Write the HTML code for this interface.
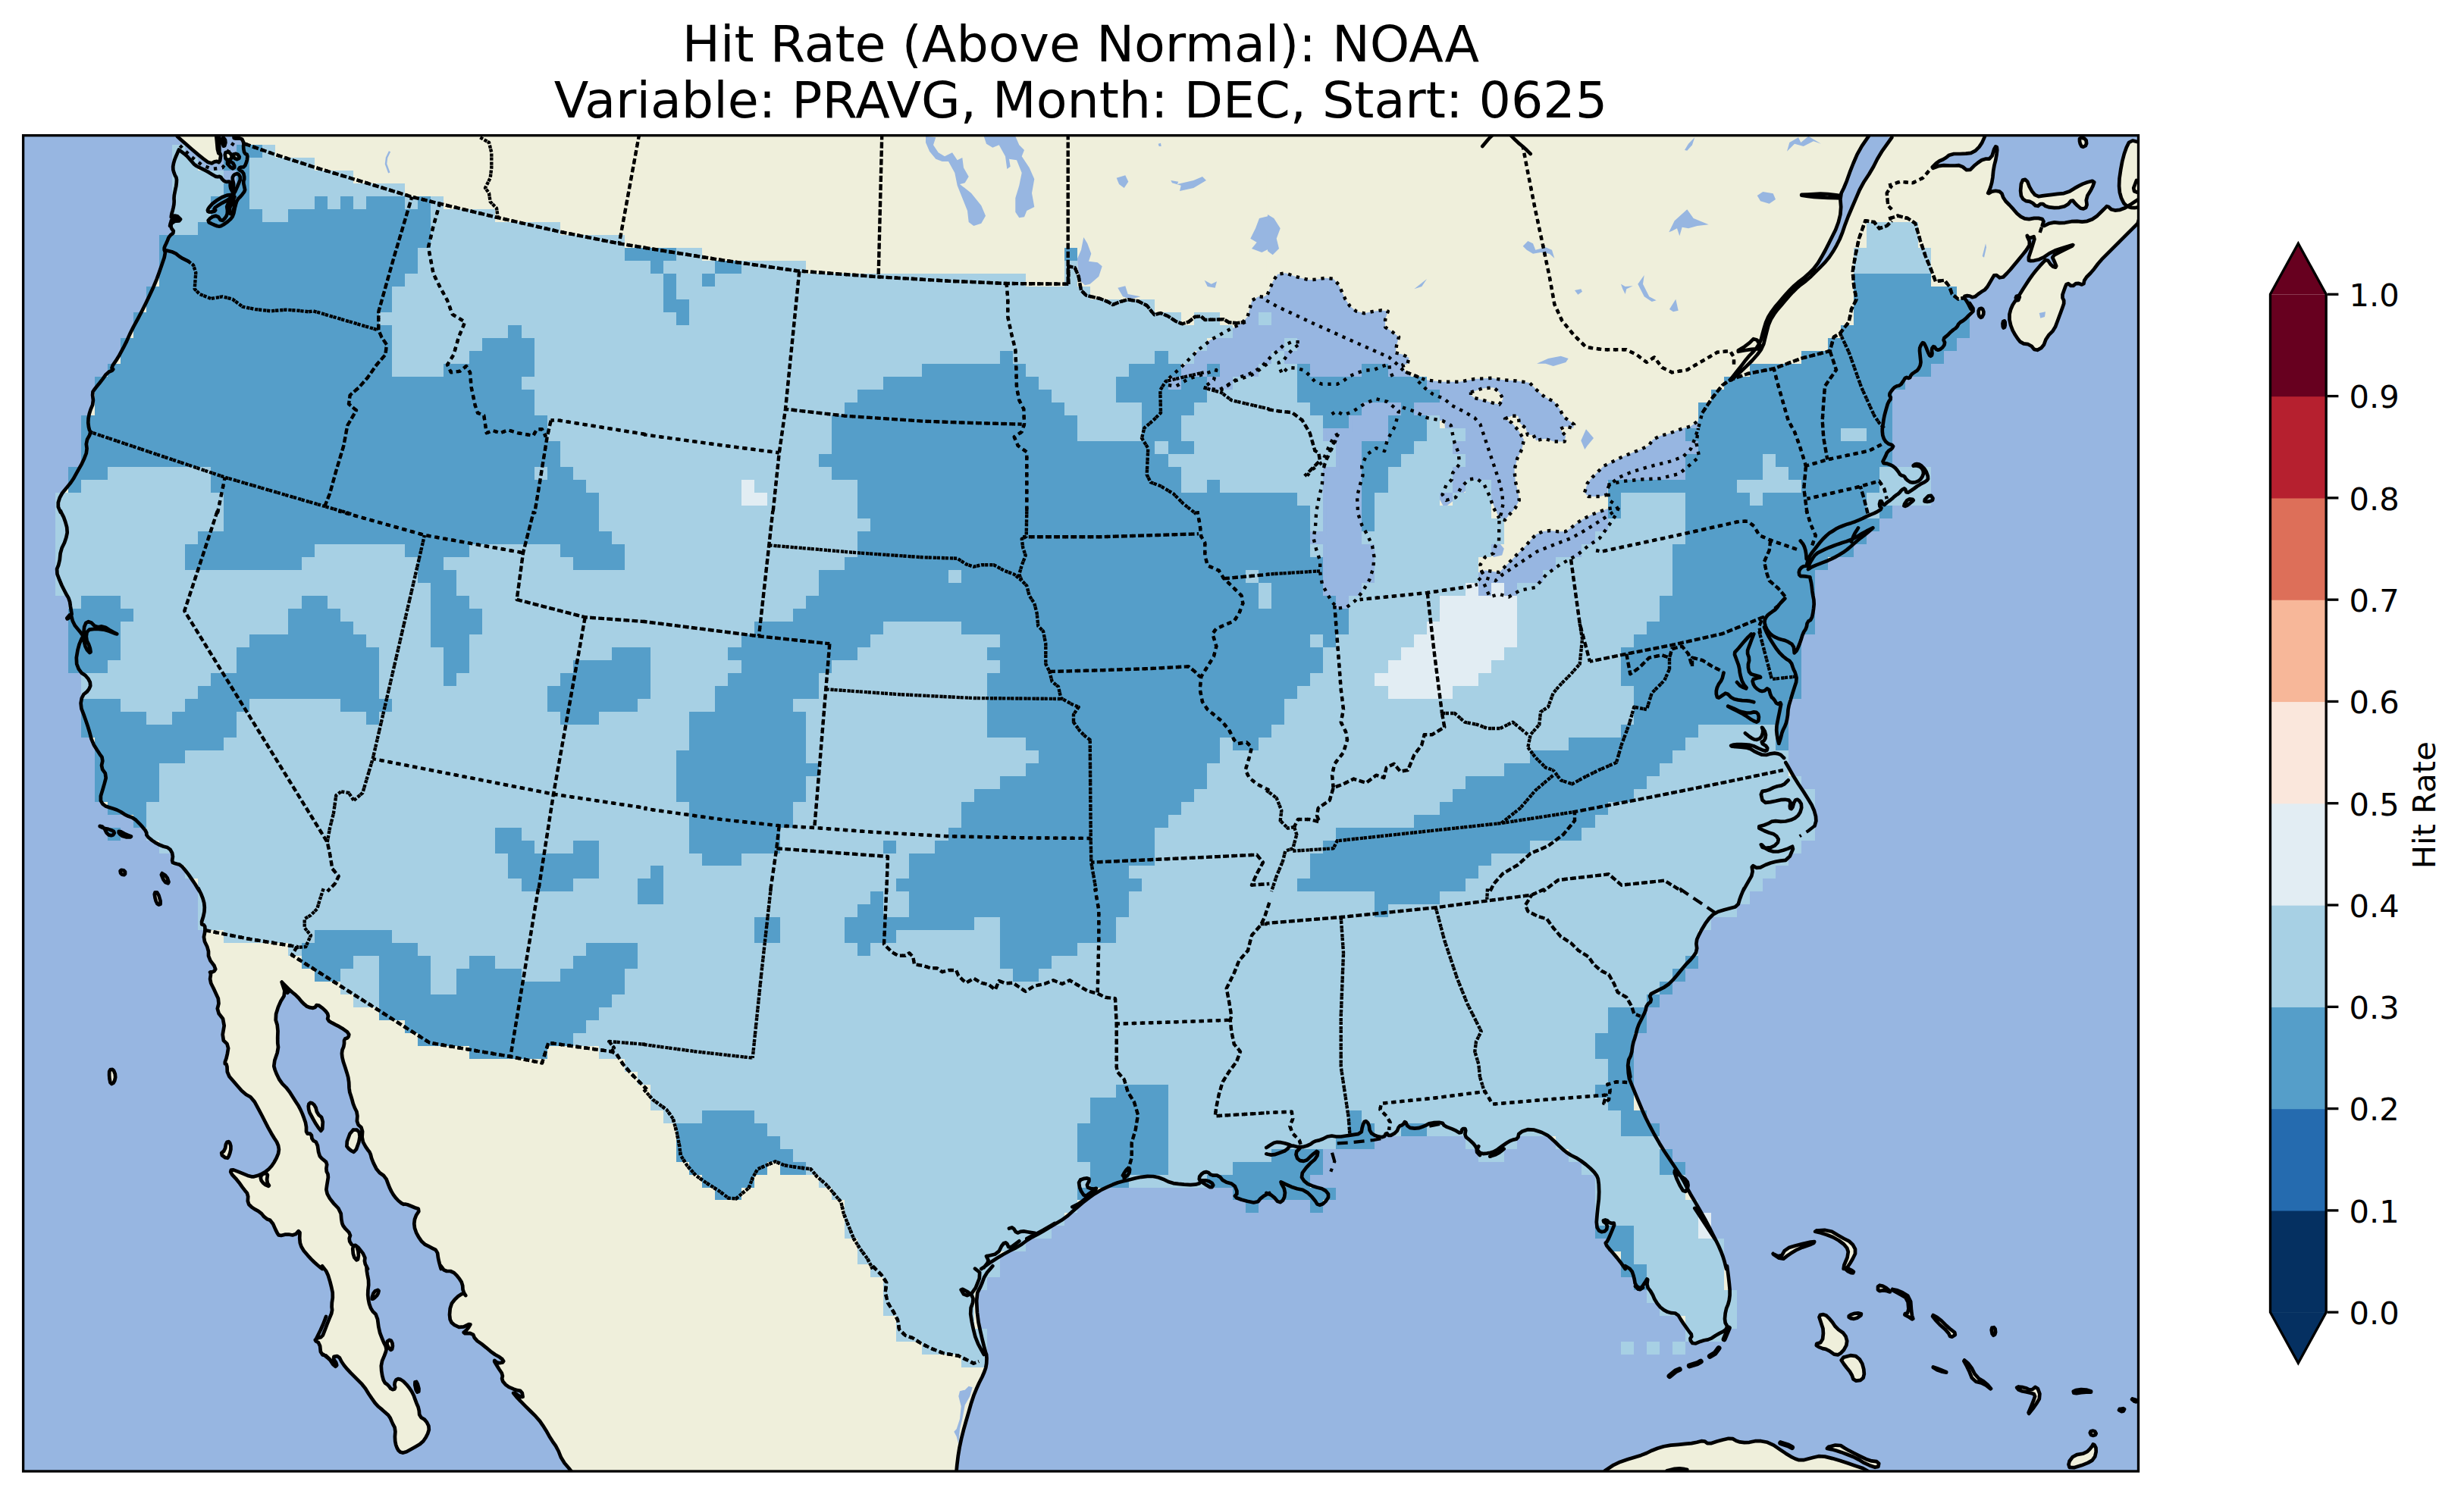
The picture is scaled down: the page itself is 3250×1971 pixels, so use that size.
<!DOCTYPE html>
<html lang="en"><head><meta charset="utf-8"><title>Hit Rate (Above Normal): NOAA</title>
<style>
html,body{margin:0;padding:0;background:#fff;}
body{width:3250px;height:1971px;overflow:hidden;}
svg{display:block;}
text{font-family:"DejaVu Sans","Liberation Sans",sans-serif;fill:#000;}
.coast{fill:none;stroke:#000;stroke-width:4.7;stroke-linejoin:round;stroke-linecap:round;}
.bord{fill:none;stroke:#000;stroke-width:4.4;stroke-dasharray:4.3 6.8;stroke-linejoin:round;}
.st{fill:none;stroke:#000;stroke-width:4.4;stroke-dasharray:4.3 6.8;stroke-linejoin:round;}
.st2{fill:none;stroke:#000;stroke-width:4.4;stroke-dasharray:8.2 2.9;stroke-linejoin:round;}
.land{fill:#efefdb;stroke:none;}
.lake{fill:#97b6e1;stroke:none;}
.dash{fill:none;stroke:#000;stroke-width:4.2;stroke-dasharray:14 8;}
.keys{fill:none;stroke:#000;stroke-width:7;stroke-dasharray:16 14;stroke-linecap:round;}
.riv{fill:none;stroke:#97b6e1;stroke-width:2.5;}
</style></head><body>
<svg width="3250" height="1971" viewBox="0 0 3250 1971">
<defs><clipPath id="fr"><rect x="30.6" y="178.7" width="2789.9" height="1762.3"/></clipPath></defs>
<rect width="3250" height="1971" fill="#fff"/>
<text x="1425.5" y="80.6" font-size="66.67" text-anchor="middle">Hit Rate (Above Normal): NOAA</text>
<text x="1425.5" y="154.6" font-size="66.67" text-anchor="middle">Variable: PRAVG, Month: DEC, Start: 0625</text>
<g clip-path="url(#fr)">
<rect x="30.6" y="178.7" width="2789.9" height="1762.3" fill="#97b6e1"/>
<path class="land" d="M298.0 240.1L293.9 237.6L290.6 232.7L285.7 233.5L281.7 231.1L273.5 226.2L265.3 222.1L257.2 218.0L252.3 212.3L245.7 204.9L235.9 197.6L235.9 197.6L232.7 204.9L229.4 213.1L227.8 222.1L230.2 230.3L233.1 235.2L232.7 243.3L231.0 251.5L229.4 259.7L229.8 267.8L228.2 276.0L226.1 283.3L225.7 287.8L231.8 283.3L240.0 291.1L225.3 292.3L223.7 300.0L226.7 288.0L240.0 289.7L226.7 293.0L225.0 299.7L230.0 306.3L223.3 311.3L220.0 319.7L216.7 326.3L216.7 329.7L218.3 334.7L211.7 354.7L205.0 373.0L195.0 394.7L185.0 414.7L173.3 436.3L165.0 454.7L155.0 473.0L146.7 484.7L150.0 488.0L141.7 491.3L133.3 503.0L125.0 513.0L121.7 518.0L123.3 531.3L118.3 543.0L116.0 554.7L117.3 566.3L120.0 570.7L113.3 583.0L115.0 594.7L110.0 608.0L101.7 623.0L95.0 634.7L88.3 643.0L80.0 653.0L75.7 666.3L80.0 676.0L853.3 678.0L853.3 176.3L320.0 176.3L308.6 179.6L318.4 182.1L321.7 188.6L320.9 194.3L322.5 202.5L326.6 204.1L325.8 212.3L322.5 220.5L316.8 220.5L314.3 223.7L320.9 227.0L322.5 235.2L306.2 252.3Z"/>
<path class="land" d="M233.9 180.0L249.0 193.5L265.3 207.4L277.6 216.4L284.9 212.3L289.8 214.7L291.5 202.5L287.4 202.5L285.3 180.0Z"/>
<path class="land" d="M296.4 201.7L301.3 200.0L306.2 204.9L304.5 210.7L298.0 211.5L296.4 201.7Z"/>
<path class="land" d="M306.2 204.1L312.7 202.5L316.8 208.2L311.1 210.7L306.2 204.1Z"/>
<path class="land" d="M298.0 213.9L306.2 213.1L310.2 220.5L306.2 222.9L298.0 213.9Z"/>
<path class="land" d="M293.9 180.4L298.0 186.2L295.5 194.3L293.1 187.8L293.9 180.4Z"/>
<path class="land" d="M849.3 176.3L1674.3 176.3L1674.3 678.0L849.3 678.0Z"/>
<path class="land" d="M1670.3 176.3L2495.3 176.3L2495.3 678.0L1670.3 678.0Z"/>
<path class="land" d="M2491.3 176.3L2618.0 176.3L2618.0 179.7L2613.0 191.3L2603.0 201.3L2589.7 203.0L2573.0 203.0L2564.7 209.7L2556.3 213.0L2546.3 223.0L2559.7 218.0L2576.3 218.7L2586.3 218.0L2596.3 226.3L2606.3 216.3L2616.3 209.7L2626.3 209.7L2631.3 193.0L2634.7 194.7L2633.0 208.0L2629.7 221.3L2628.0 238.0L2624.7 249.7L2621.3 256.3L2629.7 251.3L2639.7 253.0L2643.0 263.0L2653.0 273.0L2663.0 284.7L2673.0 289.7L2686.3 287.3L2696.3 289.7L2693.0 299.7L2706.3 293.0L2719.7 294.7L2736.3 291.3L2749.7 293.0L2763.0 288.0L2776.3 274.7L2779.7 271.3L2786.3 278.0L2799.7 276.3L2813.0 268.0L2823.0 261.3L2823.0 291.3L2809.7 304.7L2799.7 314.7L2789.7 324.7L2779.7 334.7L2769.7 344.7L2759.7 358.0L2749.7 368.0L2748.0 376.3L2739.7 373.0L2733.0 378.0L2726.3 373.0L2723.0 381.3L2719.7 391.3L2723.0 398.0L2719.7 408.0L2714.7 421.3L2709.7 434.7L2699.7 444.7L2694.7 458.0L2684.7 463.0L2678.0 454.7L2666.3 453.0L2659.7 444.7L2653.0 433.0L2649.7 418.0L2653.0 404.7L2659.7 394.7L2666.3 384.7L2674.7 371.3L2683.0 359.7L2693.0 348.0L2699.7 341.3L2706.3 351.3L2713.0 353.0L2709.7 344.7L2706.3 338.0L2719.7 331.3L2738.0 322.0L2723.0 326.3L2706.3 332.0L2693.0 341.3L2679.7 344.7L2674.7 343.0L2679.7 328.0L2684.7 311.3L2676.3 314.7L2673.0 309.7L2678.0 321.3L2673.0 329.7L2666.3 338.0L2658.0 348.0L2649.7 358.0L2639.7 368.0L2631.3 361.3L2626.3 369.7L2619.7 381.3L2611.3 386.3L2603.0 393.0L2596.3 389.7L2589.7 391.3L2594.7 398.0L2599.7 408.0L2491.3 408.0Z"/>
<path class="land" d="M2823.0 188.0L2809.7 184.7L2803.0 198.0L2798.0 218.0L2794.7 241.3L2796.3 258.0L2803.0 271.3L2813.0 274.7L2823.0 273.0Z"/>
<path class="land" d="M2666.3 238.0L2673.0 236.3L2678.0 249.7L2686.3 259.7L2696.3 258.0L2709.7 256.3L2726.3 254.7L2739.7 246.3L2749.7 241.3L2763.0 238.0L2759.7 248.0L2751.3 261.3L2753.0 273.0L2746.3 276.3L2738.0 269.7L2733.0 263.0L2726.3 271.3L2713.0 274.7L2699.7 273.0L2693.0 268.0L2686.3 273.0L2679.7 266.3L2669.7 264.7L2664.7 256.3Z"/>
<path class="land" d="M2609.7 408.0L2614.7 406.3L2617.0 413.0L2613.7 419.7L2609.7 416.3Z"/>
<path class="land" d="M2641.3 424.7L2644.7 423.0L2644.7 431.3L2642.0 433.0Z"/>
<path class="land" d="M2658.0 391.3L2664.7 389.7L2661.3 398.0Z"/>
<path class="land" d="M2743.0 181.3L2751.3 183.0L2752.3 191.3L2746.3 194.7L2743.0 188.0Z"/>
<path class="land" d="M2598.0 400.0L2604.0 409.0L2598.0 415.1L2591.0 422.1L2583.9 426.1L2580.9 432.1L2574.9 436.1L2568.9 442.2L2562.9 447.2L2565.9 453.2L2560.8 460.2L2554.8 462.2L2550.8 456.2L2547.8 460.2L2548.8 468.3L2545.8 470.3L2542.8 464.3L2539.8 456.2L2536.7 451.2L2533.7 455.2L2531.7 460.2L2532.7 470.3L2533.7 480.3L2529.7 488.4L2524.7 491.4L2520.7 494.4L2518.7 499.4L2513.7 497.4L2510.6 502.4L2506.6 508.4L2500.6 509.4L2495.6 514.5L2491.6 520.5L2494.6 525.5L2490.6 530.5L2487.6 540.6L2484.9 550.6L2483.5 560.6L2482.5 566.7L2483.5 576.7L2488.6 584.7L2497.6 587.8L2495.6 591.8L2489.6 595.8L2486.5 602.8L2482.5 610.8L2490.6 611.8L2498.6 615.9L2503.6 621.9L2506.6 626.9L2511.6 627.9L2514.7 632.9L2520.7 636.9L2528.7 635.9L2534.7 630.9L2537.8 622.9L2533.7 615.9L2526.7 613.9L2522.7 614.9L2526.7 611.8L2532.7 612.9L2539.8 619.9L2543.8 630.9L2540.8 634.9L2530.7 640.0L2522.7 646.0L2514.7 651.0L2512.7 644.0L2508.6 646.0L2504.6 651.0L2499.6 654.0L2494.6 659.0L2488.6 663.1L2484.5 667.1L2480.5 659.0L2478.5 667.1L2482.5 671.1L2474.5 676.1L2464.5 680.1L2454.4 685.1L2444.4 689.2L2434.3 692.2L2424.3 696.2L2418.3 700.0L2418.3 701.2L2348.0 701.2L2348.0 398.0L2598.0 398.0Z"/>
<path class="land" d="M2510.6 667.1L2516.7 658.0L2524.7 659.0L2520.7 663.1L2513.7 668.1Z"/>
<path class="land" d="M2536.7 661.0L2545.8 652.0L2550.8 659.0L2543.8 662.0Z"/>
<path class="land" d="M80.0 674.3L85.0 684.3L89.3 699.3L86.7 712.7L80.0 726.0L78.3 742.7L74.0 753.3L80.0 769.3L86.7 782.7L91.7 791.0L93.3 802.7L95.0 812.7L86.7 817.7L93.3 809.3L96.7 822.7L105.0 832.7L110.0 839.3L108.3 841.0L103.3 852.7L100.0 872.7L105.0 886.0L115.0 892.7L120.0 902.7L116.7 911.0L108.3 917.7L106.0 931.0L111.7 946.0L117.3 962.7L121.7 979.3L130.0 992.7L136.0 1001.0L133.3 1012.7L140.7 1022.7L136.7 1037.7L131.7 1054.3L136.7 1062.7L146.7 1066.0L156.7 1069.3L166.7 1076.0L176.7 1079.3L186.7 1089.3L193.3 1097.7L193.3 1102.7L203.3 1111.0L213.3 1116.0L223.3 1118.7L228.3 1127.7L226.7 1137.7L231.7 1139.3L238.3 1141.0L246.7 1151.0L255.0 1162.7L263.3 1176.0L853.3 1176.0L853.3 674.3Z"/>
<path class="land" d="M130.0 1089.3L136.7 1091.0L141.7 1101.0L148.3 1102.7L151.7 1097.7L145.0 1094.3L136.7 1092.7Z"/>
<path class="land" d="M156.7 1096.0L166.7 1101.0L175.0 1104.3L163.3 1104.3L156.7 1099.3Z"/>
<path class="land" d="M158.3 1147.7L165.0 1148.7L165.0 1154.3L159.3 1153.3Z"/>
<path class="land" d="M211.7 1151.0L220.0 1156.0L223.3 1166.0L216.7 1163.3Z"/>
<path class="land" d="M849.3 674.3L1674.3 674.3L1674.3 1176.0L849.3 1176.0Z"/>
<path class="land" d="M1670.3 674.3L2418.7 674.3L2418.2 700.1L2411.2 704.4L2402.1 713.5L2395.2 722.6L2389.5 729.4L2385.0 737.4L2382.7 746.5L2382.7 746.5L2377.0 747.6L2372.5 753.3L2373.6 760.1L2379.3 760.1L2387.3 761.3L2387.3 761.3L2389.5 771.5L2390.7 782.9L2393.0 794.3L2391.8 805.7L2389.5 817.0L2383.9 820.4L2382.7 828.4L2378.2 835.2L2374.8 846.6L2370.2 858.0L2366.8 861.4L2365.7 883.0L2367.9 887.6L2370.2 896.7L2365.7 910.3L2362.2 921.7L2358.8 933.1L2357.7 946.8L2355.4 955.9L2350.9 965.0L2348.6 974.1L2346.3 980.9L2353.1 1000.0L2355.3 1006.0L2368.7 1029.3L2382.0 1049.3L2392.0 1066.0L2396.0 1081.0L2393.7 1089.3L2373.7 1103.3L2367.0 1115.3L2358.7 1134.3L2345.3 1136.0L2332.0 1139.3L2318.7 1146.0L2310.3 1141.0L2312.0 1152.7L2305.3 1164.3L2298.7 1176.0L1670.3 1176.0Z"/>
<path class="land" d="M2385.0 747.6L2389.5 738.5L2395.2 730.6L2404.3 726.0L2415.7 721.0L2427.1 716.9L2438.5 713.5L2447.6 708.9L2459.0 702.1L2470.3 696.4L2470.3 696.4L2461.2 704.4L2452.1 711.2L2443.0 719.2L2433.9 727.1L2422.5 734.0L2413.4 738.5L2402.1 743.1L2393.0 746.5L2388.4 748.8L2385.0 751.0Z"/>
<path class="land" d="M261.7 1172.3L266.7 1182.3L270.0 1194.0L269.3 1205.7L265.0 1219.0L270.0 1220.7L270.7 1227.3L268.3 1239.0L275.0 1252.3L275.0 1264.0L285.0 1277.3L281.7 1282.3L276.7 1282.3L278.3 1284.0L276.7 1294.0L283.3 1307.3L289.3 1320.7L286.0 1334.0L296.7 1347.3L292.7 1370.7L301.7 1379.0L299.3 1394.0L296.0 1403.3L299.3 1404.0L300.0 1417.3L310.0 1429.0L321.7 1442.3L333.3 1449.0L343.3 1467.3L351.7 1484.0L360.0 1499.0L366.7 1509.0L368.3 1519.0L363.3 1530.7L356.7 1540.7L348.3 1547.3L336.7 1552.3L330.0 1552.3L316.7 1546.7L305.0 1542.3L304.0 1547.3L313.3 1557.3L321.7 1569.0L327.3 1575.7L326.7 1587.3L333.3 1594.0L343.3 1599.0L350.0 1607.3L358.3 1610.7L365.0 1625.7L368.3 1630.7L378.3 1628.0L388.3 1630.0L395.7 1622.3L395.0 1637.3L398.3 1647.3L408.3 1659.0L416.7 1667.3L425.0 1674.0L425.0 1674.0L485.0 1674.0L485.0 1674.0L480.7 1665.7L481.7 1657.3L470.0 1642.3L465.0 1644.0L460.0 1635.7L462.7 1628.0L453.3 1619.0L450.7 1612.3L449.3 1597.3L436.7 1584.0L430.0 1572.3L431.7 1560.7L433.3 1550.7L430.0 1544.0L431.7 1534.0L425.0 1529.0L420.7 1524.0L418.3 1507.3L411.7 1504.0L410.7 1495.7L404.0 1495.7L404.0 1484.0L400.0 1472.3L395.0 1460.7L388.3 1450.7L380.0 1437.3L370.0 1427.3L363.3 1414.0L360.7 1404.0L367.3 1384.0L366.0 1374.0L366.7 1355.7L362.7 1342.3L368.3 1324.0L376.7 1310.7L371.7 1295.7L371.7 1295.7L383.3 1307.3L391.7 1314.0L400.0 1324.0L406.7 1329.0L415.0 1330.0L418.3 1324.7L428.3 1332.3L433.3 1339.0L431.7 1345.7L440.0 1350.7L450.0 1355.7L460.7 1363.3L459.3 1369.0L454.0 1370.7L454.0 1379.0L450.7 1387.3L451.7 1397.3L456.7 1412.3L460.0 1424.0L460.7 1439.0L463.3 1447.3L466.7 1459.0L471.7 1469.0L470.7 1482.3L478.3 1489.0L477.3 1504.0L484.0 1515.7L488.3 1520.7L490.7 1530.7L498.3 1545.7L508.3 1552.3L513.3 1565.7L517.3 1574.0L523.3 1582.3L531.7 1589.0L535.0 1588.3L545.0 1592.3L554.0 1595.7L547.3 1605.7L546.0 1617.3L550.0 1629.0L558.3 1640.7L568.3 1645.7L576.7 1650.0L578.3 1662.3L581.7 1674.0L581.7 1674.0L853.3 1674.0L853.3 1172.3Z"/>
<path class="land" d="M406.7 1457.3L410.0 1454.0L416.0 1459.0L418.3 1469.0L426.0 1475.7L425.0 1494.0L418.3 1485.7L411.7 1474.0L407.3 1465.7Z"/>
<path class="land" d="M463.3 1490.7L473.3 1490.7L475.0 1502.3L468.3 1520.7L461.7 1517.3L456.0 1510.7Z"/>
<path class="land" d="M298.3 1507.3L302.7 1505.7L305.0 1514.0L302.7 1524.0L299.3 1529.0L290.7 1522.3L296.7 1517.3Z"/>
<path class="land" d="M144.3 1411.3L149.3 1410.7L152.7 1419.0L150.7 1428.0L146.0 1430.7L144.0 1420.7Z"/>
<path class="land" d="M203.3 1177.3L208.3 1177.3L212.7 1192.3L208.3 1194.0L205.0 1187.3Z"/>
<path class="land" d="M465.0 1644.0L470.0 1642.3L473.3 1654.0L471.7 1664.0L466.0 1657.3Z"/>
<path class="land" d="M849.3 1172.3L1674.3 1172.3L1674.3 1574.0L1664.3 1579.0L1657.7 1587.3L1641.0 1584.0L1627.7 1579.0L1632.7 1574.0L1627.7 1562.3L1614.3 1559.0L1607.7 1550.7L1597.7 1550.7L1592.7 1545.7L1586.0 1547.3L1581.0 1554.0L1584.3 1560.7L1574.3 1563.3L1557.7 1562.3L1544.3 1560.7L1531.0 1554.0L1517.7 1551.3L1501.0 1553.3L1489.3 1556.7L1477.7 1559.0L1464.3 1564.0L1447.7 1572.3L1431.0 1584.0L1417.7 1595.7L1404.3 1607.3L1387.7 1617.3L1371.0 1627.3L1357.7 1634.0L1344.3 1644.0L1327.7 1652.3L1311.0 1662.3L1294.3 1674.0L849.3 1674.0Z"/>
<path class="land" d="M1670.3 1172.3L2300.3 1172.3L2300.3 1172.3L2295.3 1184.0L2292.0 1195.7L2278.7 1199.0L2262.0 1204.0L2252.0 1214.0L2242.0 1230.7L2237.0 1242.3L2238.7 1254.0L2232.0 1264.0L2222.0 1274.0L2208.7 1290.7L2198.7 1300.7L2185.3 1307.3L2175.3 1312.3L2178.7 1320.7L2172.0 1325.7L2170.3 1334.0L2165.3 1344.0L2160.3 1354.0L2157.0 1367.3L2153.7 1377.3L2152.0 1390.7L2147.0 1400.7L2148.0 1420.7L2152.0 1430.7L2160.3 1450.7L2168.7 1470.7L2178.7 1490.7L2192.0 1514.0L2205.3 1534.0L2218.7 1554.0L2227.0 1570.7L2238.7 1590.7L2252.0 1614.0L2262.0 1634.0L2268.7 1647.3L2273.7 1660.7L2277.0 1674.0L2143.7 1674.0L2143.7 1674.0L2135.3 1662.3L2125.3 1650.7L2117.0 1640.7L2120.3 1637.3L2125.3 1625.7L2130.3 1613.3L2123.7 1614.0L2118.7 1609.0L2113.7 1610.7L2120.3 1615.7L2118.7 1624.0L2110.3 1625.7L2105.3 1617.3L2107.0 1597.3L2109.3 1577.3L2108.7 1557.3L2105.3 1549.0L2095.3 1539.0L2082.0 1529.0L2068.7 1522.3L2058.7 1514.0L2048.7 1504.0L2038.7 1495.7L2018.7 1489.0L2003.7 1494.0L2002.0 1502.3L1993.7 1504.0L1985.3 1509.0L1972.0 1519.0L1963.7 1521.3L1953.7 1522.3L1948.7 1517.3L1945.3 1510.7L1938.7 1504.0L1932.0 1499.0L1933.7 1489.0L1928.7 1489.0L1927.0 1495.7L1918.7 1490.7L1905.3 1485.7L1902.0 1480.7L1887.0 1481.3L1878.7 1485.7L1868.7 1489.0L1857.0 1487.3L1853.7 1479.0L1850.3 1484.0L1845.3 1485.7L1842.0 1494.0L1832.0 1499.0L1828.7 1494.0L1825.3 1500.7L1815.3 1499.0L1807.0 1494.0L1805.3 1482.3L1800.3 1478.0L1797.0 1485.7L1795.3 1495.7L1778.7 1498.0L1765.3 1500.0L1753.7 1498.0L1742.0 1504.0L1733.7 1505.7L1727.0 1510.7L1715.3 1514.0L1702.0 1510.7L1697.0 1517.3L1688.7 1520.7L1678.7 1524.0L1670.3 1522.3Z"/>
<path class="land" d="M1670.3 1514.0L1715.3 1514.0L1708.7 1520.7L1712.0 1530.7L1722.0 1532.3L1730.3 1524.0L1738.7 1517.3L1737.0 1527.3L1725.3 1537.3L1715.3 1550.7L1722.0 1560.7L1733.7 1565.7L1747.0 1569.0L1753.7 1577.3L1747.0 1587.3L1738.7 1590.7L1733.7 1582.3L1722.0 1570.7L1707.0 1567.3L1692.0 1560.7L1688.7 1559.0L1695.3 1570.7L1693.7 1582.3L1687.0 1587.3L1678.7 1577.3L1670.3 1574.0Z"/>
<path class="land" d="M2335.3 1652.3L2348.7 1659.0L2355.3 1647.3L2372.0 1642.3L2393.7 1637.3L2392.0 1640.7L2372.0 1647.3L2358.7 1655.7L2350.3 1662.3Z"/>
<path class="land" d="M2390.3 1624.0L2412.0 1622.3L2428.7 1632.3L2442.0 1639.0L2448.7 1650.7L2442.0 1664.0L2435.3 1674.0L2430.3 1674.0L2438.7 1654.0L2435.3 1644.0L2422.0 1634.0L2405.3 1627.3Z"/>
<path class="land" d="M425.0 1670.3L431.7 1678.7L436.7 1695.3L439.3 1708.7L437.3 1722.0L438.3 1730.3L433.3 1742.0L428.3 1755.3L425.0 1763.7L418.3 1765.3L415.0 1768.7L421.7 1772.0L423.3 1787.0L431.7 1788.7L441.7 1803.7L445.0 1800.3L438.3 1790.3L446.7 1788.7L451.7 1798.7L460.0 1808.7L470.0 1818.7L480.0 1828.7L488.3 1842.0L496.7 1853.7L506.7 1862.0L514.0 1868.7L517.3 1877.0L521.7 1885.3L520.7 1898.7L522.7 1908.7L526.7 1915.3L533.3 1917.0L545.0 1910.3L556.7 1903.7L563.3 1893.7L566.7 1883.7L561.7 1873.7L553.3 1868.7L552.7 1858.7L548.3 1848.7L545.0 1838.7L538.3 1828.7L530.0 1820.3L523.3 1818.7L520.0 1825.3L521.7 1832.0L516.7 1833.7L511.7 1827.0L506.7 1823.7L503.3 1812.0L502.7 1798.7L508.3 1785.3L510.0 1778.7L505.0 1768.7L500.0 1755.3L497.3 1735.3L490.0 1728.7L486.0 1717.0L485.0 1705.3L486.7 1692.0L484.0 1678.7L483.3 1670.3Z"/>
<path class="land" d="M581.7 1670.3L586.7 1677.0L596.7 1677.0L605.0 1685.3L610.0 1693.7L610.7 1703.7L615.0 1710.3L611.7 1705.3L601.7 1712.0L594.0 1722.0L592.7 1738.7L596.7 1747.0L608.3 1752.0L621.7 1745.3L616.7 1753.7L610.0 1759.3L623.3 1758.7L626.7 1767.0L638.3 1775.3L650.0 1785.3L661.7 1792.0L665.0 1797.0L656.7 1798.7L650.7 1793.7L656.7 1803.7L663.3 1813.7L661.7 1820.3L668.3 1828.7L680.0 1833.7L688.3 1835.3L690.0 1845.3L675.0 1835.3L683.3 1845.3L696.7 1858.7L710.0 1872.0L718.3 1883.7L726.7 1898.7L735.0 1910.3L741.7 1927.0L753.3 1940.3L758.3 1948.7L853.3 1948.7L853.3 1670.3Z"/>
<path class="land" d="M490.0 1713.7L493.3 1703.7L500.0 1701.3L498.3 1708.0L492.7 1713.7Z"/>
<path class="land" d="M510.0 1770.3L515.0 1767.0L518.3 1773.7L516.7 1782.0L511.7 1777.0Z"/>
<path class="land" d="M546.7 1823.7L550.0 1822.7L553.3 1835.3L549.3 1837.0Z"/>
<path class="land" d="M849.3 1670.3L1309.3 1670.3L1299.3 1682.0L1294.3 1695.3L1287.7 1708.7L1289.3 1738.7L1294.3 1762.0L1299.3 1782.0L1301.7 1788.7L1301.0 1802.0L1297.7 1812.0L1289.3 1828.7L1282.7 1845.3L1276.0 1868.7L1269.3 1892.0L1264.3 1915.3L1261.7 1938.7L1261.0 1948.7L849.3 1948.7Z"/>
<path class="land" d="M2143.7 1670.3L2152.0 1675.3L2155.3 1685.3L2157.0 1695.3L2163.7 1700.3L2168.7 1693.7L2173.7 1685.3L2172.0 1697.0L2178.7 1705.3L2183.7 1717.0L2192.0 1727.0L2202.0 1732.0L2212.0 1732.7L2218.7 1743.7L2227.0 1755.3L2232.0 1762.0L2228.7 1767.0L2233.7 1773.7L2245.3 1768.7L2255.3 1767.0L2265.3 1760.3L2275.3 1755.3L2278.7 1750.3L2274.7 1743.7L2276.0 1728.7L2280.3 1718.7L2282.0 1705.3L2280.3 1688.7L2278.0 1670.3Z"/>
<path class="land" d="M2117.0 1940.3L2132.0 1930.3L2152.0 1923.7L2168.7 1918.7L2182.0 1912.0L2198.7 1907.0L2218.7 1905.3L2235.3 1903.7L2247.0 1900.3L2253.7 1905.3L2268.7 1900.3L2283.7 1897.0L2292.0 1902.0L2303.7 1903.7L2318.7 1900.3L2335.3 1903.7L2352.0 1915.3L2365.3 1923.7L2375.3 1927.0L2388.7 1923.7L2402.0 1920.3L2422.0 1925.3L2442.0 1932.0L2462.0 1938.7L2472.0 1948.7L2117.0 1948.7Z"/>
<path class="land" d="M2398.7 1735.3L2407.0 1733.7L2415.3 1742.0L2422.0 1752.0L2433.7 1760.3L2437.0 1772.0L2430.3 1783.7L2422.0 1788.7L2410.3 1780.3L2402.0 1778.7L2393.7 1773.7L2403.7 1770.3L2405.3 1755.3L2402.0 1745.3Z"/>
<path class="land" d="M2427.0 1792.0L2445.3 1787.0L2455.3 1795.3L2459.3 1810.3L2457.0 1820.3L2445.3 1822.0L2442.0 1812.0L2433.7 1802.0Z"/>
<path class="land" d="M2407.0 1910.3L2425.3 1905.3L2435.3 1912.0L2448.7 1918.7L2465.3 1927.0L2478.7 1928.7L2477.0 1937.0L2462.0 1932.0L2448.7 1923.7L2432.0 1917.0L2418.7 1912.7Z"/>
<path class="land" d="M2438.7 1735.3L2448.7 1732.0L2457.0 1733.7L2447.0 1740.3L2438.7 1738.7Z"/>
<path class="land" d="M2433.7 1672.0L2445.3 1677.0L2443.7 1680.3L2435.3 1676.0Z"/>
<path class="land" d="M2477.0 1695.3L2485.3 1697.0L2495.3 1705.3L2485.3 1702.0L2477.0 1703.7Z"/>
<path class="land" d="M2493.0 1700.4L2505.9 1703.0L2519.8 1711.8L2521.4 1733.9L2524.0 1741.7L2516.2 1736.5L2511.1 1733.9L2517.8 1731.4L2516.2 1713.3L2504.4 1706.6Z"/>
<path class="land" d="M2547.2 1733.9L2557.5 1739.1L2570.4 1752.0L2580.7 1759.7L2573.0 1764.9L2569.4 1757.2L2554.9 1744.3Z"/>
<path class="land" d="M2626.1 1752.0L2631.3 1751.0L2632.3 1759.7L2628.2 1762.3Z"/>
<path class="land" d="M2547.2 1802.6L2557.5 1806.2L2570.4 1811.4L2557.5 1808.8Z"/>
<path class="land" d="M2588.5 1792.3L2598.8 1801.0L2606.5 1816.5L2619.4 1824.3L2628.2 1834.6L2616.9 1825.3L2602.4 1821.7L2596.2 1806.2Z"/>
<path class="land" d="M2659.2 1829.4L2671.0 1830.4L2678.8 1834.6L2686.5 1828.4L2691.7 1842.3L2683.9 1855.2L2673.6 1868.1L2681.4 1850.1L2685.0 1839.7L2676.2 1837.2L2663.3 1834.6Z"/>
<path class="land" d="M2734.5 1834.6L2748.5 1832.5L2761.4 1836.6L2748.5 1836.6L2735.6 1838.7Z"/>
<path class="land" d="M2793.4 1859.3L2802.6 1857.8L2800.1 1863.0Z"/>
<path class="land" d="M2810.4 1844.9L2819.2 1847.5L2817.1 1850.1Z"/>
<path class="land" d="M2727.8 1930.1L2735.6 1919.7L2751.0 1917.1L2758.8 1909.4L2761.4 1904.2L2765.5 1912.0L2762.4 1924.9L2751.0 1931.6L2730.4 1937.8Z"/>
<path class="land" d="M2756.2 1888.8L2762.4 1887.2L2765.5 1892.4L2758.8 1894.4Z"/>
<path class="lake" d="M2467.0 176.3L2452.0 198.0L2442.0 221.3L2433.7 244.7L2427.0 258.0L2428.7 278.0L2423.7 298.0L2413.7 318.0L2405.3 334.7L2395.3 351.3L2398.7 354.7L2410.3 343.0L2420.3 328.0L2428.7 311.3L2435.3 291.3L2445.3 268.0L2455.3 244.7L2468.7 224.7L2478.7 204.7L2495.3 181.3ZM1266.0 1835.3L1272.7 1833.7L1277.7 1828.7L1282.7 1830.3L1279.3 1842.0L1272.7 1853.7L1269.3 1872.0L1266.0 1885.3L1264.3 1905.3L1261.7 1895.3L1258.3 1888.7L1261.7 1885.3L1266.0 1872.0L1267.7 1855.3L1264.3 1842.0Z"/>
<path class="lake" d="M1221.0 179.7L1234.3 181.3L1231.0 191.3L1237.7 201.3L1246.0 206.3L1256.0 201.3L1262.7 211.3L1269.3 208.0L1271.0 221.3L1277.7 233.0L1272.7 241.3L1266.0 243.0L1281.0 254.7L1294.3 271.3L1300.0 284.7L1294.3 294.7L1284.3 298.0L1277.7 293.0L1276.0 278.0L1269.3 261.3L1262.7 244.7L1259.3 228.0L1251.0 213.0L1242.7 213.0L1234.3 209.7L1226.0 199.7L1221.0 188.0Z"/>
<path class="lake" d="M1297.7 179.7L1339.3 179.7L1344.3 191.3L1351.0 198.0L1347.7 206.3L1357.7 221.3L1364.3 236.3L1361.0 254.7L1364.3 273.0L1354.3 278.0L1351.0 286.3L1344.3 287.3L1339.3 279.7L1339.3 261.3L1344.3 244.7L1347.7 228.0L1341.0 211.3L1331.0 209.7L1332.7 219.7L1328.3 223.0L1326.0 206.3L1317.7 191.3L1309.3 194.7L1301.0 189.7Z"/>
<path class="lake" d="M1429.3 313.0L1434.3 321.3L1439.3 334.7L1436.0 344.7L1447.7 346.3L1453.7 351.3L1449.3 364.7L1437.7 374.7L1431.0 376.3L1424.3 369.7L1421.7 354.7L1421.0 341.3L1426.0 329.7Z"/>
<path class="lake" d="M1472.7 234.7L1484.3 231.3L1488.3 239.7L1482.7 248.0L1476.0 243.0Z"/>
<path class="lake" d="M1544.3 238.0L1554.3 239.7L1552.7 243.0L1574.3 238.0L1586.0 233.0L1591.0 238.0L1574.3 248.0L1556.0 252.0L1557.7 244.7L1546.0 241.3Z"/>
<path class="lake" d="M1588.7 369.7L1597.7 374.7L1605.0 371.3L1602.7 379.7L1592.7 378.0Z"/>
<path class="lake" d="M1474.3 379.7L1484.3 377.3L1487.7 388.0L1504.3 391.3L1491.0 394.7L1481.0 391.3Z"/>
<path class="lake" d="M1674.3 284.7L1661.0 288.0L1656.0 301.3L1649.3 314.7L1657.7 319.7L1651.0 328.0L1664.3 333.0L1674.3 328.0Z"/>
<path class="lake" d="M1527.7 189.7L1531.0 188.7L1531.7 193.0L1528.7 193.0Z"/>
<path class="lake" d="M1539.5 505.2L1547.0 496.2L1554.5 489.4L1562.0 481.9L1569.5 473.6L1577.1 465.4L1584.6 457.1L1592.8 450.4L1602.6 445.1L1612.3 440.6L1622.1 435.3L1631.1 430.1L1638.6 425.6L1645.4 418.1L1648.4 407.6L1651.4 396.3L1660.4 391.1L1666.4 391.8L1671.7 388.8L1675.4 379.8L1679.2 370.8L1685.2 361.8L1695.7 360.3L1706.2 364.0L1716.7 367.0L1727.2 369.3L1737.7 368.5L1748.2 366.7L1758.7 367.8L1765.5 375.3L1770.0 385.0L1774.5 394.8L1780.5 403.8L1788.8 410.6L1799.3 413.3L1810.5 411.0L1821.8 409.4L1830.8 410.6L1827.1 421.8L1827.1 431.6L1836.1 437.6L1845.1 444.4L1842.1 455.6L1840.6 465.4L1849.6 467.6L1858.6 472.1L1856.3 480.4L1850.3 481.1L1853.3 490.2L1859.3 493.2L1865.3 505.2L1820.3 520.2L1715.2 520.2L1610.1 527.7L1535.0 520.2L1535.0 505.2Z"/>
<path class="lake" d="M1865.0 495.0L1880.0 501.2L1902.5 503.8L1925.0 503.8L1945.0 500.0L1967.5 498.8L1982.5 501.2L2000.0 502.5L2017.5 505.0L2026.2 513.8L2037.5 523.8L2050.0 530.0L2057.5 540.0L2062.5 550.0L2076.2 560.0L2075.0 565.0L2065.0 562.5L2057.5 566.2L2065.0 575.0L2063.8 582.5L2050.0 582.5L2037.5 578.8L2026.2 581.2L2022.5 573.8L2015.0 573.8L2012.5 565.0L2003.8 557.5L2002.5 548.8L1993.8 548.8L1985.0 552.5L1993.8 557.5L2002.5 567.5L2010.0 580.0L2007.5 592.5L2001.2 605.0L1997.5 620.0L1998.8 635.0L2002.5 650.0L2003.8 660.0L1998.8 670.0L1990.0 680.0L1985.0 686.2L1977.5 683.8L1965.0 655.0L1940.0 642.5L1905.0 670.0L1890.0 642.5L1910.0 605.0L1905.0 555.0L1862.5 555.0L1862.5 530.0Z"/>
<path class="lake" d="M1965.0 717.5L1977.5 716.2L1983.8 723.8L1981.2 732.5L1970.0 735.0L1963.8 727.5Z"/>
<path class="lake" d="M1952.5 755.0L1958.8 752.5L1967.5 753.8L1977.5 755.0L1983.8 748.8L1990.0 742.5L1997.5 735.0L2005.0 727.5L2012.5 720.0L2020.0 711.2L2026.2 705.0L2035.0 701.2L2045.0 700.0L2055.0 701.2L2065.0 701.2L2072.5 696.2L2080.0 690.0L2090.0 683.8L2100.0 678.8L2110.0 675.0L2120.0 671.2L2130.0 670.0L2136.2 672.5L2137.5 687.5L2115.0 720.0L2090.0 740.0L2052.5 757.5L2035.0 775.0L2002.5 790.0L1950.0 790.0L1947.5 755.0Z"/>
<path class="lake" d="M2091.2 646.2L2093.8 637.5L2100.0 630.0L2107.5 622.5L2115.0 615.0L2125.0 610.0L2137.5 603.8L2152.5 597.5L2165.0 592.5L2175.0 587.5L2180.0 580.0L2190.0 575.0L2200.0 572.5L2210.0 568.8L2220.0 565.0L2230.0 562.5L2240.0 555.0L2242.5 600.0L2225.0 620.0L2222.5 635.0L2120.5 635.0L2120.5 652.5L2110.0 655.0L2095.0 655.0L2090.0 650.0Z"/>
<path class="lake" d="M1672.0 283.0L1680.3 288.0L1688.7 301.3L1683.7 314.7L1687.0 328.0L1678.7 336.3L1672.0 331.3Z"/>
<path class="lake" d="M1865.3 381.3L1882.0 368.0L1875.3 378.0Z"/>
<path class="lake" d="M2008.7 324.7L2015.3 318.0L2022.0 321.3L2025.3 329.7L2038.7 326.3L2047.0 329.7L2050.3 340.7L2043.7 334.7L2032.0 333.0L2022.0 334.7L2013.7 329.7Z"/>
<path class="lake" d="M2027.0 479.7L2042.0 473.0L2058.7 469.7L2068.7 473.0L2065.3 478.0L2048.7 483.0L2038.7 479.7Z"/>
<path class="lake" d="M2201.3 306.3L2208.7 291.3L2225.3 276.3L2233.7 288.0L2253.7 296.3L2238.7 298.0L2227.0 301.3L2218.7 299.7L2215.3 311.3L2212.0 301.3L2205.3 304.7Z"/>
<path class="lake" d="M2317.7 258.0L2325.3 253.0L2338.7 255.3L2342.0 263.0L2333.7 268.7L2322.0 265.3Z"/>
<path class="lake" d="M2160.3 374.7L2168.7 363.0L2167.0 374.7L2175.3 391.3L2184.7 396.3L2178.7 398.0L2168.7 391.3Z"/>
<path class="lake" d="M2138.0 374.7L2143.7 378.0L2153.7 377.3L2145.3 381.3L2143.7 388.0L2140.3 381.3Z"/>
<path class="lake" d="M2077.0 383.0L2085.3 381.3L2087.0 384.7L2081.3 388.7Z"/>
<path class="lake" d="M2202.0 408.0L2210.3 394.7L2213.7 409.7L2207.0 411.3Z"/>
<path class="lake" d="M2085.3 581.3L2092.0 566.3L2102.0 578.0L2093.7 588.0L2090.3 593.0Z"/>
<path class="lake" d="M2222.0 198.0L2227.0 189.7L2235.3 181.3L2232.0 191.3L2225.3 198.7Z"/>
<path class="lake" d="M2357.0 199.7L2360.3 188.0L2372.0 181.3L2375.3 188.0L2385.3 179.7L2402.0 189.7L2392.0 186.3L2378.7 193.0L2367.0 189.7L2362.0 194.7Z"/>
<path class="lake" d="M2614.7 338.0L2619.0 321.3L2620.0 326.3L2617.0 339.7Z"/>
<path class="lake" d="M2689.7 413.0L2698.0 411.3L2697.0 418.0L2691.3 419.7Z"/>
<path class="lake" style="stroke:#97b6e1;stroke-width:8;stroke-linejoin:miter" d="M1796.5 532.0L1847.5 532.0L1847.5 549.0L1830.5 549.0L1830.5 583.2L1796.5 583.2L1796.5 719.8L1813.5 719.8L1813.5 770.8L1796.5 770.8L1796.5 788.0L1779.2 788.0L1779.2 805.0L1762.2 805.0L1762.2 788.0L1745.2 788.0L1745.2 719.8L1728.2 719.8L1728.2 702.5L1745.2 702.5L1745.2 617.2L1762.2 617.2L1762.2 583.2L1745.2 583.2L1745.2 566.0L1779.2 566.0L1779.2 549.0L1796.5 549.0Z"/>
<path class="land" d="M1940.0 517.5L1955.0 512.5L1970.0 511.2L1977.5 517.5L1982.5 526.2L1977.5 533.8L1967.5 531.2L1955.0 527.5L1945.0 525.0L1940.0 521.2Z"/>
<path fill="#559ec9" shape-rendering="crispEdges" d="M312.20 190.76h34.12v17.02h-34.12zM295.14 207.78h34.12v17.02h-34.12zM312.20 224.79h17.06v17.02h-17.06zM295.14 241.81h34.12v17.02h-34.12zM278.08 258.83h51.18v17.01h-51.18zM414.56 258.83h17.06v17.01h-17.06zM448.68 258.83h17.06v17.01h-17.06zM482.80 258.83h51.18v17.01h-51.18zM551.04 258.83h17.06v17.01h-17.06zM278.08 275.84h68.24v17.01h-68.24zM380.44 275.84h187.66v17.01h-187.66zM261.02 292.85h307.08v17.01h-307.08zM209.84 309.87h358.26v17.01h-358.26zM209.84 326.88h341.20v17.01h-341.20zM824.00 326.88h68.24v17.01h-68.24zM1404.04 326.88h17.06v17.01h-17.06zM209.84 343.89h341.20v17.01h-341.20zM858.12 343.89h17.06v17.01h-17.06zM943.42 343.89h34.12v17.01h-34.12zM209.84 360.90h324.14v17.01h-324.14zM875.18 360.90h17.06v17.01h-17.06zM926.36 360.90h17.06v17.01h-17.06zM2444.70 360.90h102.36v17.01h-102.36zM192.78 377.91h324.14v17.01h-324.14zM875.18 377.91h17.06v17.01h-17.06zM2444.70 377.91h136.48v17.01h-136.48zM192.78 394.92h324.14v17.01h-324.14zM875.18 394.92h34.12v17.01h-34.12zM2444.70 394.92h153.54v17.01h-153.54zM175.72 411.92h324.14v17.01h-324.14zM892.24 411.92h17.06v17.01h-17.06zM2444.70 411.92h153.54v17.01h-153.54zM175.72 428.93h341.20v17.01h-341.20zM670.46 428.93h17.06v17.01h-17.06zM2427.64 428.93h170.60v17.01h-170.60zM158.66 445.94h358.26v17.01h-358.26zM636.34 445.94h68.24v17.01h-68.24zM2410.58 445.94h170.60v17.01h-170.60zM158.66 462.94h358.26v17.00h-358.26zM619.28 462.94h85.30v17.00h-85.30zM1318.74 462.94h17.06v17.00h-17.06zM1523.46 462.94h17.06v17.00h-17.06zM2376.46 462.94h187.66v17.00h-187.66zM141.60 479.95h375.32v17.00h-375.32zM585.16 479.95h119.42v17.00h-119.42zM1216.38 479.95h136.48v17.00h-136.48zM1489.34 479.95h68.24v17.00h-68.24zM1591.70 479.95h17.06v17.00h-17.06zM1711.12 479.95h17.06v17.00h-17.06zM1796.42 479.95h34.12v17.00h-34.12zM2308.22 479.95h238.84v17.00h-238.84zM124.54 496.95h562.98v17.00h-562.98zM1165.20 496.95h204.72v17.00h-204.72zM1472.28 496.95h68.24v17.00h-68.24zM1557.58 496.95h34.12v17.00h-34.12zM1711.12 496.95h170.60v17.00h-170.60zM2274.10 496.95h238.84v17.00h-238.84zM124.54 513.95h580.04v17.00h-580.04zM1131.08 513.95h255.90v17.00h-255.90zM1472.28 513.95h119.42v17.00h-119.42zM1711.12 513.95h187.66v17.00h-187.66zM2257.04 513.95h238.84v17.00h-238.84zM124.54 530.96h580.04v17.00h-580.04zM1114.02 530.96h290.02v17.00h-290.02zM1506.40 530.96h68.24v17.00h-68.24zM1728.18 530.96h68.24v17.00h-68.24zM1847.60 530.96h17.06v17.00h-17.06zM2239.98 530.96h255.90v17.00h-255.90zM107.48 547.96h614.16v17.00h-614.16zM1096.96 547.96h324.14v17.00h-324.14zM1506.40 547.96h51.18v17.00h-51.18zM1745.24 547.96h34.12v17.00h-34.12zM1830.54 547.96h51.18v17.00h-51.18zM2239.98 547.96h255.90v17.00h-255.90zM107.48 564.96h614.16v17.00h-614.16zM1096.96 564.96h324.14v17.00h-324.14zM1506.40 564.96h51.18v17.00h-51.18zM1830.54 564.96h51.18v17.00h-51.18zM2222.92 564.96h204.72v17.00h-204.72zM2461.76 564.96h34.12v17.00h-34.12zM107.48 581.96h631.22v17.00h-631.22zM1096.96 581.96h426.50v17.00h-426.50zM1540.52 581.96h34.12v17.00h-34.12zM1796.42 581.96h68.24v17.00h-68.24zM2239.98 581.96h255.90v17.00h-255.90zM107.48 598.96h631.22v17.00h-631.22zM1079.90 598.96h460.62v17.00h-460.62zM1796.42 598.96h51.18v17.00h-51.18zM2222.92 598.96h102.36v17.00h-102.36zM2342.34 598.96h153.54v17.00h-153.54zM90.42 615.95h51.18v17.00h-51.18zM278.08 615.95h426.50v17.00h-426.50zM721.64 615.95h34.12v17.00h-34.12zM1096.96 615.95h460.62v17.00h-460.62zM1796.42 615.95h34.12v17.00h-34.12zM2222.92 615.95h102.36v17.00h-102.36zM2359.40 615.95h119.42v17.00h-119.42zM90.42 632.95h17.06v17.00h-17.06zM278.08 632.95h494.74v17.00h-494.74zM1131.08 632.95h426.50v17.00h-426.50zM1591.70 632.95h17.06v17.00h-17.06zM1796.42 632.95h34.12v17.00h-34.12zM2120.56 632.95h170.60v17.00h-170.60zM2376.46 632.95h102.36v17.00h-102.36zM295.14 649.95h494.74v17.00h-494.74zM1131.08 649.95h580.04v17.00h-580.04zM1796.42 649.95h17.06v17.00h-17.06zM2120.56 649.95h17.06v17.00h-17.06zM2222.92 649.95h85.30v17.00h-85.30zM2325.28 649.95h136.48v17.00h-136.48zM295.14 666.94h494.74v16.99h-494.74zM1131.08 666.94h597.10v16.99h-597.10zM1796.42 666.94h17.06v16.99h-17.06zM2120.56 666.94h17.06v16.99h-17.06zM2222.92 666.94h238.84v16.99h-238.84zM2478.82 666.94h17.06v16.99h-17.06zM295.14 683.94h494.74v16.99h-494.74zM1148.14 683.94h580.04v16.99h-580.04zM1796.42 683.94h17.06v16.99h-17.06zM2222.92 683.94h255.90v16.99h-255.90zM261.02 700.93h545.92v16.99h-545.92zM1131.08 700.93h597.10v16.99h-597.10zM2222.92 700.93h238.84v16.99h-238.84zM243.96 717.92h170.60v16.99h-170.60zM533.98 717.92h85.30v16.99h-85.30zM738.70 717.92h85.30v16.99h-85.30zM1131.08 717.92h597.10v16.99h-597.10zM2205.86 717.92h238.84v16.99h-238.84zM243.96 734.92h153.54v16.99h-153.54zM551.04 734.92h34.12v16.99h-34.12zM755.76 734.92h68.24v16.99h-68.24zM1114.02 734.92h631.22v16.99h-631.22zM2205.86 734.92h204.72v16.99h-204.72zM551.04 751.91h51.18v16.99h-51.18zM1079.90 751.91h170.60v16.99h-170.60zM1267.56 751.91h375.32v16.99h-375.32zM1659.94 751.91h85.30v16.99h-85.30zM2205.86 751.91h187.66v16.99h-187.66zM568.10 768.90h34.12v16.99h-34.12zM1079.90 768.90h580.04v16.99h-580.04zM1677.00 768.90h68.24v16.99h-68.24zM2205.86 768.90h187.66v16.99h-187.66zM107.48 785.89h51.18v16.99h-51.18zM397.50 785.89h34.12v16.99h-34.12zM568.10 785.89h51.18v16.99h-51.18zM1062.84 785.89h597.10v16.99h-597.10zM1677.00 785.89h85.30v16.99h-85.30zM2188.80 785.89h204.72v16.99h-204.72zM90.42 802.88h85.30v16.99h-85.30zM380.44 802.88h68.24v16.99h-68.24zM568.10 802.88h68.24v16.99h-68.24zM1045.78 802.88h733.58v16.99h-733.58zM2188.80 802.88h204.72v16.99h-204.72zM90.42 819.87h68.24v16.99h-68.24zM380.44 819.87h85.30v16.99h-85.30zM568.10 819.87h68.24v16.99h-68.24zM994.60 819.87h170.60v16.99h-170.60zM1267.56 819.87h511.80v16.99h-511.80zM2171.74 819.87h221.78v16.99h-221.78zM90.42 836.85h68.24v16.99h-68.24zM329.26 836.85h153.54v16.99h-153.54zM568.10 836.85h51.18v16.99h-51.18zM977.54 836.85h170.60v16.99h-170.60zM1318.74 836.85h409.44v16.99h-409.44zM1745.24 836.85h17.06v16.99h-17.06zM2154.68 836.85h221.78v16.99h-221.78zM90.42 853.84h68.24v16.99h-68.24zM312.20 853.84h187.66v16.99h-187.66zM585.16 853.84h34.12v16.99h-34.12zM806.94 853.84h51.18v16.99h-51.18zM960.48 853.84h170.60v16.99h-170.60zM1301.68 853.84h443.56v16.99h-443.56zM2137.62 853.84h238.84v16.99h-238.84zM90.42 870.83h51.18v16.98h-51.18zM312.20 870.83h187.66v16.98h-187.66zM585.16 870.83h34.12v16.98h-34.12zM755.76 870.83h102.36v16.98h-102.36zM977.54 870.83h119.42v16.98h-119.42zM1318.74 870.83h426.50v16.98h-426.50zM2137.62 870.83h238.84v16.98h-238.84zM278.08 887.81h221.78v16.98h-221.78zM585.16 887.81h17.06v16.98h-17.06zM738.70 887.81h119.42v16.98h-119.42zM960.48 887.81h119.42v16.98h-119.42zM1301.68 887.81h426.50v16.98h-426.50zM2137.62 887.81h238.84v16.98h-238.84zM261.02 904.79h238.84v16.98h-238.84zM721.64 904.79h136.48v16.98h-136.48zM943.42 904.79h136.48v16.98h-136.48zM1301.68 904.79h409.44v16.98h-409.44zM2154.68 904.79h221.78v16.98h-221.78zM107.48 921.78h51.18v16.98h-51.18zM243.96 921.78h85.30v16.98h-85.30zM448.68 921.78h68.24v16.98h-68.24zM721.64 921.78h119.42v16.98h-119.42zM943.42 921.78h102.36v16.98h-102.36zM1301.68 921.78h392.38v16.98h-392.38zM2154.68 921.78h204.72v16.98h-204.72zM107.48 938.76h85.30v16.98h-85.30zM226.90 938.76h85.30v16.98h-85.30zM482.80 938.76h17.06v16.98h-17.06zM738.70 938.76h51.18v16.98h-51.18zM909.30 938.76h153.54v16.98h-153.54zM1301.68 938.76h392.38v16.98h-392.38zM2154.68 938.76h204.72v16.98h-204.72zM107.48 955.74h204.72v16.98h-204.72zM909.30 955.74h153.54v16.98h-153.54zM1301.68 955.74h375.32v16.98h-375.32zM2137.62 955.74h102.36v16.98h-102.36zM2342.34 955.74h17.06v16.98h-17.06zM124.54 972.72h170.60v16.98h-170.60zM909.30 972.72h153.54v16.98h-153.54zM1352.86 972.72h255.90v16.98h-255.90zM1625.82 972.72h34.12v16.98h-34.12zM2069.38 972.72h153.54v16.98h-153.54zM2342.34 972.72h17.06v16.98h-17.06zM124.54 989.70h119.42v16.98h-119.42zM892.24 989.70h170.60v16.98h-170.60zM1369.92 989.70h238.84v16.98h-238.84zM2018.20 989.70h187.66v16.98h-187.66zM124.54 1006.68h85.30v16.98h-85.30zM892.24 1006.68h187.66v16.98h-187.66zM1352.86 1006.68h238.84v16.98h-238.84zM1984.08 1006.68h204.72v16.98h-204.72zM124.54 1023.66h85.30v16.98h-85.30zM892.24 1023.66h170.60v16.98h-170.60zM1318.74 1023.66h272.96v16.98h-272.96zM1932.90 1023.66h238.84v16.98h-238.84zM124.54 1040.64h85.30v16.98h-85.30zM892.24 1040.64h170.60v16.98h-170.60zM1284.62 1040.64h290.02v16.98h-290.02zM1915.84 1040.64h238.84v16.98h-238.84zM141.60 1057.61h51.18v16.98h-51.18zM909.30 1057.61h136.48v16.98h-136.48zM1267.56 1057.61h290.02v16.98h-290.02zM1898.78 1057.61h221.78v16.98h-221.78zM175.72 1074.59h17.06v16.98h-17.06zM909.30 1074.59h136.48v16.98h-136.48zM1267.56 1074.59h272.96v16.98h-272.96zM1864.66 1074.59h238.84v16.98h-238.84zM141.60 1091.57h17.06v16.97h-17.06zM653.40 1091.57h34.12v16.97h-34.12zM909.30 1091.57h119.42v16.97h-119.42zM1250.50 1091.57h272.96v16.97h-272.96zM1762.30 1091.57h324.14v16.97h-324.14zM653.40 1108.54h51.18v16.97h-51.18zM755.76 1108.54h34.12v16.97h-34.12zM909.30 1108.54h119.42v16.97h-119.42zM1165.20 1108.54h17.06v16.97h-17.06zM1233.44 1108.54h290.02v16.97h-290.02zM1745.24 1108.54h272.96v16.97h-272.96zM670.46 1125.51h119.42v16.97h-119.42zM926.36 1125.51h51.18v16.97h-51.18zM1199.32 1125.51h324.14v16.97h-324.14zM1728.18 1125.51h238.84v16.97h-238.84zM670.46 1142.49h119.42v16.97h-119.42zM858.12 1142.49h17.06v16.97h-17.06zM1199.32 1142.49h290.02v16.97h-290.02zM1728.18 1142.49h221.78v16.97h-221.78zM687.52 1159.46h68.24v16.97h-68.24zM841.06 1159.46h34.12v16.97h-34.12zM1182.26 1159.46h324.14v16.97h-324.14zM1711.12 1159.46h221.78v16.97h-221.78zM841.06 1176.43h34.12v16.97h-34.12zM1148.14 1176.43h17.06v16.97h-17.06zM1199.32 1176.43h290.02v16.97h-290.02zM1813.48 1176.43h85.30v16.97h-85.30zM1131.08 1193.40h34.12v16.97h-34.12zM1199.32 1193.40h290.02v16.97h-290.02zM1813.48 1193.40h17.06v16.97h-17.06zM994.60 1210.37h34.12v16.97h-34.12zM1114.02 1210.37h170.60v16.97h-170.60zM1318.74 1210.37h153.54v16.97h-153.54zM414.56 1227.34h102.36v16.97h-102.36zM994.60 1227.34h34.12v16.97h-34.12zM1114.02 1227.34h68.24v16.97h-68.24zM1318.74 1227.34h153.54v16.97h-153.54zM397.50 1244.30h153.54v16.97h-153.54zM772.82 1244.30h68.24v16.97h-68.24zM1131.08 1244.30h17.06v16.97h-17.06zM1318.74 1244.30h102.36v16.97h-102.36zM397.50 1261.27h68.24v16.97h-68.24zM499.86 1261.27h68.24v16.97h-68.24zM619.28 1261.27h34.12v16.97h-34.12zM755.76 1261.27h85.30v16.97h-85.30zM1318.74 1261.27h68.24v16.97h-68.24zM2222.92 1261.27h17.06v16.97h-17.06zM414.56 1278.24h34.12v16.97h-34.12zM499.86 1278.24h68.24v16.97h-68.24zM602.22 1278.24h85.30v16.97h-85.30zM738.70 1278.24h85.30v16.97h-85.30zM1335.80 1278.24h34.12v16.97h-34.12zM2205.86 1278.24h17.06v16.97h-17.06zM499.86 1295.20h68.24v16.96h-68.24zM602.22 1295.20h221.78v16.96h-221.78zM2188.80 1295.20h17.06v16.96h-17.06zM499.86 1312.17h307.08v16.96h-307.08zM2171.74 1312.17h17.06v16.96h-17.06zM499.86 1329.13h290.02v16.96h-290.02zM2120.56 1329.13h51.18v16.96h-51.18zM533.98 1346.09h238.84v16.96h-238.84zM2120.56 1346.09h51.18v16.96h-51.18zM551.04 1363.05h204.72v16.96h-204.72zM2103.50 1363.05h51.18v16.96h-51.18zM619.28 1380.02h102.36v16.96h-102.36zM2103.50 1380.02h51.18v16.96h-51.18zM2120.56 1396.98h34.12v16.96h-34.12zM2120.56 1413.94h34.12v16.96h-34.12zM1472.28 1430.89h68.24v16.96h-68.24zM2103.50 1430.89h51.18v16.96h-51.18zM1438.16 1447.85h102.36v16.96h-102.36zM2120.56 1447.85h34.12v16.96h-34.12zM926.36 1464.81h68.24v16.96h-68.24zM1438.16 1464.81h102.36v16.96h-102.36zM1779.36 1464.81h17.06v16.96h-17.06zM2137.62 1464.81h34.12v16.96h-34.12zM892.24 1481.77h119.42v16.96h-119.42zM1421.10 1481.77h119.42v16.96h-119.42zM1779.36 1481.77h34.12v16.96h-34.12zM1847.60 1481.77h34.12v16.96h-34.12zM2137.62 1481.77h51.18v16.96h-51.18zM892.24 1498.72h136.48v16.95h-136.48zM1421.10 1498.72h119.42v16.95h-119.42zM1762.30 1498.72h51.18v16.95h-51.18zM892.24 1515.68h153.54v16.95h-153.54zM1421.10 1515.68h119.42v16.95h-119.42zM1677.00 1515.68h68.24v16.95h-68.24zM2188.80 1515.68h17.06v16.95h-17.06zM909.30 1532.63h102.36v16.95h-102.36zM1028.72 1532.63h34.12v16.95h-34.12zM1438.16 1532.63h102.36v16.95h-102.36zM1625.82 1532.63h119.42v16.95h-119.42zM2188.80 1532.63h34.12v16.95h-34.12zM926.36 1549.58h68.24v16.95h-68.24zM1438.16 1549.58h51.18v16.95h-51.18zM1591.70 1549.58h136.48v16.95h-136.48zM943.42 1566.53h34.12v16.95h-34.12zM1421.10 1566.53h17.06v16.95h-17.06zM1625.82 1566.53h136.48v16.95h-136.48zM1642.88 1583.49h17.06v16.95h-17.06zM1728.18 1583.49h17.06v16.95h-17.06zM2103.50 1617.39h51.18v16.95h-51.18zM2120.56 1634.33h34.12v16.95h-34.12zM2137.62 1651.28h17.06v16.95h-17.06zM2137.62 1668.23h34.12v16.95h-34.12zM2154.68 1685.18h17.06v16.95h-17.06z"/>
<path fill="#a7d0e4" shape-rendering="crispEdges" d="M226.90 190.76h17.06v17.02h-17.06zM346.32 190.76h17.06v17.02h-17.06zM226.90 207.78h34.12v17.02h-34.12zM329.26 207.78h85.30v17.02h-85.30zM226.90 224.79h68.24v17.02h-68.24zM329.26 224.79h136.48v17.02h-136.48zM226.90 241.81h68.24v17.02h-68.24zM329.26 241.81h204.72v17.02h-204.72zM226.90 258.83h51.18v17.01h-51.18zM329.26 258.83h85.30v17.01h-85.30zM431.62 258.83h17.06v17.01h-17.06zM465.74 258.83h17.06v17.01h-17.06zM533.98 258.83h17.06v17.01h-17.06zM568.10 258.83h17.06v17.01h-17.06zM226.90 275.84h51.18v17.01h-51.18zM346.32 275.84h34.12v17.01h-34.12zM568.10 275.84h85.30v17.01h-85.30zM226.90 292.85h34.12v17.01h-34.12zM568.10 292.85h170.60v17.01h-170.60zM2461.76 292.85h68.24v17.01h-68.24zM568.10 309.87h255.90v17.01h-255.90zM2461.76 309.87h68.24v17.01h-68.24zM551.04 326.88h272.96v17.01h-272.96zM892.24 326.88h34.12v17.01h-34.12zM2444.70 326.88h102.36v17.01h-102.36zM551.04 343.89h307.08v17.01h-307.08zM875.18 343.89h68.24v17.01h-68.24zM977.54 343.89h85.30v17.01h-85.30zM1404.04 343.89h17.06v17.01h-17.06zM2444.70 343.89h102.36v17.01h-102.36zM533.98 360.90h341.20v17.01h-341.20zM892.24 360.90h34.12v17.01h-34.12zM943.42 360.90h409.44v17.01h-409.44zM1404.04 360.90h17.06v17.01h-17.06zM516.92 377.91h358.26v17.01h-358.26zM892.24 377.91h545.92v17.01h-545.92zM516.92 394.92h358.26v17.01h-358.26zM909.30 394.92h614.16v17.01h-614.16zM499.86 411.92h392.38v17.01h-392.38zM909.30 411.92h648.28v17.01h-648.28zM1574.64 411.92h34.12v17.01h-34.12zM1659.94 411.92h17.06v17.01h-17.06zM516.92 428.93h153.54v17.01h-153.54zM687.52 428.93h938.30v17.01h-938.30zM516.92 445.94h119.42v17.01h-119.42zM704.58 445.94h887.12v17.01h-887.12zM1694.06 445.94h17.06v17.01h-17.06zM516.92 462.94h102.36v17.00h-102.36zM704.58 462.94h614.16v17.00h-614.16zM1335.80 462.94h187.66v17.00h-187.66zM1540.52 462.94h34.12v17.00h-34.12zM1677.00 462.94h17.06v17.00h-17.06zM516.92 479.95h68.24v17.00h-68.24zM704.58 479.95h511.80v17.00h-511.80zM1352.86 479.95h136.48v17.00h-136.48zM1659.94 479.95h51.18v17.00h-51.18zM687.52 496.95h477.68v17.00h-477.68zM1369.92 496.95h102.36v17.00h-102.36zM1625.82 496.95h85.30v17.00h-85.30zM704.58 513.95h426.50v17.00h-426.50zM1386.98 513.95h85.30v17.00h-85.30zM1591.70 513.95h119.42v17.00h-119.42zM704.58 530.96h409.44v17.00h-409.44zM1404.04 530.96h102.36v17.00h-102.36zM1574.64 530.96h153.54v17.00h-153.54zM721.64 547.96h375.32v17.00h-375.32zM1421.10 547.96h85.30v17.00h-85.30zM1557.58 547.96h187.66v17.00h-187.66zM1881.72 547.96h17.06v17.00h-17.06zM721.64 564.96h375.32v17.00h-375.32zM1421.10 564.96h85.30v17.00h-85.30zM1557.58 564.96h187.66v17.00h-187.66zM1881.72 564.96h51.18v17.00h-51.18zM2427.64 564.96h34.12v17.00h-34.12zM738.70 581.96h358.26v17.00h-358.26zM1523.46 581.96h17.06v17.00h-17.06zM1574.64 581.96h187.66v17.00h-187.66zM1864.66 581.96h51.18v17.00h-51.18zM738.70 598.96h341.20v17.00h-341.20zM1540.52 598.96h221.78v17.00h-221.78zM1847.60 598.96h85.30v17.00h-85.30zM2325.28 598.96h17.06v17.00h-17.06zM141.60 615.95h136.48v17.00h-136.48zM704.58 615.95h17.06v17.00h-17.06zM755.76 615.95h341.20v17.00h-341.20zM1557.58 615.95h187.66v17.00h-187.66zM1830.54 615.95h85.30v17.00h-85.30zM2325.28 615.95h34.12v17.00h-34.12zM2478.82 615.95h68.24v17.00h-68.24zM107.48 632.95h170.60v17.00h-170.60zM772.82 632.95h204.72v17.00h-204.72zM994.60 632.95h136.48v17.00h-136.48zM1557.58 632.95h34.12v17.00h-34.12zM1608.76 632.95h136.48v17.00h-136.48zM1830.54 632.95h85.30v17.00h-85.30zM1932.90 632.95h34.12v17.00h-34.12zM2291.16 632.95h85.30v17.00h-85.30zM2478.82 632.95h68.24v17.00h-68.24zM73.36 649.95h221.78v17.00h-221.78zM789.88 649.95h187.66v17.00h-187.66zM1011.66 649.95h119.42v17.00h-119.42zM1711.12 649.95h34.12v17.00h-34.12zM1813.48 649.95h85.30v17.00h-85.30zM1915.84 649.95h51.18v17.00h-51.18zM2137.62 649.95h85.30v17.00h-85.30zM2308.22 649.95h17.06v17.00h-17.06zM2461.76 649.95h85.30v17.00h-85.30zM73.36 666.94h221.78v16.99h-221.78zM789.88 666.94h341.20v16.99h-341.20zM1728.18 666.94h17.06v16.99h-17.06zM1813.48 666.94h153.54v16.99h-153.54zM2137.62 666.94h85.30v16.99h-85.30zM2461.76 666.94h17.06v16.99h-17.06zM73.36 683.94h221.78v16.99h-221.78zM789.88 683.94h358.26v16.99h-358.26zM1728.18 683.94h17.06v16.99h-17.06zM1813.48 683.94h170.60v16.99h-170.60zM2120.56 683.94h102.36v16.99h-102.36zM73.36 700.93h187.66v16.99h-187.66zM806.94 700.93h324.14v16.99h-324.14zM1796.42 700.93h187.66v16.99h-187.66zM2103.50 700.93h119.42v16.99h-119.42zM73.36 717.92h170.60v16.99h-170.60zM414.56 717.92h119.42v16.99h-119.42zM619.28 717.92h119.42v16.99h-119.42zM824.00 717.92h307.08v16.99h-307.08zM1728.18 717.92h17.06v16.99h-17.06zM1813.48 717.92h153.54v16.99h-153.54zM2086.44 717.92h119.42v16.99h-119.42zM73.36 734.92h170.60v16.99h-170.60zM397.50 734.92h153.54v16.99h-153.54zM585.16 734.92h170.60v16.99h-170.60zM824.00 734.92h290.02v16.99h-290.02zM1813.48 734.92h136.48v16.99h-136.48zM2052.32 734.92h153.54v16.99h-153.54zM73.36 751.91h477.68v16.99h-477.68zM602.22 751.91h477.68v16.99h-477.68zM1250.50 751.91h17.06v16.99h-17.06zM1642.88 751.91h17.06v16.99h-17.06zM1813.48 751.91h136.48v16.99h-136.48zM2035.26 751.91h170.60v16.99h-170.60zM73.36 768.90h494.74v16.99h-494.74zM602.22 768.90h477.68v16.99h-477.68zM1659.94 768.90h17.06v16.99h-17.06zM1796.42 768.90h136.48v16.99h-136.48zM2001.14 768.90h204.72v16.99h-204.72zM90.42 785.89h17.06v16.99h-17.06zM158.66 785.89h238.84v16.99h-238.84zM431.62 785.89h136.48v16.99h-136.48zM619.28 785.89h443.56v16.99h-443.56zM1659.94 785.89h17.06v16.99h-17.06zM1779.36 785.89h119.42v16.99h-119.42zM2001.14 785.89h187.66v16.99h-187.66zM175.72 802.88h204.72v16.99h-204.72zM448.68 802.88h119.42v16.99h-119.42zM636.34 802.88h409.44v16.99h-409.44zM1779.36 802.88h119.42v16.99h-119.42zM2001.14 802.88h187.66v16.99h-187.66zM158.66 819.87h221.78v16.99h-221.78zM465.74 819.87h102.36v16.99h-102.36zM636.34 819.87h358.26v16.99h-358.26zM1165.20 819.87h102.36v16.99h-102.36zM1779.36 819.87h102.36v16.99h-102.36zM2001.14 819.87h170.60v16.99h-170.60zM158.66 836.85h170.60v16.99h-170.60zM482.80 836.85h85.30v16.99h-85.30zM619.28 836.85h358.26v16.99h-358.26zM1148.14 836.85h170.60v16.99h-170.60zM1728.18 836.85h17.06v16.99h-17.06zM1762.30 836.85h102.36v16.99h-102.36zM2001.14 836.85h153.54v16.99h-153.54zM158.66 853.84h153.54v16.99h-153.54zM499.86 853.84h85.30v16.99h-85.30zM619.28 853.84h187.66v16.99h-187.66zM858.12 853.84h102.36v16.99h-102.36zM1131.08 853.84h170.60v16.99h-170.60zM1745.24 853.84h102.36v16.99h-102.36zM1984.08 853.84h153.54v16.99h-153.54zM141.60 870.83h170.60v16.98h-170.60zM499.86 870.83h85.30v16.98h-85.30zM619.28 870.83h136.48v16.98h-136.48zM858.12 870.83h119.42v16.98h-119.42zM1096.96 870.83h221.78v16.98h-221.78zM1745.24 870.83h85.30v16.98h-85.30zM1967.02 870.83h170.60v16.98h-170.60zM107.48 887.81h170.60v16.98h-170.60zM499.86 887.81h85.30v16.98h-85.30zM602.22 887.81h136.48v16.98h-136.48zM858.12 887.81h102.36v16.98h-102.36zM1079.90 887.81h221.78v16.98h-221.78zM1728.18 887.81h85.30v16.98h-85.30zM1949.96 887.81h187.66v16.98h-187.66zM107.48 904.79h153.54v16.98h-153.54zM499.86 904.79h221.78v16.98h-221.78zM858.12 904.79h85.30v16.98h-85.30zM1079.90 904.79h221.78v16.98h-221.78zM1711.12 904.79h119.42v16.98h-119.42zM1915.84 904.79h238.84v16.98h-238.84zM158.66 921.78h85.30v16.98h-85.30zM329.26 921.78h119.42v16.98h-119.42zM516.92 921.78h204.72v16.98h-204.72zM841.06 921.78h102.36v16.98h-102.36zM1045.78 921.78h255.90v16.98h-255.90zM1694.06 921.78h460.62v16.98h-460.62zM192.78 938.76h34.12v16.98h-34.12zM312.20 938.76h170.60v16.98h-170.60zM499.86 938.76h238.84v16.98h-238.84zM789.88 938.76h119.42v16.98h-119.42zM1062.84 938.76h238.84v16.98h-238.84zM1694.06 938.76h460.62v16.98h-460.62zM312.20 955.74h597.10v16.98h-597.10zM1062.84 955.74h238.84v16.98h-238.84zM1677.00 955.74h460.62v16.98h-460.62zM2239.98 955.74h102.36v16.98h-102.36zM295.14 972.72h614.16v16.98h-614.16zM1062.84 972.72h290.02v16.98h-290.02zM1608.76 972.72h17.06v16.98h-17.06zM1659.94 972.72h409.44v16.98h-409.44zM2222.92 972.72h119.42v16.98h-119.42zM243.96 989.70h648.28v16.98h-648.28zM1062.84 989.70h307.08v16.98h-307.08zM1608.76 989.70h409.44v16.98h-409.44zM2205.86 989.70h153.54v16.98h-153.54zM209.84 1006.68h682.40v16.98h-682.40zM1079.90 1006.68h272.96v16.98h-272.96zM1591.70 1006.68h392.38v16.98h-392.38zM2188.80 1006.68h170.60v16.98h-170.60zM209.84 1023.66h682.40v16.98h-682.40zM1062.84 1023.66h255.90v16.98h-255.90zM1591.70 1023.66h341.20v16.98h-341.20zM2171.74 1023.66h204.72v16.98h-204.72zM209.84 1040.64h682.40v16.98h-682.40zM1062.84 1040.64h221.78v16.98h-221.78zM1574.64 1040.64h341.20v16.98h-341.20zM2154.68 1040.64h238.84v16.98h-238.84zM192.78 1057.61h716.52v16.98h-716.52zM1045.78 1057.61h221.78v16.98h-221.78zM1557.58 1057.61h341.20v16.98h-341.20zM2120.56 1057.61h272.96v16.98h-272.96zM192.78 1074.59h716.52v16.98h-716.52zM1045.78 1074.59h221.78v16.98h-221.78zM1540.52 1074.59h324.14v16.98h-324.14zM2103.50 1074.59h290.02v16.98h-290.02zM192.78 1091.57h460.62v16.97h-460.62zM687.52 1091.57h221.78v16.97h-221.78zM1028.72 1091.57h221.78v16.97h-221.78zM1523.46 1091.57h238.84v16.97h-238.84zM2086.44 1091.57h307.08v16.97h-307.08zM209.84 1108.54h443.56v16.97h-443.56zM704.58 1108.54h51.18v16.97h-51.18zM789.88 1108.54h119.42v16.97h-119.42zM1028.72 1108.54h136.48v16.97h-136.48zM1182.26 1108.54h51.18v16.97h-51.18zM1523.46 1108.54h221.78v16.97h-221.78zM2018.20 1108.54h358.26v16.97h-358.26zM226.90 1125.51h443.56v16.97h-443.56zM789.88 1125.51h136.48v16.97h-136.48zM977.54 1125.51h221.78v16.97h-221.78zM1523.46 1125.51h204.72v16.97h-204.72zM1967.02 1125.51h392.38v16.97h-392.38zM243.96 1142.49h426.50v16.97h-426.50zM789.88 1142.49h68.24v16.97h-68.24zM875.18 1142.49h324.14v16.97h-324.14zM1489.34 1142.49h238.84v16.97h-238.84zM1949.96 1142.49h392.38v16.97h-392.38zM261.02 1159.46h426.50v16.97h-426.50zM755.76 1159.46h85.30v16.97h-85.30zM875.18 1159.46h307.08v16.97h-307.08zM1506.40 1159.46h204.72v16.97h-204.72zM1932.90 1159.46h392.38v16.97h-392.38zM261.02 1176.43h580.04v16.97h-580.04zM875.18 1176.43h272.96v16.97h-272.96zM1165.20 1176.43h34.12v16.97h-34.12zM1489.34 1176.43h324.14v16.97h-324.14zM1898.78 1176.43h409.44v16.97h-409.44zM261.02 1193.40h870.06v16.97h-870.06zM1165.20 1193.40h34.12v16.97h-34.12zM1489.34 1193.40h324.14v16.97h-324.14zM1830.54 1193.40h460.62v16.97h-460.62zM261.02 1210.37h733.58v16.97h-733.58zM1028.72 1210.37h85.30v16.97h-85.30zM1284.62 1210.37h34.12v16.97h-34.12zM1472.28 1210.37h784.76v16.97h-784.76zM295.14 1227.34h119.42v16.97h-119.42zM516.92 1227.34h477.68v16.97h-477.68zM1028.72 1227.34h85.30v16.97h-85.30zM1182.26 1227.34h136.48v16.97h-136.48zM1472.28 1227.34h767.70v16.97h-767.70zM380.44 1244.30h17.06v16.97h-17.06zM551.04 1244.30h221.78v16.97h-221.78zM841.06 1244.30h290.02v16.97h-290.02zM1148.14 1244.30h170.60v16.97h-170.60zM1421.10 1244.30h818.88v16.97h-818.88zM465.74 1261.27h34.12v16.97h-34.12zM568.10 1261.27h51.18v16.97h-51.18zM653.40 1261.27h102.36v16.97h-102.36zM841.06 1261.27h477.68v16.97h-477.68zM1386.98 1261.27h835.94v16.97h-835.94zM448.68 1278.24h51.18v16.97h-51.18zM568.10 1278.24h34.12v16.97h-34.12zM687.52 1278.24h51.18v16.97h-51.18zM824.00 1278.24h511.80v16.97h-511.80zM1369.92 1278.24h835.94v16.97h-835.94zM448.68 1295.20h51.18v16.96h-51.18zM568.10 1295.20h34.12v16.96h-34.12zM824.00 1295.20h1364.80v16.96h-1364.80zM465.74 1312.17h34.12v16.96h-34.12zM806.94 1312.17h1364.80v16.96h-1364.80zM789.88 1329.13h1330.68v16.96h-1330.68zM772.82 1346.09h1347.74v16.96h-1347.74zM755.76 1363.05h1347.74v16.96h-1347.74zM789.88 1380.02h1313.62v16.96h-1313.62zM824.00 1396.98h1296.56v16.96h-1296.56zM841.06 1413.94h1279.50v16.96h-1279.50zM858.12 1430.89h614.16v16.96h-614.16zM1540.52 1430.89h562.98v16.96h-562.98zM858.12 1447.85h580.04v16.96h-580.04zM1540.52 1447.85h580.04v16.96h-580.04zM875.18 1464.81h51.18v16.96h-51.18zM994.60 1464.81h443.56v16.96h-443.56zM1540.52 1464.81h238.84v16.96h-238.84zM1796.42 1464.81h341.20v16.96h-341.20zM1011.66 1481.77h409.44v16.96h-409.44zM1540.52 1481.77h238.84v16.96h-238.84zM1813.48 1481.77h34.12v16.96h-34.12zM1881.72 1481.77h255.90v16.96h-255.90zM1028.72 1498.72h392.38v16.95h-392.38zM1540.52 1498.72h221.78v16.95h-221.78zM1932.90 1498.72h68.24v16.95h-68.24zM2052.32 1498.72h136.48v16.95h-136.48zM1045.78 1515.68h375.32v16.95h-375.32zM1540.52 1515.68h136.48v16.95h-136.48zM1949.96 1515.68h34.12v16.95h-34.12zM2069.38 1515.68h119.42v16.95h-119.42zM1062.84 1532.63h375.32v16.95h-375.32zM1540.52 1532.63h85.30v16.95h-85.30zM2086.44 1532.63h102.36v16.95h-102.36zM1079.90 1549.58h358.26v16.95h-358.26zM1489.34 1549.58h102.36v16.95h-102.36zM2103.50 1549.58h119.42v16.95h-119.42zM1096.96 1566.53h324.14v16.95h-324.14zM2103.50 1566.53h119.42v16.95h-119.42zM1114.02 1583.49h307.08v16.95h-307.08zM2103.50 1583.49h136.48v16.95h-136.48zM1114.02 1600.44h290.02v16.95h-290.02zM2103.50 1600.44h136.48v16.95h-136.48zM1114.02 1617.39h272.96v16.95h-272.96zM2154.68 1617.39h85.30v16.95h-85.30zM1131.08 1634.33h221.78v16.95h-221.78zM2154.68 1634.33h119.42v16.95h-119.42zM1131.08 1651.28h187.66v16.95h-187.66zM2154.68 1651.28h119.42v16.95h-119.42zM1148.14 1668.23h170.60v16.95h-170.60zM2171.74 1668.23h102.36v16.95h-102.36zM1165.20 1685.18h136.48v16.95h-136.48zM2171.74 1685.18h102.36v16.95h-102.36zM1165.20 1702.12h119.42v16.94h-119.42zM2171.74 1702.12h119.42v16.94h-119.42zM1165.20 1719.07h119.42v16.94h-119.42zM2188.80 1719.07h102.36v16.94h-102.36zM1182.26 1736.01h102.36v16.94h-102.36zM2222.92 1736.01h68.24v16.94h-68.24zM1182.26 1752.95h119.42v16.94h-119.42zM2222.92 1752.95h51.18v16.94h-51.18zM1216.38 1769.90h85.30v16.94h-85.30zM2137.62 1769.90h17.06v16.94h-17.06zM2171.74 1769.90h17.06v16.94h-17.06zM2205.86 1769.90h17.06v16.94h-17.06zM1267.56 1786.84h34.12v16.94h-34.12z"/>
<path fill="#e2edf3" shape-rendering="crispEdges" d="M977.54 632.95h17.06v17.00h-17.06zM977.54 649.95h34.12v17.00h-34.12zM1932.90 768.90h17.06v16.99h-17.06zM1967.02 768.90h17.06v16.99h-17.06zM1898.78 785.89h102.36v16.99h-102.36zM1898.78 802.88h102.36v16.99h-102.36zM1881.72 819.87h119.42v16.99h-119.42zM1864.66 836.85h136.48v16.99h-136.48zM1847.60 853.84h136.48v16.99h-136.48zM1830.54 870.83h136.48v16.98h-136.48zM1813.48 887.81h136.48v16.98h-136.48zM1830.54 904.79h85.30v16.98h-85.30zM2239.98 1600.44h17.06v16.95h-17.06zM2239.98 1617.39h17.06v16.95h-17.06z"/>
<path class="riv" d="M514.0 199.7L510.0 208.0L509.0 216.3L513.3 228.0"/>
<path class="coast" d="M235.9 197.6L235.1 199.4L233.5 203.1L231.8 207.0L230.2 211.1L229.0 215.4L228.2 219.9L228.4 224.1L229.6 228.2L230.9 231.5L232.4 233.9L233.0 237.2L232.8 241.3L232.3 245.4L231.4 249.5L230.6 253.5L229.8 257.6L229.5 261.7L229.7 265.8L229.4 269.9L228.6 274.0L227.7 277.8L226.6 281.5L226.0 284.5L225.8 286.7L227.3 286.7L230.3 284.5L233.9 285.3L238.0 289.2L236.3 291.4L229.0 292.0L224.9 294.3L224.1 298.1L224.4 297.0L225.9 291.0L230.0 288.4L236.7 289.2L236.7 290.5L230.0 292.2L226.2 294.7L225.4 298.0L226.2 301.3L228.8 304.7L228.3 307.6L225.0 310.1L222.5 313.4L220.8 317.6L219.2 321.3L217.5 324.7L216.7 327.2L216.7 328.8L217.1 330.9L217.9 333.4L216.7 339.7L213.3 349.7L210.0 359.2L206.7 368.4L202.5 378.4L197.5 389.2L192.5 399.7L187.5 409.7L182.1 420.1L176.2 430.9L171.2 440.9L167.1 450.1L162.5 459.2L157.5 468.4L152.9 475.9L148.8 481.8L147.5 485.5L149.2 487.2L147.9 488.8L143.8 490.5L139.6 494.2L135.4 500.1L131.2 505.5L127.1 510.5L124.2 514.2L122.5 516.8L122.1 521.3L122.9 528.0L122.1 534.2L119.6 540.1L117.8 545.9L116.6 551.8L116.3 557.6L117.0 563.4L118.0 567.4L119.3 569.6L118.3 573.8L115.0 579.9L113.8 585.9L114.6 591.8L113.8 598.0L111.2 604.7L107.9 611.8L103.8 619.2L100.0 625.9L96.7 631.8L93.3 636.8L90.0 640.9L86.2 645.5L82.1 650.5L78.9 656.3L76.8 663.0L76.8 668.8L78.9 673.6L80.0 676.0M235.9 197.6L238.4 199.4L243.3 203.1L247.4 206.8L250.6 210.5L253.5 213.7L255.9 216.6L259.2 219.0L263.3 221.1L267.4 223.1L271.5 225.2L275.5 227.4L279.6 229.9L282.7 231.7L284.7 232.9L287.0 233.3L289.4 232.9L291.5 233.9L293.1 236.4L294.9 238.2L297.0 239.5L299.4 239.9L302.3 239.5L303.7 241.3L303.7 245.4L304.3 248.6L305.6 251.1L306.2 252.3M308.6 256.4L305.6 256.8L299.4 257.6L292.7 260.3L285.3 264.8L280.0 268.9L276.8 272.5L274.7 275.4L273.9 277.4L274.3 278.9L275.9 279.7L278.8 279.6L282.9 278.6L284.1 277.3L282.5 275.9L283.7 273.8L287.8 270.9L292.9 267.8L299.0 264.6L303.7 261.3L307.0 258.0L308.0 258.4L306.8 262.5L304.3 266.0L300.7 268.9L299.2 272.7L300.0 277.6L299.8 281.7L298.6 285.0L296.6 288.0L293.7 290.9L290.9 290.3L288.0 286.2L284.5 284.8L280.4 286.0L277.2 288.0L274.7 290.9L275.5 293.4L279.6 295.4L283.3 297.0L286.6 298.3L289.2 298.7L291.3 298.3L294.9 296.2L300.2 292.5L304.1 289.1L306.6 285.8L308.4 281.1L309.6 275.0L310.9 269.9L312.1 265.8L314.1 262.3L317.0 259.5L319.6 256.4L322.1 253.1L323.1 250.5L322.7 248.4L322.1 245.6L321.3 241.9L321.3 238.8L322.1 236.4L322.1 233.1L321.3 229.0L319.2 226.2L316.0 224.5L314.9 222.9L316.2 221.3L318.2 220.5L321.1 220.5L323.3 218.4L324.9 214.3L326.0 210.3L326.4 206.2L325.6 203.7L323.5 202.9L322.1 200.5L321.3 196.4L321.1 192.9L321.5 190.0L320.9 187.0L319.2 183.7L316.0 182.3L311.1 182.7L308.6 182.1L308.6 180.4L308.6 179.6M306.8 253.3L308.0 255.4L310.0 253.1L312.9 246.6L315.1 241.3L316.8 237.2L316.8 233.5L315.1 230.3L312.9 229.0L310.0 229.9L308.0 231.5L306.8 233.9L306.8 237.2L308.0 241.3L308.0 245.6L306.8 250.1L306.8 253.3M309.4 259.7L308.6 261.7L307.0 265.8L305.1 269.9L303.1 274.0L302.7 278.0L303.9 282.1L305.6 282.1L307.6 278.0L309.0 273.5L309.8 268.6L310.2 266.2M233.9 180.0L237.7 183.4L245.2 190.1L253.1 197.0L261.2 203.9L268.4 209.6L274.5 214.1L279.4 215.4L283.1 213.3L286.2 212.9L288.6 214.1L290.2 211.7L291.1 205.6L290.4 202.5L288.4 202.5L286.9 196.9L285.9 185.7L285.3 180.0M289.0 180.0L289.4 202.5M216.7 329.7L220.0 330.5L226.7 332.2L232.1 334.7L236.2 338.0L240.8 340.9L245.8 343.4L248.3 344.7M297.6 201.3L300.0 200.5L302.5 201.3L304.9 203.7L305.8 206.4L304.9 209.2L302.9 210.9L299.6 211.3L297.6 209.0L296.8 204.1L297.6 201.3M307.8 203.7L311.1 202.9L313.7 203.9L315.8 206.8L315.4 208.8L312.5 210.1L309.8 209.0L307.4 205.8L307.8 203.7M300.0 213.7L304.1 213.3L307.2 215.0L309.2 218.6L309.2 221.1L307.2 222.3L304.1 220.7L300.0 216.2L300.0 213.7M294.9 181.9L297.0 184.7L297.4 188.2L296.2 192.3L294.9 192.7L293.7 189.4L293.3 186.0L293.7 182.3L294.9 181.9M2467.0 176.3L2463.2 181.8L2455.8 192.6L2449.5 203.8L2444.5 215.5L2439.9 227.2L2435.8 238.8L2432.0 248.0L2428.7 254.7L2427.4 263.0L2428.2 273.0L2427.4 283.0L2424.9 293.0L2421.2 303.0L2416.2 313.0L2411.6 322.2L2407.4 330.5L2402.8 338.8L2397.8 347.2L2392.0 354.7L2385.3 361.3L2378.7 367.2L2372.0 372.2L2366.2 377.2L2361.2 382.2L2356.2 387.6L2351.2 393.4L2346.2 399.2L2341.2 405.1L2336.6 411.3L2332.4 418.0L2329.1 425.5L2326.6 433.8L2324.5 441.3L2322.8 448.0L2320.3 453.8L2317.0 458.8L2312.8 463.8L2307.8 468.8L2302.8 474.7L2297.8 481.3L2292.0 488.8L2285.3 497.2L2282.0 501.3M2495.3 181.3L2491.2 187.2L2482.8 198.8L2476.2 209.7L2471.2 219.7L2465.3 229.7L2458.7 239.7L2452.8 250.5L2447.8 262.2L2442.8 273.8L2437.8 285.5L2433.7 296.3L2430.3 306.3L2426.6 315.5L2422.4 323.8L2417.8 331.8L2412.8 339.2L2407.4 345.9L2401.6 351.8L2395.3 358.0L2388.7 364.7L2382.0 370.5L2375.3 375.5L2369.5 380.5L2364.5 385.5L2359.5 390.9L2354.5 396.8L2349.5 402.6L2344.5 408.4L2339.9 414.7L2335.8 421.3L2332.6 428.8L2330.4 437.2L2328.3 445.5L2326.3 453.8L2322.8 461.3L2317.8 468.0L2311.2 475.5L2302.8 483.8L2294.9 491.3L2287.4 498.0L2283.7 501.3M2427.0 258.0L2421.6 257.3L2410.8 256.0L2401.2 255.6L2392.8 256.1L2384.5 256.5L2376.2 256.8L2376.2 257.7L2384.5 259.0L2392.8 259.9L2401.2 260.4L2410.8 260.8L2421.6 261.2L2427.0 261.3M2292.8 463.8L2301.2 462.2L2309.9 460.9L2319.1 460.1L2321.6 455.9L2317.4 448.4L2312.8 447.2L2307.8 452.2L2301.2 457.2L2292.8 462.2L2292.8 463.8M1955.3 193.0L1957.4 190.5L1961.6 185.5L1965.3 181.3L1968.7 178.0L1970.3 176.3M1990.3 176.3L1993.2 179.2L1999.1 185.1L2004.1 189.7L2008.2 193.0L2012.4 196.8L2016.6 200.9L2018.7 203.0M2618.0 179.7L2616.8 182.6L2614.2 188.4L2610.5 193.8L2605.5 198.8L2599.7 201.8L2593.0 202.6L2585.5 203.0L2577.2 203.0L2570.9 204.7L2566.8 208.0L2562.6 210.5L2558.4 212.2L2553.8 215.5L2548.8 220.5L2549.7 221.8L2556.3 219.2L2563.8 218.2L2572.2 218.5L2578.8 218.5L2583.8 218.2L2588.8 220.1L2593.8 224.2L2598.8 223.8L2603.8 218.8L2608.8 214.7L2613.8 211.3L2618.8 209.7L2623.8 209.7L2627.6 205.5L2630.1 197.2L2632.2 193.4L2633.8 194.2L2634.2 198.0L2633.4 204.7L2632.2 211.3L2630.5 218.0L2629.2 225.5L2628.4 233.8L2627.2 240.9L2625.5 246.8L2623.8 251.3L2622.2 254.7L2623.4 255.1L2627.6 252.6L2632.2 251.8L2637.2 252.6L2640.5 255.5L2642.2 260.5L2645.5 265.5L2650.5 270.5L2655.5 275.9L2660.5 281.8L2665.5 285.9L2670.5 288.4L2676.3 289.1L2683.0 287.9L2688.8 287.9L2693.8 289.1L2695.5 292.2L2693.8 297.2L2696.3 298.0L2703.0 294.7L2709.7 293.4L2716.3 294.2L2723.8 293.8L2732.2 292.2L2739.7 291.8L2746.3 292.6L2753.0 291.8L2759.7 289.2L2766.3 284.7L2773.0 278.0L2777.2 273.8L2778.8 272.2L2781.3 273.0L2784.7 276.3L2789.7 277.6L2796.3 276.8L2803.0 274.2L2809.7 270.1L2815.5 266.3L2820.5 263.0L2823.0 268.8L2823.0 283.8L2819.7 294.7L2813.0 301.3L2807.2 307.2L2802.2 312.2L2797.2 317.2L2792.2 322.2L2787.2 327.2L2782.2 332.2L2777.2 337.2L2772.2 342.2L2767.2 348.0L2762.2 354.7L2757.2 360.5L2752.2 365.5L2749.2 370.1L2748.4 374.2L2745.9 375.5L2741.8 373.8L2738.0 374.2L2734.7 376.8L2731.3 376.8L2728.0 374.2L2725.5 375.1L2723.8 379.2L2722.2 383.8L2720.5 388.8L2720.5 393.0L2722.2 396.3L2722.2 400.5L2720.5 405.5L2718.4 411.3L2715.9 418.0L2713.4 424.7L2710.9 431.3L2707.2 437.2L2702.2 442.2L2698.4 448.0L2695.9 454.7L2692.2 459.2L2687.2 461.8L2683.0 460.9L2679.7 456.8L2675.1 454.2L2669.2 453.4L2664.7 450.9L2661.3 446.8L2658.0 441.8L2654.7 435.9L2652.2 429.2L2650.5 421.8L2650.5 414.7L2652.2 408.0L2654.7 402.2L2658.0 397.2L2661.3 392.2L2664.7 387.2L2668.4 381.3L2672.6 374.7L2676.8 368.4L2680.9 362.6L2685.5 356.8L2690.5 350.9L2694.7 346.3L2698.0 343.0L2701.3 343.8L2704.7 348.8L2708.0 351.8L2711.3 352.6L2712.2 350.9L2710.5 346.8L2708.8 343.0L2707.2 339.7L2709.7 336.3L2716.3 333.0L2724.2 329.0L2733.4 324.3L2734.2 323.1L2726.8 325.2L2718.8 327.8L2710.5 330.6L2703.0 334.3L2696.3 339.0L2689.7 342.2L2683.0 343.8L2678.4 344.2L2675.9 343.4L2675.9 339.2L2678.4 331.8L2680.9 323.8L2683.4 315.5L2682.6 312.2L2678.4 313.8L2675.5 313.4L2673.8 310.9L2674.2 312.6L2676.8 318.4L2676.8 323.4L2674.2 327.6L2671.3 331.8L2668.0 335.9L2664.2 340.5L2660.1 345.5L2655.9 350.5L2651.8 355.5L2647.2 360.5L2642.2 365.5L2637.6 366.3L2633.4 363.0L2630.1 363.4L2627.6 367.6L2624.7 372.6L2621.3 378.4L2617.6 382.6L2613.4 385.1L2609.2 388.0L2605.1 391.3L2601.3 392.2L2598.0 390.5L2594.7 390.1L2591.3 390.9L2590.9 393.0L2593.4 396.3L2595.9 400.5L2598.4 405.5L2599.7 408.0M2823.0 188.0L2819.7 187.2L2813.0 185.5L2808.0 188.0L2804.7 194.7L2801.8 203.0L2799.2 213.0L2797.2 223.8L2795.5 235.5L2795.1 245.5L2795.9 253.8L2798.0 261.3L2801.3 268.0L2805.5 272.2L2810.5 273.8L2815.5 274.2L2820.5 273.4L2823.0 273.0M2668.0 237.6L2671.3 236.8L2674.2 239.7L2676.8 246.3L2680.1 252.2L2684.2 257.2L2688.8 259.2L2693.8 258.4L2699.7 257.6L2706.3 256.8L2713.8 255.9L2722.2 255.1L2729.7 252.6L2736.3 248.4L2742.2 245.1L2747.2 242.6L2753.0 240.5L2759.7 238.8L2762.2 240.5L2760.5 245.5L2757.6 251.3L2753.4 258.0L2751.8 264.2L2752.6 270.1L2751.3 273.8L2748.0 275.5L2744.2 274.7L2740.1 271.3L2736.8 268.0L2734.2 264.7L2731.3 265.1L2728.0 269.2L2723.0 272.2L2716.3 273.8L2709.7 274.2L2703.0 273.4L2698.0 271.8L2694.7 269.2L2691.3 269.2L2688.0 271.8L2684.7 271.3L2681.3 268.0L2677.2 265.9L2672.2 265.1L2668.4 262.6L2665.9 258.4L2665.1 251.8L2665.9 242.6L2668.0 237.6M2818.0 238.0L2816.8 241.3L2814.2 248.0L2815.1 252.2L2819.2 253.8L2821.3 254.7M2610.9 407.6L2613.4 406.8L2615.2 408.0L2616.4 411.3L2616.2 414.7L2614.5 418.0L2612.7 418.8L2610.7 417.2L2609.7 414.2L2609.7 410.1L2610.9 407.6M2642.2 424.2L2643.8 423.4L2644.7 425.1L2644.7 429.2L2644.0 431.8L2642.7 432.6L2641.8 430.9L2641.5 426.8L2642.2 424.2M2659.7 390.9L2663.0 390.1L2663.8 391.8L2662.2 395.9L2660.5 396.3L2658.8 393.0L2659.7 390.9M2745.1 181.8L2749.2 182.6L2751.6 185.1L2752.1 189.2L2750.8 192.2L2747.8 193.8L2745.5 193.0L2743.8 189.7L2743.0 186.3L2743.0 183.0L2745.1 181.8M2598.0 400.0L2599.5 402.3L2602.5 406.8L2602.5 410.5L2599.5 413.6L2596.2 416.8L2592.7 420.3L2589.2 423.1L2585.7 425.1L2583.2 427.6L2581.7 430.6L2579.4 433.1L2576.4 435.1L2573.4 437.7L2570.4 440.7L2567.4 443.4L2564.4 445.9L2563.6 448.7L2565.1 451.7L2564.6 455.0L2562.1 458.5L2559.3 460.7L2556.3 461.7L2553.8 460.7L2551.8 457.7L2550.1 457.2L2548.5 459.2L2548.0 462.2L2548.5 466.3L2548.0 468.8L2546.5 469.8L2545.0 468.8L2543.5 465.8L2542.0 462.2L2540.5 458.2L2539.0 455.0L2537.5 452.5L2536.0 452.2L2534.5 454.2L2533.2 456.5L2532.2 459.0L2532.0 462.8L2532.5 467.8L2533.0 472.8L2533.5 477.8L2532.7 482.3L2530.7 486.3L2528.5 489.1L2526.0 490.6L2523.7 492.1L2521.7 493.6L2520.2 495.6L2519.2 498.1L2517.4 498.9L2514.9 497.9L2512.9 498.6L2511.4 501.2L2509.6 503.9L2507.6 506.9L2505.1 508.7L2502.1 509.2L2499.3 510.7L2496.8 513.2L2494.6 516.0L2492.6 519.0L2492.3 521.7L2493.8 524.2L2493.6 526.8L2491.6 529.3L2489.8 533.0L2488.3 538.1L2486.9 543.1L2485.6 548.1L2484.6 553.1L2483.9 558.1L2483.3 562.1L2482.8 565.2L2482.8 569.2L2483.3 574.2L2484.8 578.7L2487.3 582.7L2490.8 585.5L2495.3 587.0L2497.1 588.8L2496.1 590.8L2494.1 592.8L2491.1 594.8L2488.8 597.5L2487.3 601.1L2485.5 604.8L2483.5 608.8L2484.5 611.1L2488.6 611.6L2492.6 612.9L2496.6 614.9L2499.8 617.4L2502.4 620.4L2504.4 623.1L2505.9 625.7L2507.9 627.2L2510.4 627.7L2512.4 629.2L2513.9 631.7L2516.2 633.9L2519.2 635.9L2522.7 636.7L2526.7 636.2L2530.2 634.7L2533.2 632.2L2535.5 628.9L2537.0 624.9L2536.7 621.1L2534.7 617.6L2532.0 615.4L2528.5 614.4L2525.7 614.1L2523.7 614.6L2523.7 614.1L2525.7 612.6L2528.2 612.1L2531.2 612.6L2534.5 614.6L2538.0 618.1L2540.8 622.6L2542.8 628.2L2543.0 631.9L2541.5 633.9L2538.3 636.2L2533.2 638.7L2528.7 641.5L2524.7 644.5L2520.7 647.2L2516.7 649.7L2514.2 649.2L2513.2 645.7L2511.6 644.5L2509.6 645.5L2507.6 647.2L2505.6 649.7L2503.4 651.8L2500.9 653.3L2498.3 655.3L2495.8 657.8L2493.1 660.0L2490.1 662.0L2487.6 664.1L2485.5 666.1L2483.5 665.1L2481.5 661.0L2480.0 661.0L2479.0 665.1L2479.5 668.1L2481.5 670.1L2480.5 672.3L2476.5 674.8L2472.0 677.1L2467.0 679.1L2461.9 681.4L2456.9 683.9L2451.9 686.1L2446.9 688.2L2441.9 689.9L2436.8 691.4L2431.8 693.2L2426.8 695.2L2422.8 697.1L2419.8 699.0L2418.3 700.0M2512.1 664.8L2515.2 660.3L2518.7 658.3L2522.7 658.8L2523.7 660.0L2521.7 662.0L2518.9 664.3L2515.4 666.8L2512.9 667.8L2511.4 667.3L2512.1 664.8M2539.0 658.8L2543.5 654.3L2547.0 653.8L2549.5 657.3L2549.0 659.8L2545.5 661.3L2542.0 661.8L2538.5 661.3L2539.0 658.8M80.0 674.3L81.2 676.8L83.8 681.8L86.1 688.1L88.2 695.6L88.7 702.7L87.3 709.3L85.0 716.0L81.7 722.7L79.6 730.2L78.8 738.5L77.2 745.3L75.1 750.7L75.5 757.3L78.5 765.3L81.7 772.7L85.0 779.3L87.9 784.8L90.4 788.9L92.1 793.9L92.9 799.8L93.8 805.2L94.6 810.2L92.9 813.9L88.8 816.4L88.3 815.6L91.7 811.4L94.2 812.7L95.8 819.3L98.8 825.2L102.9 830.2L106.2 834.3L108.8 837.7L109.6 839.8L108.8 840.6L107.1 843.9L104.6 849.8L102.5 857.7L100.8 867.7L101.2 876.0L103.8 882.7L107.5 887.7L112.5 891.0L116.2 895.2L118.8 900.2L119.2 904.8L117.5 908.9L114.6 912.7L110.4 916.0L107.8 921.0L106.6 927.7L107.4 934.8L110.2 942.2L113.1 950.2L115.9 958.5L118.4 966.8L120.6 975.2L123.8 982.7L127.9 989.3L131.5 994.8L134.5 998.9L135.3 1003.9L134.0 1009.8L135.2 1015.2L138.8 1020.2L139.7 1026.4L137.7 1033.9L135.4 1041.8L132.9 1050.2L132.9 1056.4L135.4 1060.6L139.2 1063.5L144.2 1065.2L149.2 1066.8L154.2 1068.5L159.2 1071.0L164.2 1074.3L169.2 1076.8L174.2 1078.5L179.2 1081.8L184.2 1086.8L188.3 1091.4L191.7 1095.6L193.3 1098.9L193.3 1101.4L195.8 1104.8L200.8 1108.9L205.8 1112.2L210.8 1114.8L215.8 1116.7L220.8 1118.0L224.6 1120.9L227.1 1125.4L227.9 1130.2L227.1 1135.2L227.9 1138.1L230.4 1138.9L233.3 1139.8L236.7 1140.6L240.4 1143.5L244.6 1148.5L248.8 1153.9L252.9 1159.8L257.1 1166.0L261.2 1172.7L263.3 1176.0M110.0 839.3L110.4 835.2L111.2 826.8L113.3 821.8L116.7 820.2L120.4 821.4L124.6 825.6L129.2 827.2L134.2 826.4L139.2 827.7L144.2 831.0L149.2 833.9L154.2 836.4L152.5 836.0L144.2 832.7L136.7 830.6L130.0 829.8L123.8 829.8L117.9 830.6L114.6 833.9L113.8 839.8L114.6 845.2L117.1 850.2L118.8 855.2L119.6 860.2L118.3 861.0L115.0 857.7L112.5 852.7L110.8 846.0L110.0 842.7M131.7 1089.8L135.0 1090.6L137.9 1093.5L140.4 1098.5L143.3 1101.4L146.7 1102.2L149.2 1101.4L150.8 1098.9L150.0 1096.8L146.7 1095.2L142.9 1093.9L138.8 1093.1L135.0 1091.8L131.7 1090.2L131.7 1089.8M159.2 1097.2L164.2 1099.8L168.8 1101.8L172.9 1103.5L172.1 1104.3L166.2 1104.3L161.7 1103.1L158.3 1100.6L156.7 1098.5L156.7 1096.8L159.2 1097.2M160.0 1147.9L163.3 1148.4L165.0 1150.1L165.0 1152.9L163.6 1154.1L160.8 1153.6L159.1 1151.9L158.6 1149.1L160.0 1147.9M213.8 1152.2L217.9 1154.8L220.8 1158.5L222.5 1163.5L221.7 1165.3L218.3 1164.0L215.4 1160.2L212.9 1154.1L213.8 1152.2M2418.2 700.1L2416.5 701.1L2412.9 703.3L2408.9 706.7L2404.3 711.2L2400.4 715.8L2396.9 720.3L2393.8 724.3L2391.0 727.7L2388.4 731.4L2386.1 735.4L2384.4 739.7L2383.3 744.2L2382.7 746.5M2374.8 713.5L2375.9 714.9L2378.2 717.7L2380.0 721.4L2381.4 726.0L2382.2 730.6L2382.6 735.1L2382.7 737.4M2382.7 746.5L2381.3 746.8L2378.5 747.3L2375.9 749.0L2373.6 751.9L2372.8 755.0L2373.3 758.4L2375.0 760.1L2377.9 760.1L2381.3 760.4L2385.3 761.0L2387.3 761.3M2387.3 761.3L2387.8 763.8L2389.0 769.0L2389.8 774.4L2390.4 780.1L2391.3 785.7L2392.4 791.4L2392.7 797.1L2392.1 802.8L2391.3 808.5L2390.1 814.2L2388.1 817.9L2385.3 819.6L2383.6 822.4L2383.0 826.4L2381.6 830.1L2379.3 833.5L2377.3 838.1L2375.6 843.8L2373.6 849.5L2371.3 855.2L2369.4 858.9L2367.6 860.6L2366.8 861.4M2366.8 861.4L2366.5 858.9L2365.9 853.7L2363.4 849.7L2358.8 846.9L2354.3 844.9L2349.7 843.8L2345.5 842.4L2341.5 840.6L2338.1 838.7L2335.2 836.4L2332.7 833.5L2330.4 830.1L2328.7 826.1L2327.5 821.6L2327.8 817.6L2329.5 814.2L2331.8 811.3L2334.6 809.1L2337.8 806.8L2341.2 804.5L2344.0 801.7L2346.3 798.3L2349.2 794.8L2352.6 791.4L2354.3 789.7M2327.0 827.3L2328.1 829.8L2330.4 835.0L2333.2 840.4L2336.6 846.0L2340.1 851.5L2343.5 856.6L2347.4 861.4L2352.0 866.0L2356.3 869.4L2360.2 871.7L2363.1 875.4L2364.8 880.5L2365.7 883.0M2365.7 883.0L2366.2 884.2L2367.4 886.4L2368.5 889.9L2369.6 894.4L2369.1 900.1L2366.8 906.9L2364.8 913.2L2363.1 918.9L2361.4 924.6L2359.7 930.3L2358.5 936.5L2358.0 943.3L2357.1 949.0L2356.0 953.6L2354.3 958.1L2352.0 962.7L2350.3 967.2L2349.2 971.8L2348.0 975.8L2346.9 979.2L2346.3 980.9M2346.3 980.9L2345.7 978.6L2344.6 974.1L2343.7 968.9L2343.2 963.3L2343.5 957.6L2344.6 951.9L2345.7 946.2L2346.9 940.5L2348.0 934.8L2349.2 929.1L2348.3 927.1L2345.5 928.8L2342.9 927.7L2340.6 923.7L2338.6 921.2L2336.9 920.0L2335.2 916.3L2333.5 910.1L2330.9 908.4L2327.5 911.2L2324.1 912.0L2320.7 910.9L2317.6 908.9L2314.7 906.1L2312.7 902.7L2311.6 898.7L2312.7 896.1L2316.2 895.0L2319.3 894.1L2322.1 893.6L2321.6 892.7L2317.6 891.6L2313.6 890.4L2309.6 889.3L2307.1 886.2L2305.9 881.0L2305.9 876.2L2307.1 871.7L2306.8 867.1L2305.1 862.5L2305.1 858.0L2306.8 853.4L2308.5 848.9L2310.2 844.3L2311.6 840.6L2312.7 837.8L2313.3 836.4M2273.5 887.6L2272.9 889.9L2271.8 894.4L2269.8 898.7L2266.9 902.7L2264.9 906.9L2263.8 911.5L2263.8 915.7L2264.9 919.7L2267.2 920.6L2270.6 918.3L2273.5 916.3L2275.8 914.6L2278.9 915.7L2282.9 919.7L2287.4 922.3L2292.5 923.4L2297.9 924.1L2303.6 924.3L2308.2 924.9L2311.6 925.8L2313.3 926.3M2309.9 836.4L2308.5 837.8L2305.6 840.6L2302.5 844.1L2299.1 848.0L2296.0 851.7L2293.1 855.2L2290.6 858.0L2288.3 860.3L2288.0 863.7L2289.7 868.2L2291.4 872.8L2293.1 877.3L2294.2 882.2L2294.8 887.3L2296.0 892.7L2297.7 898.4L2300.2 903.2L2303.6 907.2L2303.1 908.4L2298.5 906.6L2294.9 904.4L2292.3 901.5L2291.0 900.1M2279.2 931.7L2283.7 933.4L2288.3 935.4L2292.8 937.7L2297.9 939.4L2303.6 940.5L2308.8 940.5L2313.3 939.4L2316.7 939.9L2319.0 942.2L2319.9 945.9L2319.3 951.0L2317.0 952.7L2313.0 951.0L2308.2 948.2L2302.5 944.2L2296.8 940.8L2291.1 937.9L2285.4 935.1L2279.7 932.2L2279.2 931.7M2301.9 967.2L2303.6 968.7L2307.1 971.5L2310.5 973.8L2313.9 975.5L2317.3 975.8L2320.7 974.6L2323.3 971.8L2325.0 967.2L2325.3 963.3L2324.1 959.8L2325.0 960.4L2327.8 965.0L2329.0 969.5L2328.4 974.1L2326.7 977.2L2323.8 978.9L2324.7 981.2L2329.2 984.0L2331.2 986.9L2330.7 989.7L2328.4 990.6L2324.4 989.4L2319.6 987.4L2313.9 984.6L2308.2 982.9L2302.5 982.3L2296.8 982.0L2291.1 982.0L2286.6 982.6L2283.2 983.7L2284.3 984.6L2290.0 985.2L2296.2 985.7L2303.1 986.3L2308.8 988.0L2313.3 990.8L2318.4 993.4L2324.1 995.7L2329.8 996.0L2335.5 994.3L2340.6 993.7L2345.2 994.3L2348.9 995.9L2351.7 998.6L2353.1 1000.0M2385.0 747.6L2386.1 745.3L2388.4 740.8L2391.0 736.5L2393.8 732.5L2397.5 729.4L2402.1 727.1L2407.2 724.7L2412.9 722.2L2418.6 720.0L2424.3 717.9L2429.9 716.0L2435.6 714.3L2440.8 712.3L2445.3 710.1L2450.4 707.2L2456.1 703.8L2461.8 700.7L2467.5 697.8L2470.3 696.4M2470.3 696.4L2468.1 698.4L2463.5 702.4L2459.0 706.1L2454.4 709.5L2449.9 713.2L2445.3 717.2L2440.8 721.2L2436.2 725.1L2431.1 728.8L2425.4 732.3L2420.3 735.1L2415.7 737.4L2410.6 739.7L2404.9 741.9L2399.8 743.9L2395.2 745.6L2391.8 747.1L2389.5 748.2L2387.6 749.3L2385.9 750.5L2385.0 751.0M2451.0 696.4L2449.6 698.7L2446.7 703.2L2444.5 707.8L2442.7 712.3L2441.9 714.6M2355.3 1006.0L2358.7 1011.8L2365.3 1023.5L2372.0 1034.3L2378.7 1044.3L2384.5 1053.5L2389.5 1061.8L2393.0 1069.8L2395.0 1077.2L2395.4 1083.1L2394.2 1087.2L2393.7 1089.3M2358.7 1029.3L2357.0 1031.0L2353.7 1034.3L2349.5 1036.4L2344.5 1037.2L2339.5 1038.9L2334.5 1041.4L2329.5 1043.1L2324.5 1043.9L2322.8 1048.1L2324.5 1055.6L2328.7 1058.9L2335.3 1058.1L2342.0 1056.8L2348.7 1055.2L2354.5 1054.8L2359.5 1055.6L2361.6 1058.5L2360.8 1063.5L2361.2 1066.4L2362.8 1067.2L2364.5 1064.8L2366.2 1058.9L2368.2 1055.6L2370.8 1054.8L2373.2 1056.4L2375.8 1060.6L2376.2 1065.6L2374.5 1071.4L2371.6 1076.0L2367.4 1079.3L2362.0 1081.8L2355.3 1083.5L2348.7 1083.9L2342.0 1083.1L2336.6 1083.9L2332.4 1086.4L2327.0 1088.5L2320.3 1090.2L2320.3 1092.7L2327.0 1096.0L2333.2 1098.5L2339.1 1100.2L2343.2 1103.1L2345.8 1107.2L2344.9 1111.4L2340.8 1115.6L2335.3 1118.1L2328.7 1118.9L2324.5 1117.7L2322.8 1114.3L2324.1 1114.8L2328.2 1118.9L2333.2 1121.8L2339.1 1123.5L2345.3 1123.5L2352.0 1121.8L2358.2 1119.6L2364.1 1116.8L2364.9 1120.1L2360.8 1129.6L2355.3 1134.8L2348.7 1135.6L2342.0 1136.8L2335.3 1138.5L2328.7 1141.0L2322.0 1144.3L2316.6 1144.8L2312.4 1142.2L2310.8 1143.9L2311.6 1149.8L2310.3 1155.6L2307.0 1161.4L2303.7 1167.2L2300.3 1173.1L2298.7 1176.0M261.7 1172.3L262.9 1174.8L265.4 1179.8L267.5 1185.2L269.2 1191.1L269.8 1196.9L269.5 1202.8L268.2 1209.0L266.1 1215.7L266.2 1219.4L268.8 1220.2L270.2 1222.3L270.5 1225.7L270.1 1230.2L268.9 1236.1L270.0 1242.3L273.3 1249.0L275.0 1255.2L275.0 1261.1L277.5 1267.3L282.5 1274.0L284.2 1278.6L282.5 1281.1L280.4 1282.3L277.9 1282.3L277.1 1282.8L277.9 1283.6L277.9 1286.5L277.1 1291.5L278.3 1297.3L281.7 1304.0L284.8 1310.7L287.8 1317.3L288.5 1324.0L286.8 1330.7L288.7 1337.3L294.0 1344.0L295.7 1353.2L293.7 1364.8L294.9 1372.8L299.4 1376.9L301.1 1382.8L299.9 1390.2L298.5 1396.3L296.8 1401.0L296.8 1403.5L298.5 1403.8L299.5 1407.3L299.8 1414.0L302.5 1420.2L307.5 1426.1L312.9 1432.3L318.8 1439.0L324.6 1444.0L330.4 1447.3L335.8 1453.6L340.8 1462.8L345.4 1471.5L349.6 1479.8L353.8 1487.8L357.9 1495.2L361.7 1501.5L365.0 1506.5L367.1 1511.5L367.9 1516.5L367.1 1521.9L364.6 1527.8L361.7 1533.2L358.3 1538.2L354.6 1542.3L350.4 1545.7L345.4 1548.6L339.6 1551.1L335.0 1552.3L331.7 1552.3L326.7 1550.9L320.0 1548.1L313.8 1545.6L307.9 1543.4L304.8 1543.6L304.2 1546.1L306.3 1549.8L311.0 1554.8L315.4 1560.2L319.6 1566.1L323.1 1570.7L325.9 1574.0L327.2 1578.6L326.8 1584.4L328.3 1589.0L331.7 1592.3L335.8 1595.2L340.8 1597.8L345.0 1601.1L348.3 1605.2L352.1 1608.2L356.2 1609.8L360.0 1614.4L363.3 1621.9L365.8 1626.9L367.5 1629.4L370.8 1630.0L375.8 1628.7L380.8 1628.5L385.8 1629.5L390.2 1628.1L393.8 1624.2L395.5 1626.1L395.2 1633.6L395.8 1639.8L397.5 1644.8L400.8 1650.2L405.8 1656.1L410.4 1661.1L414.6 1665.2L418.8 1669.0L422.9 1672.3L425.0 1674.0M371.7 1295.7L372.9 1299.4L375.4 1306.9L374.6 1314.0L370.4 1320.7L366.9 1328.6L364.1 1337.8L363.7 1345.7L365.7 1352.3L366.5 1360.2L366.2 1369.4L366.3 1376.5L367.0 1381.5L365.7 1389.0L362.3 1399.0L361.3 1406.5L362.7 1411.5L365.0 1417.3L368.3 1424.0L372.5 1429.8L377.5 1434.8L382.1 1440.7L386.2 1447.3L390.0 1453.2L393.3 1458.2L396.2 1463.6L398.8 1469.4L401.0 1475.2L403.0 1481.1L404.0 1486.9L404.0 1492.8L405.7 1495.7L409.0 1495.7L410.9 1497.8L411.4 1501.9L413.3 1504.8L416.7 1506.5L418.9 1511.5L420.1 1519.8L421.8 1525.2L423.9 1527.8L426.7 1530.2L430.0 1532.8L431.2 1536.5L430.4 1541.5L430.8 1545.7L432.5 1549.0L432.9 1553.2L432.1 1558.2L431.2 1563.6L430.4 1569.4L431.7 1575.2L435.0 1581.1L439.8 1587.3L446.2 1594.0L449.7 1601.1L450.3 1608.6L451.3 1614.0L452.7 1617.3L455.7 1621.2L460.3 1625.8L462.0 1629.9L460.7 1633.8L461.2 1637.8L463.8 1641.9L466.2 1643.6L468.8 1642.8L472.9 1646.1L478.8 1653.6L481.4 1659.4L480.9 1663.6L481.8 1667.8L483.9 1671.9L485.0 1674.0M371.7 1295.7L374.6 1298.6L380.4 1304.4L385.4 1309.0L389.6 1312.3L393.8 1316.5L397.9 1321.5L401.7 1325.2L405.0 1327.8L408.8 1329.2L412.9 1329.8L415.8 1328.7L417.5 1326.0L420.8 1326.6L425.8 1330.4L429.6 1334.0L432.1 1337.3L432.9 1340.7L432.1 1344.0L433.8 1346.9L437.9 1349.4L442.5 1351.9L447.5 1354.4L452.7 1357.6L458.0 1361.4L460.3 1364.8L459.7 1367.6L458.0 1369.4L455.3 1370.2L454.0 1372.8L454.0 1376.9L453.2 1381.1L451.5 1385.2L450.9 1389.8L451.4 1394.8L452.9 1401.1L455.4 1408.6L457.5 1415.2L459.2 1421.1L460.2 1427.8L460.5 1435.2L461.3 1441.1L462.7 1445.2L464.2 1450.2L465.8 1456.1L467.9 1461.5L470.4 1466.5L471.4 1472.3L470.9 1479.0L472.6 1484.0L476.4 1487.3L478.1 1492.8L477.6 1500.2L479.0 1506.9L482.3 1512.8L485.1 1516.9L487.2 1519.4L488.9 1523.2L490.1 1528.2L492.6 1534.4L496.4 1541.9L500.8 1547.3L505.8 1550.7L509.6 1555.7L512.1 1562.3L514.3 1567.8L516.3 1571.9L518.8 1576.1L521.8 1580.2L525.4 1584.0L529.6 1587.3L532.5 1588.8L534.2 1588.5L537.5 1589.3L542.5 1591.3L547.2 1593.2L551.8 1594.8L552.3 1598.2L549.0 1603.2L547.0 1608.6L546.3 1614.4L547.0 1620.2L549.0 1626.1L552.1 1631.9L556.2 1637.8L560.8 1641.9L565.8 1644.4L570.4 1646.8L574.6 1648.9L577.1 1653.1L577.9 1659.2L579.2 1665.2L580.8 1671.1L581.7 1674.0M347.1 1548.6L351.2 1547.8L352.9 1550.2L352.1 1556.1L352.8 1560.7L354.9 1564.0L354.1 1564.8L350.2 1563.2L347.1 1560.7L344.6 1557.3L343.8 1554.0L344.6 1550.7L347.1 1548.6M371.7 1295.7L372.5 1297.3L374.2 1300.7L375.8 1304.4L377.5 1308.6L379.2 1309.8L380.8 1308.2L381.7 1307.3M407.5 1456.5L409.2 1454.8L411.5 1455.2L414.5 1457.8L416.6 1461.5L417.8 1466.5L420.2 1470.7L424.1 1474.0L425.8 1480.2L425.2 1489.4L423.3 1491.9L420.0 1487.8L416.7 1482.8L413.3 1476.9L410.6 1471.9L408.4 1467.8L407.2 1463.6L406.8 1459.4L407.5 1456.5M465.8 1490.7L470.8 1490.7L473.8 1493.6L474.6 1499.4L473.3 1506.9L470.0 1516.1L466.7 1519.8L463.3 1518.2L460.2 1515.7L457.4 1512.3L457.8 1505.7L461.5 1495.7L465.8 1490.7M299.4 1506.9L301.6 1506.1L303.2 1507.8L304.4 1511.9L304.4 1516.5L303.2 1521.5L301.8 1525.2L300.2 1527.8L297.2 1527.3L292.8 1524.0L292.2 1521.1L295.2 1518.6L297.1 1514.8L297.9 1509.8L299.4 1506.9M145.6 1411.2L148.1 1410.8L150.2 1412.8L151.8 1416.9L152.2 1421.2L151.2 1425.8L149.5 1428.7L147.2 1430.0L145.5 1428.2L144.5 1423.2L144.1 1418.3L144.2 1413.7L145.6 1411.2M204.6 1177.3L207.1 1177.3L209.4 1181.1L211.6 1188.6L211.6 1192.8L209.4 1193.6L207.5 1192.3L205.8 1189.0L204.6 1184.8L203.8 1179.8L204.6 1177.3M466.2 1643.6L468.8 1642.8L470.8 1645.2L472.5 1651.1L472.9 1656.5L472.1 1661.5L470.2 1662.3L467.4 1659.0L465.8 1654.0L465.2 1647.3L466.2 1643.6M1294.3 1674.0L1298.5 1671.1L1306.8 1665.2L1315.2 1659.8L1323.5 1654.8L1331.8 1650.2L1340.2 1646.1L1347.7 1641.5L1354.3 1636.5L1361.0 1632.3L1367.7 1629.0L1375.2 1624.8L1383.5 1619.8L1391.8 1614.8L1400.2 1609.8L1407.7 1604.4L1414.3 1598.6L1421.0 1592.8L1427.7 1586.9L1435.2 1581.1L1443.5 1575.2L1451.8 1570.2L1460.2 1566.1L1467.7 1562.8L1474.3 1560.2L1480.6 1558.4L1486.4 1557.2L1492.2 1555.8L1498.1 1554.2L1505.2 1552.8L1513.5 1551.8L1521.0 1552.0L1527.7 1553.3L1534.3 1555.7L1541.0 1559.0L1547.7 1561.1L1554.3 1561.9L1561.8 1562.6L1570.2 1563.1L1576.8 1562.7L1581.8 1561.3L1583.5 1559.0L1581.8 1555.7L1582.2 1552.3L1584.8 1549.0L1587.7 1546.9L1591.0 1546.1L1593.9 1546.9L1596.4 1549.4L1600.2 1550.7L1605.2 1550.7L1609.3 1552.8L1612.7 1556.9L1617.7 1559.8L1624.3 1561.5L1628.9 1565.2L1631.4 1571.1L1631.4 1575.2L1628.9 1577.8L1631.0 1580.2L1637.7 1582.8L1645.2 1584.8L1653.5 1586.5L1659.3 1585.2L1662.7 1581.1L1666.8 1577.8L1671.8 1575.2L1674.3 1574.0M1425.2 1556.5L1430.2 1554.8L1433.9 1554.4L1436.4 1555.2L1436.4 1558.2L1433.9 1563.2L1434.8 1566.5L1438.9 1568.2L1442.7 1568.6L1446.0 1567.8L1445.2 1569.0L1440.2 1572.3L1436.0 1575.2L1432.7 1577.8L1429.3 1576.5L1426.0 1571.5L1423.9 1566.1L1423.1 1560.2L1425.2 1556.5M1331.0 1620.7L1332.2 1620.2L1334.8 1619.4L1337.2 1621.1L1339.8 1625.2L1342.7 1626.5L1346.0 1624.8L1350.2 1624.4L1355.2 1625.2L1360.2 1626.1L1365.2 1626.9L1364.3 1629.4L1357.7 1633.6L1354.3 1635.7M1301.0 1657.3L1304.8 1656.5L1312.2 1654.8L1317.7 1650.7L1321.0 1644.0L1323.9 1640.2L1326.4 1639.4L1328.5 1641.1L1330.2 1645.2L1334.3 1644.8L1341.0 1639.8L1344.3 1637.3M1301.0 1657.3L1301.8 1659.0L1303.5 1662.3L1302.7 1666.1L1299.3 1670.2L1297.7 1672.3M1481.0 1550.7L1482.2 1548.6L1484.8 1544.4L1487.1 1541.9L1489.2 1541.1L1490.1 1542.8L1489.6 1546.9L1487.7 1550.2L1484.3 1552.8L1482.7 1554.0M1584.3 1558.6L1587.7 1561.1L1591.4 1563.6L1595.6 1566.1L1598.5 1566.1L1600.2 1563.6L1598.9 1561.1L1594.8 1558.6L1590.2 1557.3L1585.2 1557.3L1584.3 1558.6M1414.3 1592.3L1416.8 1591.1L1421.8 1588.6L1426.8 1585.2L1431.8 1581.1L1434.3 1579.0M1354.3 1634.0L1358.5 1631.9L1366.8 1627.8L1376.0 1622.8L1386.0 1616.9L1391.0 1614.0M1670.3 1522.3L1672.4 1522.8L1676.6 1523.6L1681.2 1523.2L1686.2 1521.5L1690.8 1519.8L1694.9 1518.2L1698.2 1515.7L1700.8 1512.3L1705.3 1511.5L1712.0 1513.2L1718.2 1513.2L1724.1 1511.5L1728.7 1509.4L1732.0 1506.9L1735.8 1505.2L1739.9 1504.4L1744.9 1502.5L1750.8 1499.5L1756.6 1498.5L1762.4 1499.5L1768.7 1499.5L1775.3 1498.5L1782.8 1497.4L1791.2 1496.2L1795.8 1493.2L1796.6 1488.2L1797.8 1483.8L1799.5 1479.9L1801.6 1479.1L1804.1 1481.2L1805.8 1485.2L1806.6 1491.1L1809.1 1495.2L1813.2 1497.8L1817.8 1499.4L1822.8 1500.2L1826.2 1499.0L1827.8 1495.7L1829.5 1495.2L1831.2 1497.8L1834.5 1497.8L1839.5 1495.2L1842.8 1491.9L1844.5 1487.8L1846.6 1485.2L1849.1 1484.4L1851.2 1482.8L1852.8 1480.2L1854.5 1481.1L1856.2 1485.2L1859.9 1487.8L1865.8 1488.6L1871.2 1488.2L1876.2 1486.5L1880.8 1484.6L1884.9 1482.4L1890.8 1481.2L1898.2 1480.8L1902.8 1481.9L1904.5 1484.4L1908.7 1486.9L1915.3 1489.4L1920.8 1491.9L1924.9 1494.4L1927.4 1494.0L1928.2 1490.7L1929.9 1489.0L1932.4 1489.0L1933.2 1491.5L1932.4 1496.5L1933.7 1500.2L1937.0 1502.8L1940.3 1505.7L1943.7 1509.0L1946.2 1512.3L1947.8 1515.7L1949.9 1518.6L1952.4 1521.1L1956.2 1522.1L1961.2 1521.6L1965.8 1520.8L1969.9 1519.6L1975.3 1516.5L1982.0 1511.5L1987.4 1507.8L1991.6 1505.2L1995.8 1503.6L1999.9 1502.8L2002.4 1500.2L2003.2 1496.1L2007.4 1492.8L2014.9 1490.2L2023.7 1490.7L2033.7 1494.0L2041.2 1497.8L2046.2 1501.9L2051.2 1506.5L2056.2 1511.5L2061.2 1516.1L2066.2 1520.2L2072.0 1524.0L2078.7 1527.3L2085.3 1531.5L2092.0 1536.5L2097.8 1541.5L2102.8 1546.5L2106.2 1551.1L2107.8 1555.2L2108.8 1562.3L2109.2 1572.3L2108.8 1582.3L2107.6 1592.3L2106.6 1602.3L2105.8 1612.3L2106.6 1619.4L2109.1 1623.6L2112.4 1625.2L2116.6 1624.4L2119.1 1621.9L2119.9 1617.8L2118.7 1614.4L2115.3 1611.9L2114.9 1610.2L2117.4 1609.4L2119.9 1610.2L2122.4 1612.8L2125.3 1613.8L2128.7 1613.5L2129.1 1616.4L2126.6 1622.6L2124.1 1628.6L2121.6 1634.4L2119.5 1638.2L2117.8 1639.8L2119.1 1643.2L2123.2 1648.2L2127.8 1653.6L2132.8 1659.4L2137.4 1665.2L2141.6 1671.1L2143.7 1674.0M2277.0 1674.0L2276.2 1670.7L2274.5 1664.0L2272.4 1657.3L2269.9 1650.7L2267.0 1644.0L2263.7 1637.3L2259.5 1629.0L2254.5 1619.0L2248.7 1608.2L2242.0 1596.5L2235.8 1585.7L2229.9 1575.7L2224.9 1566.5L2220.8 1558.2L2215.3 1549.0L2208.7 1539.0L2202.0 1529.0L2195.3 1519.0L2188.7 1508.2L2182.0 1496.5L2176.2 1485.7L2171.2 1475.7L2166.6 1465.7L2162.4 1455.7L2158.2 1445.7L2154.1 1435.7L2151.0 1428.2L2149.0 1423.2L2147.8 1415.7L2147.2 1405.7L2148.2 1398.2L2150.8 1393.2L2152.4 1387.3L2153.2 1380.7L2154.5 1374.8L2156.2 1369.8L2157.8 1364.0L2159.5 1357.3L2161.6 1351.5L2164.1 1346.5L2166.6 1341.5L2169.1 1336.5L2170.8 1331.9L2171.6 1327.8L2173.7 1324.4L2177.0 1321.9L2177.8 1318.6L2176.2 1314.4L2177.8 1311.1L2182.8 1308.6L2188.7 1305.7L2195.3 1302.3L2201.2 1298.2L2206.2 1293.2L2212.0 1286.5L2218.7 1278.2L2224.5 1271.5L2229.5 1266.5L2233.7 1261.5L2237.0 1256.5L2238.2 1251.1L2237.4 1245.2L2238.2 1239.4L2240.8 1233.6L2244.5 1226.5L2249.5 1218.2L2254.5 1211.5L2259.5 1206.5L2266.2 1202.8L2274.5 1200.2L2282.0 1198.2L2288.7 1196.5L2292.8 1192.8L2294.5 1186.9L2296.6 1181.1L2299.1 1175.2L2300.3 1172.3M1715.3 1514.0L1713.7 1515.7L1710.3 1519.0L1709.5 1523.2L1711.2 1528.2L1714.5 1531.1L1719.5 1531.9L1724.1 1530.2L1728.2 1526.1L1732.4 1522.3L1736.6 1519.0L1738.2 1519.8L1737.4 1524.8L1734.1 1529.8L1728.2 1534.8L1722.8 1540.7L1717.8 1547.3L1717.0 1553.2L1720.3 1558.2L1724.9 1561.9L1730.8 1564.4L1737.0 1566.5L1743.7 1568.2L1748.7 1571.1L1752.0 1575.2L1752.0 1579.8L1748.7 1584.8L1744.9 1588.2L1740.8 1589.8L1737.4 1588.6L1734.9 1584.4L1730.8 1579.4L1724.9 1573.6L1718.2 1569.8L1710.8 1568.2L1703.2 1565.7L1695.8 1562.3L1691.2 1560.2L1689.5 1559.4L1690.3 1561.9L1693.7 1567.8L1694.9 1573.6L1694.1 1579.4L1692.0 1583.6L1688.7 1586.1L1684.9 1584.8L1680.8 1579.8L1676.6 1576.5L1672.4 1574.8L1670.3 1574.0M2338.7 1654.0L2345.3 1657.3L2350.3 1656.1L2353.7 1650.2L2359.5 1646.1L2367.8 1643.6L2377.4 1641.1L2388.2 1638.6L2393.2 1638.2L2392.4 1639.8L2387.0 1642.3L2377.0 1645.7L2368.7 1649.4L2362.0 1653.6L2356.6 1657.3L2352.4 1660.7L2346.6 1659.8L2339.1 1654.8L2338.7 1654.0M2395.8 1623.6L2406.6 1622.8L2416.2 1624.8L2424.5 1629.8L2432.0 1634.0L2438.7 1637.3L2443.7 1641.9L2447.0 1647.8L2447.0 1654.0L2443.7 1660.7L2440.3 1666.5L2437.0 1671.5L2434.1 1674.0L2431.6 1674.0L2432.4 1669.0L2436.6 1659.0L2437.8 1651.5L2436.2 1646.5L2432.0 1641.5L2425.3 1636.5L2417.8 1632.3L2409.5 1629.0L2401.6 1626.5L2394.1 1624.8L2395.8 1623.6M1702.0 1510.7L1699.5 1509.8L1694.5 1508.2L1689.5 1507.2L1684.5 1506.8L1680.3 1507.7L1677.0 1509.7L1674.1 1511.5L1671.6 1513.2L1670.3 1514.0M2209.1 1544.4L2213.2 1548.6L2217.8 1552.3L2222.8 1555.7L2225.8 1559.4L2226.6 1563.6L2225.8 1567.8L2223.2 1571.9L2219.9 1570.7L2215.8 1564.0L2212.0 1556.1L2208.7 1546.9L2209.1 1544.4M2148.0 1407.3L2150.3 1420.7M2235.3 1594.0L2263.7 1637.3M1950.3 1512.3L1949.5 1514.0L1947.8 1517.3L1948.2 1520.2L1950.8 1522.8L1952.0 1524.0M1965.3 1525.7L1967.8 1524.8L1972.8 1523.2L1977.4 1520.7L1981.6 1517.3L1983.7 1515.7M425.0 1670.3L426.7 1672.4L430.0 1676.6L432.9 1682.8L435.4 1691.2L437.3 1698.7L438.7 1705.3L438.8 1712.0L437.8 1718.7L437.6 1724.1L438.1 1728.2L437.1 1733.2L434.6 1739.1L432.1 1745.3L429.6 1752.0L427.5 1757.4L425.8 1761.6L423.3 1764.1L420.0 1764.9L417.5 1766.2L415.8 1767.8L416.7 1769.5L420.0 1771.2L422.1 1775.8L422.9 1783.2L425.4 1787.4L429.6 1788.2L434.2 1792.4L439.2 1799.9L442.5 1802.8L444.2 1801.2L443.3 1797.8L440.0 1792.8L440.4 1789.9L444.6 1789.1L447.9 1791.2L450.4 1796.2L453.8 1801.2L457.9 1806.2L462.5 1811.2L467.5 1816.2L472.5 1821.2L477.5 1826.2L482.1 1832.0L486.2 1838.7L490.4 1844.9L494.6 1850.8L499.2 1855.8L504.2 1859.9L508.5 1863.7L512.2 1867.0L514.8 1870.8L516.5 1874.9L518.4 1879.1L520.6 1883.2L521.4 1888.7L520.9 1895.3L521.2 1901.2L522.2 1906.2L523.7 1910.3L525.7 1913.7L528.3 1915.8L531.7 1916.6L536.2 1915.3L542.1 1912.0L547.9 1908.7L553.8 1905.3L558.3 1901.2L561.7 1896.2L564.2 1891.2L565.8 1886.2L565.4 1881.2L562.9 1876.2L559.6 1872.4L555.4 1869.9L553.2 1866.2L552.8 1861.2L551.6 1856.2L549.4 1851.2L547.5 1846.2L545.8 1841.2L543.3 1836.2L540.0 1831.2L536.2 1826.6L532.1 1822.4L528.3 1819.9L525.0 1819.1L522.5 1820.3L520.8 1823.7L520.4 1827.0L521.2 1830.3L520.4 1832.4L517.9 1833.2L515.4 1832.0L512.9 1828.7L510.4 1826.2L507.9 1824.5L505.8 1820.8L504.2 1814.9L503.2 1808.7L502.8 1802.0L504.1 1795.3L506.9 1788.7L508.8 1783.7L509.6 1780.3L508.8 1776.2L506.2 1771.2L503.8 1765.3L501.2 1758.7L499.3 1750.3L498.0 1740.3L495.5 1733.7L491.8 1730.3L489.0 1725.8L487.0 1719.9L485.8 1714.1L485.2 1708.2L485.4 1702.0L486.2 1695.3L486.0 1688.7L484.7 1682.0L483.8 1676.6L483.5 1672.4L483.3 1670.3M581.7 1670.3L582.9 1672.0L585.4 1675.3L589.2 1677.0L594.2 1677.0L598.8 1679.1L602.9 1683.2L606.2 1687.4L608.8 1691.6L610.2 1696.2L610.5 1701.2L611.8 1705.3L613.9 1708.7L614.2 1709.1L612.5 1706.6L609.2 1707.0L604.2 1710.3L599.8 1714.5L595.9 1719.5L593.7 1726.2L593.0 1734.5L593.7 1740.8L595.7 1744.9L599.6 1748.2L605.4 1750.8L611.7 1750.3L618.3 1747.0L620.4 1747.4L617.9 1751.6L615.0 1755.1L611.7 1757.9L613.3 1759.2L620.0 1758.8L624.2 1760.8L625.8 1764.9L629.6 1769.1L635.4 1773.2L641.2 1777.8L647.1 1782.8L652.9 1787.0L658.8 1790.3L662.5 1793.2L664.2 1795.8L662.9 1797.4L658.8 1798.2L655.2 1797.4L652.2 1794.9L652.2 1796.2L655.2 1801.2L658.3 1806.2L661.7 1811.2L662.9 1815.3L662.1 1818.7L663.3 1822.4L666.7 1826.6L671.2 1829.9L677.1 1832.4L682.1 1834.1L686.2 1834.9L688.8 1837.8L689.6 1842.8L686.2 1842.8L678.8 1837.8L677.1 1837.8L681.2 1842.8L686.7 1848.7L693.3 1855.3L700.0 1862.0L706.7 1868.7L712.1 1874.9L716.2 1880.8L720.4 1887.4L724.6 1894.9L728.8 1901.6L732.9 1907.4L736.7 1914.5L740.0 1922.8L744.6 1930.3L750.4 1937.0L754.6 1942.4L757.1 1946.6L758.3 1948.7M430.0 1737.0L428.8 1740.3L426.2 1747.0L422.9 1754.5L418.8 1762.8L416.7 1767.0M426.7 1787.0L428.8 1788.7L432.9 1792.0L437.1 1795.8L441.2 1799.9L443.3 1802.0M490.8 1711.2L492.5 1706.2L495.0 1703.1L498.3 1701.9L499.6 1703.0L498.8 1706.3L496.9 1709.4L494.1 1712.2L492.0 1713.7L490.7 1713.7L490.8 1711.2M511.2 1769.5L513.8 1767.8L515.8 1768.7L517.5 1772.0L517.9 1775.8L517.1 1779.9L515.4 1780.8L512.9 1778.2L511.2 1775.3L510.4 1772.0L511.2 1769.5M547.5 1823.4L549.2 1822.9L550.8 1825.8L552.5 1832.2L552.3 1835.8L550.3 1836.6L548.7 1833.7L547.3 1827.0L547.5 1823.4M1309.3 1670.3L1306.8 1673.2L1301.8 1679.1L1298.1 1685.3L1295.6 1692.0L1292.7 1698.7L1289.3 1705.3L1288.1 1716.2L1288.9 1731.2L1290.6 1744.5L1293.1 1756.2L1295.6 1767.0L1298.1 1777.0L1299.9 1783.7L1301.1 1787.0L1301.5 1792.0L1301.2 1798.7L1300.2 1804.5L1298.5 1809.5L1295.6 1816.2L1291.4 1824.5L1287.7 1832.8L1284.3 1841.2L1281.0 1851.2L1277.7 1862.8L1274.3 1874.5L1271.0 1886.2L1268.1 1897.8L1265.6 1909.5L1263.7 1921.2L1262.3 1932.8L1261.5 1941.2L1261.2 1946.2L1261.0 1948.7M1286.0 1673.7L1288.1 1675.3L1292.2 1678.7L1291.8 1686.6L1286.8 1699.1L1281.4 1706.6L1275.6 1709.1L1271.0 1707.4L1267.7 1701.6L1269.8 1700.8L1277.2 1704.9L1281.8 1709.1L1283.5 1713.2L1283.1 1718.7L1280.6 1725.3L1280.2 1733.7L1281.8 1743.7L1283.9 1753.7L1286.4 1763.7L1290.2 1773.2L1295.2 1782.4L1297.7 1787.0M2143.7 1670.3L2145.8 1671.6L2149.9 1674.1L2152.8 1677.8L2154.5 1682.8L2155.8 1687.8L2156.6 1692.8L2158.7 1696.6L2162.0 1699.1L2164.9 1698.7L2167.4 1695.3L2169.9 1691.6L2172.4 1687.4L2173.2 1688.2L2172.4 1694.1L2173.7 1699.1L2177.0 1703.2L2179.9 1708.2L2182.4 1714.1L2185.8 1719.5L2189.9 1724.5L2194.5 1728.2L2199.5 1730.8L2204.5 1732.2L2209.5 1732.5L2213.7 1735.4L2217.0 1740.9L2220.8 1746.6L2224.9 1752.4L2228.2 1757.0L2230.8 1760.3L2231.2 1763.2L2229.5 1765.8L2229.9 1768.7L2232.4 1772.0L2236.6 1772.4L2242.4 1769.9L2247.8 1768.2L2252.8 1767.4L2257.8 1765.3L2262.8 1762.0L2267.8 1759.1L2272.8 1756.6L2276.2 1754.1L2277.8 1751.6L2277.7 1748.7L2275.7 1745.3L2275.0 1739.9L2275.7 1732.4L2277.1 1726.2L2279.2 1721.2L2280.8 1715.3L2281.6 1708.7L2281.6 1701.2L2280.8 1692.8L2279.8 1684.1L2278.6 1674.9L2278.0 1670.3M2117.0 1940.3L2120.8 1937.8L2128.2 1932.8L2137.0 1928.7L2147.0 1925.3L2156.2 1922.4L2164.5 1919.9L2172.0 1917.0L2178.7 1913.7L2186.2 1910.8L2194.5 1908.2L2203.7 1906.6L2213.7 1905.8L2222.8 1904.9L2231.2 1904.1L2238.2 1902.8L2244.1 1901.2L2248.7 1901.6L2252.0 1904.1L2257.4 1904.1L2264.9 1901.6L2272.4 1899.5L2279.9 1897.8L2285.8 1898.2L2289.9 1900.8L2294.9 1902.4L2300.8 1903.2L2307.4 1902.8L2314.9 1901.2L2322.8 1901.2L2331.2 1902.8L2339.5 1906.6L2347.8 1912.4L2355.3 1917.4L2362.0 1921.6L2367.8 1924.5L2372.8 1926.2L2378.7 1926.2L2385.3 1924.5L2392.0 1922.8L2398.7 1921.2L2407.0 1921.6L2417.0 1924.1L2427.0 1927.0L2437.0 1930.3L2447.0 1933.7L2457.0 1937.0L2464.5 1941.2L2469.5 1946.2L2472.0 1948.7M2400.8 1734.9L2404.9 1734.1L2409.1 1735.8L2413.2 1739.9L2417.0 1744.5L2420.3 1749.5L2424.9 1754.1L2430.8 1758.2L2434.5 1763.2L2436.2 1769.1L2435.3 1774.9L2432.0 1780.8L2428.2 1784.9L2424.1 1787.4L2419.1 1786.6L2413.2 1782.4L2408.2 1779.9L2404.1 1779.1L2399.9 1777.4L2395.8 1774.9L2396.2 1772.8L2401.2 1771.2L2404.1 1766.6L2404.9 1759.1L2404.5 1752.8L2402.8 1747.8L2401.2 1742.8L2399.5 1737.8L2400.8 1734.9M2431.6 1790.8L2440.8 1788.2L2447.8 1789.1L2452.8 1793.2L2456.3 1799.1L2458.3 1806.6L2458.8 1812.8L2457.6 1817.8L2454.1 1820.8L2448.2 1821.6L2444.5 1819.5L2442.8 1814.5L2439.9 1809.5L2435.8 1804.5L2432.0 1799.5L2428.7 1794.5L2431.6 1790.8M2411.6 1909.1L2420.8 1906.6L2427.8 1907.0L2432.8 1910.3L2438.7 1913.7L2445.3 1917.0L2452.8 1920.8L2461.2 1924.9L2468.7 1927.4L2475.3 1928.2L2478.2 1930.8L2477.4 1934.9L2473.2 1935.8L2465.8 1933.2L2458.7 1929.9L2452.0 1925.8L2444.5 1922.0L2436.2 1918.7L2428.7 1915.9L2422.0 1913.8L2415.8 1912.1L2409.9 1910.9L2411.6 1909.1M2198.7 1940.3L2202.0 1939.5L2208.7 1937.8L2215.3 1937.4L2222.0 1938.2L2225.3 1938.7M2157.0 1697.0L2158.2 1698.2L2160.8 1700.8L2163.2 1701.2L2165.8 1699.5L2167.0 1698.7M2441.2 1734.5L2446.2 1732.8L2450.8 1732.4L2454.9 1733.2L2454.5 1735.3L2449.5 1738.7L2444.9 1739.9L2440.8 1739.1L2438.7 1737.8L2438.7 1736.2L2441.2 1734.5M2436.6 1673.2L2442.4 1675.8L2444.9 1677.8L2444.1 1679.5L2441.6 1679.2L2437.4 1677.1L2434.9 1675.0L2434.1 1673.0L2436.6 1673.2M2479.1 1695.8L2483.2 1696.6L2487.8 1699.1L2492.8 1703.2L2492.8 1704.5L2487.8 1702.8L2483.2 1702.4L2479.1 1703.2L2477.0 1701.6L2477.0 1697.4L2479.1 1695.8M2496.2 1701.0L2502.7 1702.3L2509.4 1705.2L2516.4 1709.6L2520.2 1717.3L2521.0 1728.4L2522.0 1735.9L2523.3 1739.7L2522.0 1740.4L2518.2 1737.8L2514.9 1735.9L2512.4 1734.6L2512.7 1733.3L2516.1 1732.0L2517.4 1726.8L2516.6 1717.8L2513.3 1711.6L2507.3 1708.3L2501.5 1705.0L2495.8 1701.9L2496.2 1701.0M2549.8 1735.2L2554.9 1737.8L2560.7 1742.3L2567.2 1748.8L2573.0 1753.9L2578.2 1757.8L2578.8 1761.0L2574.9 1763.6L2572.1 1763.0L2570.3 1759.1L2565.8 1753.9L2558.5 1747.5L2553.0 1741.7L2549.1 1736.5L2549.8 1735.2M2627.4 1751.7L2630.0 1751.2L2631.6 1753.2L2632.1 1757.6L2631.3 1760.4L2629.2 1761.7L2627.7 1759.7L2626.7 1754.6L2627.4 1751.7M2549.8 1803.5L2554.9 1805.3L2560.7 1807.5L2567.2 1810.1L2567.2 1810.7L2560.7 1809.4L2554.9 1807.2L2549.8 1804.1L2549.8 1803.5M2591.1 1794.5L2596.2 1798.8L2600.7 1804.9L2604.6 1812.6L2609.8 1818.4L2616.2 1822.3L2621.6 1826.8L2626.0 1832.0L2625.4 1832.3L2619.7 1827.6L2613.2 1824.4L2606.0 1822.6L2600.9 1817.8L2597.8 1810.1L2594.3 1802.7L2590.4 1795.7L2591.1 1794.5M2662.1 1829.7L2668.1 1830.2L2673.0 1831.5L2676.9 1833.5L2680.7 1833.0L2684.6 1829.9L2687.8 1831.9L2690.4 1838.8L2689.8 1845.5L2685.9 1852.0L2681.4 1858.4L2676.2 1864.9L2675.6 1863.6L2679.4 1854.6L2682.3 1847.5L2684.1 1842.3L2682.8 1839.1L2678.4 1837.8L2673.0 1836.5L2666.5 1835.2L2662.3 1833.3L2660.2 1830.7L2662.1 1829.7M2738.0 1834.1L2745.0 1833.0L2751.7 1833.5L2758.1 1835.6L2758.1 1836.6L2751.7 1836.6L2745.2 1837.2L2738.8 1838.2L2735.3 1837.7L2734.8 1835.6L2738.0 1834.1M2795.7 1859.0L2800.3 1858.2L2802.0 1859.1L2800.7 1861.7L2798.4 1862.1L2795.0 1860.3L2795.7 1859.0M2812.6 1845.5L2817.0 1846.8L2818.6 1848.1L2817.6 1849.4L2815.4 1848.8L2812.1 1846.2L2812.6 1845.5M2729.7 1927.5L2733.6 1922.3L2739.4 1919.1L2747.2 1917.8L2753.0 1915.2L2756.8 1911.3L2759.4 1908.1L2760.7 1905.5L2762.4 1906.2L2764.5 1910.1L2764.7 1915.2L2763.2 1921.7L2759.6 1926.6L2753.9 1929.9L2745.9 1933.1L2735.6 1936.2L2729.7 1935.9L2728.5 1932.0L2729.7 1927.5M2757.7 1888.4L2760.8 1887.6L2763.2 1888.5L2764.7 1891.1L2763.8 1892.9L2760.5 1893.9L2758.1 1893.0L2756.8 1890.2L2757.7 1888.4"/>
<path class="keys" d="M2280.3 1752.0L2272.0 1772.0L2262.0 1785.3L2253.7 1790.3L2238.7 1798.7L2222.0 1803.7L2210.3 1808.7L2200.3 1817.0M2348.7 1903.7L2358.7 1907.0L2367.0 1911.3"/>
<path class="dash" d="M2393.7 1089.3L2385.3 1096.0L2373.7 1103.3M1757.0 1520.7L1760.3 1532.3L1755.3 1545.7M1763.7 1508.3L1782.0 1507.3L1812.0 1504.0L1825.3 1501.3M1885.3 1485.7L1902.0 1482.3M2215.3 1172.3L2262.0 1204.0"/>
<path class="bord" d="M237.3 192.0L251.7 206.3L266.7 218.0L280.0 223.0L293.3 221.3L300.0 213.0L301.7 198.0L308.3 188.0L313.3 179.7M322.7 189.7L363.3 204.0L415.0 220.7L466.7 236.3L543.3 259.7L580.0 268.7L653.3 286.3L738.3 305.7L816.7 321.3L853.3 327.3M849.3 326.7L951.0 343.0L1051.0 357.3L1159.3 365.3L1251.0 370.7L1327.7 374.0L1409.3 374.7L1409.3 374.7L1409.3 351.3L1417.7 353.0L1422.7 364.7L1426.0 383.0L1432.7 389.7L1451.0 394.0L1461.0 398.0L1467.7 402.0L1477.7 398.0L1487.7 395.3L1501.0 397.3L1512.7 403.0L1519.3 411.3L1522.7 415.3L1531.0 413.0L1541.0 417.3L1551.0 424.0L1559.3 427.3L1567.7 424.7L1576.0 418.0L1584.3 417.3L1589.3 422.0L1614.3 421.3L1621.0 425.3L1631.0 426.3L1642.7 424.7M1670.3 396.3L1685.3 404.7L1738.7 429.7L1788.7 452.0L1832.0 471.3L1842.0 479.7L1852.0 489.7L1872.0 498.0L1870.0 502.5L1880.0 512.5L1890.0 520.0L1905.0 526.2L1915.0 535.0L1930.0 542.5L1945.0 551.2L1952.5 560.0L1957.5 575.0L1962.5 590.0L1967.5 605.0L1972.5 620.0L1977.5 635.0L1981.2 650.0L1982.5 665.0L1980.0 677.5L1977.5 685.0L1977.0 715.0L1972.5 720.0L1970.0 730.0L1958.8 735.0L1952.5 745.0L1955.0 755.0L1960.0 762.5L1972.5 766.2L1982.5 757.5L2005.0 742.5L2027.5 727.5L2052.5 717.5L2072.5 710.0L2090.0 700.0L2110.0 687.5L2125.0 677.5L2133.8 671.2L2130.0 665.0L2122.5 660.0L2120.5 645.0L2122.5 640.0L2135.0 630.0L2152.5 622.5L2177.5 615.0L2202.5 608.8L2220.0 602.5L2230.0 592.5L2235.0 580.0L2240.0 565.0L2245.3 544.7L2258.7 524.7L2272.0 508.0L2282.0 501.3L2305.3 493.0L2339.7 486.3L2375.3 473.0L2413.7 463.0L2418.7 444.7L2427.0 439.7L2438.7 424.7L2442.0 408.0L2448.7 394.7L2445.3 378.0L2443.7 358.0L2447.0 338.0L2452.0 314.7L2460.3 291.3L2472.0 293.0L2478.7 301.3L2488.7 298.0L2495.3 291.3M2491.3 288.7L2503.0 284.7L2516.3 288.0L2526.3 294.7L2533.0 318.0L2539.7 338.0L2548.0 358.0L2553.0 371.3L2564.7 369.7L2571.3 378.0L2574.7 388.0L2583.0 394.7L2589.7 393.0M270.7 1227.3L330.0 1239.0L391.7 1249.0L385.0 1260.0L566.7 1375.7L673.3 1394.0L715.0 1402.3L723.3 1375.7L806.7 1387.3L813.3 1390.7L821.7 1404.0L833.3 1417.3L843.3 1427.3L853.3 1437.3M849.3 1437.3L861.0 1450.7L879.3 1464.0L887.7 1475.7L892.7 1494.0L896.0 1510.7L897.7 1524.0L906.0 1537.3L917.7 1550.7L934.3 1562.3L947.7 1570.7L961.0 1580.7L971.0 1581.3L979.3 1574.0L987.7 1567.3L992.7 1554.0L999.3 1542.3L1011.0 1537.3L1022.7 1532.3L1034.3 1537.3L1051.0 1540.0L1069.3 1542.3L1077.7 1552.3L1089.3 1562.3L1099.3 1574.0L1109.3 1585.7L1112.7 1600.7L1119.3 1617.3L1126.0 1634.0L1134.3 1647.3L1144.3 1660.7L1151.0 1674.0M1151.0 1670.3L1162.7 1682.0L1169.3 1692.0L1167.7 1705.3L1171.0 1718.7L1179.3 1732.0L1184.3 1742.0L1186.0 1753.7L1194.3 1762.0L1204.3 1765.3L1214.3 1772.0L1227.7 1778.7L1244.3 1785.3L1264.3 1788.7L1277.7 1795.3L1284.3 1798.7L1291.0 1796.0"/>
<path class="st" d="M248.3 344.7L255.0 349.7L258.3 359.7L256.7 381.3L263.3 388.0L278.3 394.0L293.3 391.3L306.7 394.7L320.0 404.7L336.7 408.0L356.7 410.3L376.7 408.7L393.3 409.7L406.7 411.3L413.3 410.3L498.3 435.3M543.3 259.7L520.0 338.0L499.3 411.3L499.3 435.3L503.3 444.7L510.0 454.7L508.3 468.0L496.7 481.3L485.0 498.0L473.3 511.3L461.7 521.3L460.0 533.0L470.0 541.3L458.3 561.3L453.3 588.0L443.3 621.3L435.0 651.3L428.3 668.0M118.3 569.7L296.7 629.7L428.3 668.0L463.3 678.0M296.7 629.7L286.7 678.0M580.0 268.7L571.7 298.0L565.0 326.3L571.7 361.3L580.0 378.0L590.0 396.3L596.7 414.7L613.3 424.7L605.0 444.7L598.3 468.0L590.0 481.3L595.0 491.3L606.7 489.7L615.0 483.0L620.0 491.3L621.7 511.3L626.7 534.7L630.0 544.7L638.3 548.0L641.7 571.3L650.0 568.0L660.0 571.3L670.0 567.3L683.3 571.3L703.3 574.7L708.3 566.3L715.0 566.3L720.0 576.3M726.7 554.7L721.7 576.3L713.3 628.0L705.0 678.0M726.7 554.7L733.3 554.0L853.3 573.3M633.3 181.3L645.0 188.0L648.3 201.3L648.3 221.3L646.7 234.7L640.0 248.0L645.0 254.7L646.7 266.3L655.0 274.7L656.7 286.3M843.3 176.3L816.7 321.3M1409.3 374.7L1409.3 351.3L1417.7 353.0L1422.7 364.7L1426.0 383.0L1432.7 389.7L1451.0 394.0L1461.0 398.0L1467.7 402.0L1477.7 398.0L1487.7 395.3L1501.0 397.3L1512.7 403.0L1519.3 411.3L1522.7 415.3L1531.0 413.0L1541.0 417.3L1551.0 424.0L1559.3 427.3L1567.7 424.7L1576.0 418.0L1584.3 417.3L1589.3 422.0L1614.3 421.3L1621.0 425.3L1631.0 426.3L1642.7 424.7M1054.3 358.0L1036.0 539.7L1027.7 598.0L1019.3 678.0M1036.0 539.7L1114.3 548.7L1217.7 555.7L1284.3 558.0L1347.7 559.7M849.3 573.3L951.0 587.3L1027.7 597.3M1327.7 374.7L1329.3 394.7L1329.3 418.0L1334.3 441.3L1339.3 461.3L1340.3 484.7L1341.0 511.3L1344.3 528.0L1350.3 539.7L1351.0 559.7L1347.7 569.7L1337.7 576.3L1342.7 588.0L1354.3 596.3L1354.3 678.0M1587.7 491.3L1537.7 503.0L1530.3 514.7L1531.0 544.7L1521.0 554.7L1509.3 564.7L1506.0 578.0L1514.3 591.3L1512.7 626.3L1517.7 636.3L1531.0 641.3L1547.7 651.3L1561.0 664.7L1577.7 678.0M1587.7 511.3L1611.0 518.0L1624.3 528.0L1674.3 539.7M2008.7 193.0L2015.3 228.0L2025.3 278.0L2035.3 324.7L2043.7 364.7L2050.3 401.3L2060.3 423.0L2075.3 441.3L2092.0 458.0L2115.3 461.3L2145.3 461.3L2158.7 468.0L2172.0 478.0L2182.0 471.3L2192.0 484.7L2205.3 491.3L2225.3 488.0L2245.3 476.3L2265.3 464.7L2282.0 463.0L2287.0 471.3L2287.0 481.3M2495.3 244.7L2488.7 254.7L2490.3 271.3L2495.3 276.3M2339.7 486.3L2345.3 508.0L2352.0 531.3L2358.7 554.7L2367.0 569.7L2373.7 588.0L2382.0 614.7M2413.7 463.0L2418.7 478.0L2422.0 488.0L2413.7 499.7L2407.0 509.7L2405.3 531.3L2403.7 554.7L2405.3 578.0L2410.3 606.3M2427.0 439.7L2438.7 464.7L2455.3 511.3L2472.0 548.0L2478.7 558.0L2485.3 564.7M2382.0 614.7L2410.3 606.3L2465.3 594.7L2482.0 586.3M2382.0 614.7L2379.3 644.7L2383.7 678.0M2383.7 658.0L2448.7 643.0L2478.7 634.7L2485.3 644.7L2488.7 658.0M2453.7 641.3L2458.7 658.0L2463.7 678.0M1672.4 540.2L1687.4 542.5L1704.1 544.2L1717.5 554.2L1727.6 571.0L1734.3 594.4L1739.3 597.7L1741.0 607.8L1727.6 621.2L1720.9 627.9M2491.3 244.7L2506.3 239.7L2523.0 241.3L2536.3 234.7L2546.3 223.0M2693.0 299.7L2689.7 309.7M286.7 674.3L243.3 806.0L431.7 1111.0L435.0 1126.0L438.3 1146.0L446.7 1156.0L441.7 1166.0L431.7 1176.0M431.7 1111.0L435.0 1092.7L440.0 1072.7L443.3 1049.3L450.0 1044.3L460.0 1046.0L466.7 1056.0L478.3 1046.0L491.7 1001.0L560.0 706.0M446.7 674.3L560.0 706.0L690.0 729.3M704.0 674.3L690.0 729.3L681.7 791.0L771.7 814.3L853.3 820.3M491.7 1001.0L730.0 1047.7L853.3 1066.3M771.7 814.3L730.0 1047.7L710.0 1176.0M1019.3 674.3L1014.3 719.3L1001.0 839.3M1014.3 719.3L1131.0 729.3L1217.7 735.3L1262.7 736.7L1274.3 744.3L1284.3 747.7L1294.3 745.3L1311.0 745.3L1324.3 752.7L1337.7 757.7L1347.7 766.0M1354.3 674.3L1353.7 707.7L1347.7 711.0L1349.3 722.7L1352.7 732.7L1347.7 746.0L1344.3 757.7L1347.7 766.0L1354.3 772.7L1357.7 786.0L1364.3 796.0L1367.7 809.3L1369.3 826.0L1376.0 832.7L1379.3 849.3L1379.3 876.0L1384.3 886.0L1387.7 899.3L1396.0 906.0L1399.3 921.0L1414.3 929.3L1422.7 932.7L1416.0 942.7L1416.0 952.7L1424.3 964.3L1431.0 971.0L1437.7 976.0L1438.7 1106.0L1439.3 1137.7L1446.0 1176.0M1349.3 708.3L1451.0 708.3L1581.0 704.3M1384.3 886.0L1451.0 884.3L1517.7 882.0L1567.7 879.3L1576.0 886.0L1582.7 892.7M1579.3 674.3L1582.7 692.7L1584.3 707.7L1589.3 716.0L1589.3 732.7L1592.7 746.0L1607.7 752.7L1614.3 763.3L1624.3 772.7L1637.7 786.0L1639.3 796.0L1634.3 809.3L1627.7 819.3L1604.3 829.3L1599.3 836.0L1604.3 852.7L1601.0 866.0L1592.7 879.3L1584.3 892.7L1582.7 909.3L1586.0 926.0L1592.7 936.0L1611.0 951.0L1621.0 962.7L1627.7 976.0L1632.7 981.0L1644.3 979.3L1651.0 986.0L1647.7 999.3L1642.7 1016.0L1647.7 1026.0L1657.7 1034.3L1674.3 1042.7M1614.3 763.3L1674.3 757.7M1089.3 909.3L1184.3 916.0L1284.3 921.0L1399.3 922.0M1094.3 849.3L1089.3 909.3L1074.3 1092.0M849.3 820.0L1001.0 839.3L1094.3 849.3M849.3 1066.7L951.0 1081.0L1027.7 1089.3L1074.3 1092.0L1151.0 1097.7L1251.0 1103.3L1351.0 1105.3L1438.7 1106.0M1027.7 1089.3L1024.3 1119.3L1016.0 1176.0M1024.3 1119.3L1171.0 1130.0L1169.3 1176.0M1439.3 1137.7L1551.0 1132.7L1657.7 1127.7L1666.0 1137.7L1657.7 1152.7L1651.0 1167.7L1674.3 1166.0M1670.3 757.7L1742.0 753.3M1760.3 799.3L1763.7 842.7L1768.7 909.3L1772.0 936.0L1768.7 952.7L1775.3 966.0L1777.0 976.0L1772.0 992.7L1760.3 1007.7L1757.0 1022.7L1758.7 1039.3M1882.7 782.0L1892.0 862.7L1902.0 941.0M1793.7 791.0L1882.7 782.0L1938.7 773.7L1948.7 771.0M2072.0 737.7L2083.7 822.7L2097.0 872.7M2105.3 726.0L2112.0 727.7L2205.3 707.7L2295.3 687.7L2305.3 687.7L2313.7 694.3L2320.3 706.0L2335.3 712.7L2373.7 726.0M2335.3 712.7L2333.7 726.0L2327.0 741.0L2330.3 756.0L2333.7 766.0L2345.3 776.0L2355.3 787.7L2345.3 799.3L2338.7 804.3M2097.0 872.7L2145.3 862.7L2205.3 851.0L2272.0 836.0L2325.3 814.3L2320.3 826.0L2322.0 836.0M2320.3 832.7L2337.0 896.0L2367.0 892.7M2145.3 862.7L2150.3 889.3L2162.0 881.0L2175.3 867.7L2192.0 864.3L2202.0 867.7L2205.3 856.0L2218.7 852.7L2227.0 862.7L2232.0 879.3L2232.0 867.7L2245.3 871.0L2258.7 879.3L2272.0 886.0M2202.0 867.7L2202.0 882.7L2195.3 897.7L2178.7 914.3L2172.0 936.0L2155.3 932.7L2148.7 956.0L2138.7 982.7L2132.0 1006.0L2108.7 1016.0L2088.7 1026.0L2073.7 1034.3L2058.7 1029.3L2048.7 1016.0M2083.7 822.7L2087.0 842.7L2083.7 876.0L2072.0 889.3L2058.7 902.7L2048.7 914.3L2042.0 932.7L2032.0 939.3L2030.3 956.0L2018.7 969.3L2015.3 986.0L2025.3 999.3L2038.7 1012.7L2048.7 1016.0M1902.0 941.0L1918.7 941.0L1932.0 952.7L1948.7 956.0L1962.0 961.0L1978.7 961.0L1995.3 952.7L2005.3 961.0L2015.3 969.3M1902.0 941.0L1905.3 959.3L1888.7 969.3L1878.7 969.3L1875.3 982.7L1865.3 996.0L1857.0 1016.0L1847.0 1017.7L1838.7 1007.7L1828.7 1012.7L1825.3 1026.0L1815.3 1022.7L1802.0 1032.7L1785.3 1027.7L1772.0 1034.3L1758.7 1039.3L1753.7 1056.0L1738.7 1066.0L1737.0 1076.0L1740.3 1084.3L1727.0 1081.0L1712.0 1081.0L1707.0 1091.0M1670.3 1042.7L1683.7 1052.7L1690.3 1069.3L1688.7 1082.7L1698.7 1092.7L1707.0 1091.0L1710.3 1101.0L1705.3 1119.3L1695.3 1122.7L1692.0 1136.0L1683.7 1156.0L1677.0 1176.0M1705.3 1122.7L1758.7 1119.3L1763.7 1109.3L1872.0 1097.7L1980.3 1086.0L2077.0 1071.0M1980.3 1086.0L2005.3 1066.0L2025.3 1042.7L2048.7 1022.7M2077.0 1071.0L2172.0 1052.7L2272.0 1032.7L2352.0 1016.0M2077.0 1071.0L2077.0 1082.7L2062.0 1101.0L2042.0 1116.0L2018.7 1126.0L2002.0 1141.0L1982.0 1152.7L1970.3 1166.0L1965.3 1176.0M2035.3 1176.0L2055.3 1161.0L2122.0 1153.3L2138.7 1167.7L2195.3 1161.7L2218.7 1176.0M2382.7 673.7L2388.4 691.9L2394.8 706.7L2389.5 721.4M270.7 1227.3L330.0 1239.0L391.7 1249.0L385.0 1260.0L566.7 1375.7L673.3 1394.0L715.0 1402.3L723.3 1375.7L806.7 1387.3L813.3 1390.7L821.7 1404.0L833.3 1417.3L843.3 1427.3L853.3 1437.3M426.7 1172.3L421.7 1187.3L418.3 1199.0L410.0 1207.3L401.7 1212.3L401.7 1224.0L410.0 1234.0L403.3 1249.0L391.7 1250.0M710.0 1172.3L673.3 1394.0M806.7 1387.3L810.0 1382.3L803.3 1374.0L853.3 1378.0M849.3 1437.3L861.0 1450.7L879.3 1464.0L887.7 1475.7L892.7 1494.0L896.0 1510.7L897.7 1524.0L906.0 1537.3L917.7 1550.7L934.3 1562.3L947.7 1570.7L961.0 1580.7L971.0 1581.3L979.3 1574.0L987.7 1567.3L992.7 1554.0L999.3 1542.3L1011.0 1537.3L1022.7 1532.3L1034.3 1537.3L1051.0 1540.0L1069.3 1542.3L1077.7 1552.3L1089.3 1562.3L1099.3 1574.0L1109.3 1585.7L1112.7 1600.7L1119.3 1617.3L1126.0 1634.0L1134.3 1647.3L1144.3 1660.7L1151.0 1674.0M1016.7 1172.3L1004.3 1284.0L992.7 1395.7M849.3 1378.0L917.7 1387.3L992.7 1395.7M1169.3 1172.3L1166.0 1245.7L1176.0 1255.7L1184.3 1260.7L1194.3 1260.7L1199.3 1257.3L1204.3 1262.3L1206.0 1272.3L1217.7 1274.0L1227.7 1277.3L1236.0 1277.3L1242.7 1282.3L1251.0 1280.0L1261.0 1280.0L1264.3 1287.3L1269.3 1292.3L1274.3 1296.7L1284.3 1290.7L1294.3 1296.7L1304.3 1299.0L1312.7 1305.7L1317.7 1294.0L1326.0 1297.3L1336.0 1296.7L1344.3 1302.3L1352.7 1308.0L1364.3 1300.7L1377.7 1298.0L1389.3 1293.3L1401.0 1298.0L1411.0 1293.3L1424.3 1301.3L1434.3 1307.3L1447.7 1310.7L1457.7 1315.7L1471.0 1317.3L1472.7 1350.7L1472.7 1407.3L1473.7 1414.0L1482.7 1424.0L1487.7 1440.7L1496.0 1454.0L1501.0 1470.7L1497.7 1490.7L1492.7 1507.3L1492.7 1527.3L1489.3 1539.0L1482.7 1552.3M1444.3 1172.3L1449.3 1200.7L1449.3 1240.7L1447.7 1310.7M1472.7 1350.7L1551.0 1348.3L1622.7 1345.7M1674.3 1190.7L1667.7 1210.7L1662.7 1220.7L1651.0 1234.0L1646.0 1254.0L1634.3 1267.3L1627.7 1284.0L1617.7 1304.0L1621.0 1320.7L1624.3 1340.7L1622.7 1345.7L1624.3 1360.7L1627.7 1377.3L1636.0 1387.3L1631.0 1400.7L1621.0 1414.0L1612.7 1427.3L1607.7 1444.0L1604.3 1460.7L1602.7 1472.3L1674.3 1468.0M1662.7 1219.0L1674.3 1219.0M1670.3 1218.0L1768.7 1210.0L1893.7 1197.3L2020.3 1180.7L2038.7 1172.3M1962.0 1172.3L1961.3 1186.7M2020.3 1180.7L2012.0 1194.0L2015.3 1202.3L2028.7 1209.0L2040.3 1212.3L2048.7 1224.0L2058.7 1235.7L2072.0 1244.0L2082.0 1254.0L2095.3 1262.3L2102.0 1272.3L2112.0 1280.7L2122.0 1285.7L2128.7 1297.3L2133.7 1309.0L2145.3 1315.7L2152.0 1327.3L2155.3 1337.3L2163.7 1340.7M1768.7 1210.0L1772.0 1257.3L1768.7 1340.7L1768.7 1407.3L1773.7 1440.7L1778.7 1474.0L1780.3 1495.7M1893.7 1197.3L1905.3 1240.7L1922.0 1290.7L1935.3 1324.0L1948.7 1350.7L1953.7 1360.7L1947.0 1374.0L1945.3 1387.3L1950.3 1404.0L1952.0 1420.7L1957.0 1437.3L1958.7 1440.7M1832.0 1490.7L1833.7 1480.7L1828.7 1472.3L1820.3 1464.0L1822.0 1455.7L1888.7 1449.0L1958.7 1440.0L1968.7 1456.7L2038.7 1450.7L2118.7 1444.7L2115.3 1455.7L2122.0 1450.7L2123.7 1437.3L2120.3 1430.7L2132.0 1427.3L2147.0 1428.0M1670.3 1468.0L1703.7 1466.7L1705.3 1475.7L1701.3 1485.7L1705.3 1495.7L1713.7 1504.0L1717.0 1514.0M1151.0 1670.3L1162.7 1682.0L1169.3 1692.0L1167.7 1705.3L1171.0 1718.7L1179.3 1732.0L1184.3 1742.0L1186.0 1753.7L1194.3 1762.0L1204.3 1765.3L1214.3 1772.0L1227.7 1778.7L1244.3 1785.3L1264.3 1788.7L1277.7 1795.3L1284.3 1798.7L1291.0 1796.0"/>
<path class="st" d="M1642.7 424.7L1627.7 431.3L1597.7 448.0L1581.0 461.3L1557.7 484.7L1537.7 503.0M1541.0 508.0L1551.0 509.7L1567.7 499.7L1589.3 493.0L1604.3 488.0L1601.0 501.3L1587.7 511.3M1587.7 511.3L1607.7 514.7L1627.7 503.0L1651.0 494.7L1661.0 488.0L1674.3 478.0M1865.0 495.0L1880.0 501.2L1902.5 503.8L1925.0 503.8L1945.0 500.0L1967.5 498.8L1982.5 501.2L2000.0 502.5L2017.5 505.0L2026.2 513.8L2037.5 523.8L2050.0 530.0L2057.5 540.0L2062.5 550.0L2076.2 560.0L2075.0 565.0L2065.0 562.5L2057.5 566.2L2065.0 575.0L2063.8 582.5L2050.0 582.5L2037.5 578.8L2026.2 581.2L2022.5 573.8L2015.0 573.8L2012.5 565.0L2003.8 557.5L2002.5 548.8L1993.8 548.8L1985.0 552.5L1993.8 557.5L2002.5 567.5L2010.0 580.0L2007.5 592.5L2001.2 605.0L1997.5 620.0L1998.8 635.0L2002.5 650.0L2003.8 660.0L1998.8 670.0L1990.0 680.0L1985.0 686.2L1977.5 683.8M1952.5 755.0L1958.8 752.5L1967.5 753.8L1977.5 755.0L1983.8 748.8L1990.0 742.5L1997.5 735.0L2005.0 727.5L2012.5 720.0L2020.0 711.2L2026.2 705.0L2035.0 701.2L2045.0 700.0L2055.0 701.2L2065.0 701.2L2072.5 696.2L2080.0 690.0L2090.0 683.8L2100.0 678.8L2110.0 675.0L2120.0 671.2L2130.0 670.0L2136.2 672.5M2120.5 652.5L2110.0 655.0L2095.0 655.0L2090.0 650.0L2091.2 646.2L2093.8 637.5L2100.0 630.0L2107.5 622.5L2115.0 615.0L2125.0 610.0L2137.5 603.8L2152.5 597.5L2165.0 592.5L2175.0 587.5L2180.0 580.0L2190.0 575.0L2200.0 572.5L2210.0 568.8L2220.0 565.0L2230.0 562.5L2240.0 555.0M1940.0 517.5L1955.0 512.5L1970.0 511.2L1977.5 517.5L1982.5 526.2L1977.5 533.8L1967.5 531.2L1955.0 527.5L1945.0 525.0L1940.0 521.2L1940.0 517.5M1638.6 425.6L1645.4 418.1L1648.4 407.6L1651.4 396.3L1660.4 391.1L1666.4 391.8L1671.7 388.8L1675.4 379.8L1679.2 370.8L1685.2 361.8L1695.7 360.3L1706.2 364.0L1716.7 367.0L1727.2 369.3L1737.7 368.5L1748.2 366.7L1758.7 367.8L1765.5 375.3L1770.0 385.0L1774.5 394.8L1780.5 403.8L1788.8 410.6L1799.3 413.3L1810.5 411.0L1821.8 409.4L1830.8 410.6L1827.1 421.8L1827.1 431.6L1836.1 437.6L1845.1 444.4L1842.1 455.6L1840.6 465.4L1849.6 467.6L1858.6 472.1L1856.3 480.4L1850.3 481.1L1853.3 490.2L1859.3 493.2M1836.8 496.9L1833.1 488.6L1832.3 480.4L1822.6 483.4L1812.0 487.9L1800.8 488.6L1790.3 491.7L1780.5 496.2L1772.3 502.2L1764.0 506.7L1754.2 506.7L1743.7 506.7L1734.7 503.7L1728.0 496.2L1720.5 488.6L1709.9 485.6L1698.7 484.9L1691.2 493.2L1688.2 486.4L1686.7 478.1L1692.7 475.9L1698.7 467.6L1706.2 459.4L1713.7 454.1L1715.2 451.1L1703.9 451.1L1692.7 455.6L1685.2 463.1L1677.7 469.1L1670.9 476.6L1663.4 484.1L1654.4 490.2L1644.6 494.7L1634.1 497.7L1625.1 505.2L1616.1 510.4L1610.1 515.7M1765.0 572.5L1757.5 587.5L1750.0 605.0L1745.0 620.0L1743.8 640.0L1740.0 655.0L1736.2 675.0L1735.0 695.0L1732.5 710.0L1736.2 725.0L1741.2 740.0L1741.2 755.0L1743.8 770.0L1750.0 782.5L1757.5 795.0L1765.0 802.5L1776.2 801.2L1787.5 792.5L1797.5 780.0L1806.2 765.0L1811.2 750.0L1812.5 735.0L1810.0 720.0L1803.8 706.2L1796.2 692.5L1791.2 677.5L1790.0 655.0L1793.8 640.0L1797.5 627.5L1796.2 615.0L1802.5 600.0L1815.0 591.2L1826.2 595.0L1830.0 580.0L1840.0 562.5L1845.0 542.5L1830.0 530.0L1815.0 526.2L1800.0 532.5L1785.0 542.5L1772.5 547.5L1762.5 542.5L1755.0 547.5M1765.0 572.5L1760.0 575.0L1752.5 590.0L1743.8 610.0L1730.0 620.0L1722.5 630.0M1746.2 615.0L1752.5 600.0L1760.0 585.0L1765.0 572.5M1850.0 537.5L1865.0 542.5L1882.5 551.2L1902.5 555.0L1913.8 561.2L1916.2 573.8L1918.8 585.0L1923.8 597.5L1925.0 612.5L1916.2 623.8L1915.0 632.5L1907.5 640.0L1902.5 652.5L1907.5 660.0L1920.0 656.2L1927.5 642.5L1937.5 632.5L1947.5 631.2L1957.5 638.8L1965.0 655.0L1970.0 670.0L1977.5 683.8M1950.0 762.5L1957.5 770.0L1965.0 787.5L1977.5 783.8L1990.0 787.5L2005.0 778.8L2025.0 775.0L2040.0 757.5L2057.5 745.0L2080.0 732.5L2095.0 720.0L2110.0 710.0L2122.5 692.5L2132.5 677.5M2120.5 640.0L2140.0 635.0L2165.0 632.5L2190.0 631.2L2215.0 625.0L2230.0 612.5L2241.2 602.5L2237.5 585.0L2240.0 565.0"/>
<path class="st2" d="M322.7 189.7L363.3 204.0L415.0 220.7L466.7 236.3L543.3 259.7L580.0 268.7L653.3 286.3L738.3 305.7L816.7 321.3L853.3 327.3M849.3 326.7L951.0 343.0L1051.0 357.3L1159.3 365.3L1251.0 370.7L1327.7 374.0L1409.3 374.7M1408.7 176.3L1408.7 374.7M1163.3 176.3L1158.7 363.0M2245.3 544.7L2258.7 524.7L2272.0 508.0L2282.0 501.3L2305.3 493.0L2339.7 486.3L2375.3 473.0L2413.7 463.0L2418.7 444.7L2427.0 439.7L2438.7 424.7L2442.0 408.0L2448.7 394.7L2445.3 378.0L2443.7 358.0L2447.0 338.0L2452.0 314.7L2460.3 291.3L2472.0 293.0L2478.7 301.3L2488.7 298.0L2495.3 291.3M2491.3 288.7L2503.0 284.7L2516.3 288.0L2526.3 294.7L2533.0 318.0L2539.7 338.0L2548.0 358.0L2553.0 371.3L2564.7 369.7L2571.3 378.0L2574.7 388.0L2583.0 394.7L2589.7 393.0"/>
<path class="st" stroke-dashoffset="2.2" d="M296.7 629.7L286.7 678.0M580.0 268.7L571.7 298.0L565.0 326.3L571.7 361.3L580.0 378.0L590.0 396.3L596.7 414.7L613.3 424.7L605.0 444.7L598.3 468.0L590.0 481.3L595.0 491.3L606.7 489.7L615.0 483.0L620.0 491.3L621.7 511.3L626.7 534.7L630.0 544.7L638.3 548.0L641.7 571.3L650.0 568.0L660.0 571.3L670.0 567.3L683.3 571.3L703.3 574.7L708.3 566.3L715.0 566.3L720.0 576.3M726.7 554.7L733.3 554.0L853.3 573.3M1409.3 374.7L1409.3 351.3L1417.7 353.0L1422.7 364.7L1426.0 383.0L1432.7 389.7L1451.0 394.0L1461.0 398.0L1467.7 402.0L1477.7 398.0L1487.7 395.3L1501.0 397.3L1512.7 403.0L1519.3 411.3L1522.7 415.3L1531.0 413.0L1541.0 417.3L1551.0 424.0L1559.3 427.3L1567.7 424.7L1576.0 418.0L1584.3 417.3L1589.3 422.0L1614.3 421.3L1621.0 425.3L1631.0 426.3L1642.7 424.7M849.3 573.3L951.0 587.3L1027.7 597.3M1327.7 374.7L1329.3 394.7L1329.3 418.0L1334.3 441.3L1339.3 461.3L1340.3 484.7L1341.0 511.3L1344.3 528.0L1350.3 539.7L1351.0 559.7L1347.7 569.7L1337.7 576.3L1342.7 588.0L1354.3 596.3L1354.3 678.0M2008.7 193.0L2015.3 228.0L2025.3 278.0L2035.3 324.7L2043.7 364.7L2050.3 401.3L2060.3 423.0L2075.3 441.3L2092.0 458.0L2115.3 461.3L2145.3 461.3L2158.7 468.0L2172.0 478.0L2182.0 471.3L2192.0 484.7L2205.3 491.3L2225.3 488.0L2245.3 476.3L2265.3 464.7L2282.0 463.0L2287.0 471.3L2287.0 481.3M2339.7 486.3L2345.3 508.0L2352.0 531.3L2358.7 554.7L2367.0 569.7L2373.7 588.0L2382.0 614.7M2382.0 614.7L2410.3 606.3L2465.3 594.7L2482.0 586.3M2383.7 658.0L2448.7 643.0L2478.7 634.7L2485.3 644.7L2488.7 658.0M2491.3 244.7L2506.3 239.7L2523.0 241.3L2536.3 234.7L2546.3 223.0M446.7 674.3L560.0 706.0L690.0 729.3M491.7 1001.0L730.0 1047.7L853.3 1066.3M1579.3 674.3L1582.7 692.7L1584.3 707.7L1589.3 716.0L1589.3 732.7L1592.7 746.0L1607.7 752.7L1614.3 763.3L1624.3 772.7L1637.7 786.0L1639.3 796.0L1634.3 809.3L1627.7 819.3L1604.3 829.3L1599.3 836.0L1604.3 852.7L1601.0 866.0L1592.7 879.3L1584.3 892.7L1582.7 909.3L1586.0 926.0L1592.7 936.0L1611.0 951.0L1621.0 962.7L1627.7 976.0L1632.7 981.0L1644.3 979.3L1651.0 986.0L1647.7 999.3L1642.7 1016.0L1647.7 1026.0L1657.7 1034.3L1674.3 1042.7M849.3 1066.7L951.0 1081.0L1027.7 1089.3L1074.3 1092.0L1151.0 1097.7L1251.0 1103.3L1351.0 1105.3L1438.7 1106.0M1760.3 799.3L1763.7 842.7L1768.7 909.3L1772.0 936.0L1768.7 952.7L1775.3 966.0L1777.0 976.0L1772.0 992.7L1760.3 1007.7L1757.0 1022.7L1758.7 1039.3M1793.7 791.0L1882.7 782.0L1938.7 773.7L1948.7 771.0M2105.3 726.0L2112.0 727.7L2205.3 707.7L2295.3 687.7L2305.3 687.7L2313.7 694.3L2320.3 706.0L2335.3 712.7L2373.7 726.0M2382.7 673.7L2388.4 691.9L2394.8 706.7L2389.5 721.4M1444.3 1172.3L1449.3 1200.7L1449.3 1240.7L1447.7 1310.7M1472.7 1350.7L1551.0 1348.3L1622.7 1345.7M1832.0 1490.7L1833.7 1480.7L1828.7 1472.3L1820.3 1464.0L1822.0 1455.7L1888.7 1449.0L1958.7 1440.0L1968.7 1456.7L2038.7 1450.7L2118.7 1444.7L2115.3 1455.7L2122.0 1450.7L2123.7 1437.3L2120.3 1430.7L2132.0 1427.3L2147.0 1428.0M1670.3 1468.0L1703.7 1466.7L1705.3 1475.7L1701.3 1485.7L1705.3 1495.7L1713.7 1504.0L1717.0 1514.0"/>
<path class="st" stroke-dashoffset="3.6" d="M543.3 259.7L520.0 338.0L499.3 411.3L499.3 435.3L503.3 444.7L510.0 454.7L508.3 468.0L496.7 481.3L485.0 498.0L473.3 511.3L461.7 521.3L460.0 533.0L470.0 541.3L458.3 561.3L453.3 588.0L443.3 621.3L435.0 651.3L428.3 668.0M1036.0 539.7L1114.3 548.7L1217.7 555.7L1284.3 558.0L1347.7 559.7M2495.3 244.7L2488.7 254.7L2490.3 271.3L2495.3 276.3M2453.7 641.3L2458.7 658.0L2463.7 678.0M704.0 674.3L690.0 729.3L681.7 791.0L771.7 814.3L853.3 820.3M1019.3 674.3L1014.3 719.3L1001.0 839.3M1349.3 708.3L1451.0 708.3L1581.0 704.3M849.3 820.0L1001.0 839.3L1094.3 849.3M1439.3 1137.7L1551.0 1132.7L1657.7 1127.7L1666.0 1137.7L1657.7 1152.7L1651.0 1167.7L1674.3 1166.0M2097.0 872.7L2145.3 862.7L2205.3 851.0L2272.0 836.0L2325.3 814.3L2320.3 826.0L2322.0 836.0M2077.0 1071.0L2172.0 1052.7L2272.0 1032.7L2352.0 1016.0M2077.0 1071.0L2077.0 1082.7L2062.0 1101.0L2042.0 1116.0L2018.7 1126.0L2002.0 1141.0L1982.0 1152.7L1970.3 1166.0L1965.3 1176.0M2035.3 1176.0L2055.3 1161.0L2122.0 1153.3L2138.7 1167.7L2195.3 1161.7L2218.7 1176.0M1670.3 1218.0L1768.7 1210.0L1893.7 1197.3L2020.3 1180.7L2038.7 1172.3M2020.3 1180.7L2012.0 1194.0L2015.3 1202.3L2028.7 1209.0L2040.3 1212.3L2048.7 1224.0L2058.7 1235.7L2072.0 1244.0L2082.0 1254.0L2095.3 1262.3L2102.0 1272.3L2112.0 1280.7L2122.0 1285.7L2128.7 1297.3L2133.7 1309.0L2145.3 1315.7L2152.0 1327.3L2155.3 1337.3L2163.7 1340.7"/>
<path class="st" stroke-dashoffset="5.0" d="M248.3 344.7L255.0 349.7L258.3 359.7L256.7 381.3L263.3 388.0L278.3 394.0L293.3 391.3L306.7 394.7L320.0 404.7L336.7 408.0L356.7 410.3L376.7 408.7L393.3 409.7L406.7 411.3L413.3 410.3L498.3 435.3M633.3 181.3L645.0 188.0L648.3 201.3L648.3 221.3L646.7 234.7L640.0 248.0L645.0 254.7L646.7 266.3L655.0 274.7L656.7 286.3M1014.3 719.3L1131.0 729.3L1217.7 735.3L1262.7 736.7L1274.3 744.3L1284.3 747.7L1294.3 745.3L1311.0 745.3L1324.3 752.7L1337.7 757.7L1347.7 766.0M1089.3 909.3L1184.3 916.0L1284.3 921.0L1399.3 922.0M1670.3 757.7L1742.0 753.3M2083.7 822.7L2087.0 842.7L2083.7 876.0L2072.0 889.3L2058.7 902.7L2048.7 914.3L2042.0 932.7L2032.0 939.3L2030.3 956.0L2018.7 969.3L2015.3 986.0L2025.3 999.3L2038.7 1012.7L2048.7 1016.0M1705.3 1122.7L1758.7 1119.3L1763.7 1109.3L1872.0 1097.7L1980.3 1086.0L2077.0 1071.0M1980.3 1086.0L2005.3 1066.0L2025.3 1042.7L2048.7 1022.7M426.7 1172.3L421.7 1187.3L418.3 1199.0L410.0 1207.3L401.7 1212.3L401.7 1224.0L410.0 1234.0L403.3 1249.0L391.7 1250.0M849.3 1437.3L861.0 1450.7L879.3 1464.0L887.7 1475.7L892.7 1494.0L896.0 1510.7L897.7 1524.0L906.0 1537.3L917.7 1550.7L934.3 1562.3L947.7 1570.7L961.0 1580.7L971.0 1581.3L979.3 1574.0L987.7 1567.3L992.7 1554.0L999.3 1542.3L1011.0 1537.3L1022.7 1532.3L1034.3 1537.3L1051.0 1540.0L1069.3 1542.3L1077.7 1552.3L1089.3 1562.3L1099.3 1574.0L1109.3 1585.7L1112.7 1600.7L1119.3 1617.3L1126.0 1634.0L1134.3 1647.3L1144.3 1660.7L1151.0 1674.0M849.3 1378.0L917.7 1387.3L992.7 1395.7M1962.0 1172.3L1961.3 1186.7"/>
<path class="st" stroke-dashoffset="6.4" d="M118.3 569.7L296.7 629.7L428.3 668.0L463.3 678.0M1587.7 491.3L1537.7 503.0L1530.3 514.7L1531.0 544.7L1521.0 554.7L1509.3 564.7L1506.0 578.0L1514.3 591.3L1512.7 626.3L1517.7 636.3L1531.0 641.3L1547.7 651.3L1561.0 664.7L1577.7 678.0M1587.7 511.3L1611.0 518.0L1624.3 528.0L1674.3 539.7M2427.0 439.7L2438.7 464.7L2455.3 511.3L2472.0 548.0L2478.7 558.0L2485.3 564.7M431.7 1111.0L435.0 1092.7L440.0 1072.7L443.3 1049.3L450.0 1044.3L460.0 1046.0L466.7 1056.0L478.3 1046.0L491.7 1001.0L560.0 706.0M1354.3 674.3L1353.7 707.7L1347.7 711.0L1349.3 722.7L1352.7 732.7L1347.7 746.0L1344.3 757.7L1347.7 766.0L1354.3 772.7L1357.7 786.0L1364.3 796.0L1367.7 809.3L1369.3 826.0L1376.0 832.7L1379.3 849.3L1379.3 876.0L1384.3 886.0L1387.7 899.3L1396.0 906.0L1399.3 921.0L1414.3 929.3L1422.7 932.7L1416.0 942.7L1416.0 952.7L1424.3 964.3L1431.0 971.0L1437.7 976.0L1438.7 1106.0L1439.3 1137.7L1446.0 1176.0M2320.3 832.7L2337.0 896.0L2367.0 892.7M2202.0 867.7L2202.0 882.7L2195.3 897.7L2178.7 914.3L2172.0 936.0L2155.3 932.7L2148.7 956.0L2138.7 982.7L2132.0 1006.0L2108.7 1016.0L2088.7 1026.0L2073.7 1034.3L2058.7 1029.3L2048.7 1016.0M1902.0 941.0L1918.7 941.0L1932.0 952.7L1948.7 956.0L1962.0 961.0L1978.7 961.0L1995.3 952.7L2005.3 961.0L2015.3 969.3M1670.3 1042.7L1683.7 1052.7L1690.3 1069.3L1688.7 1082.7L1698.7 1092.7L1707.0 1091.0L1710.3 1101.0L1705.3 1119.3L1695.3 1122.7L1692.0 1136.0L1683.7 1156.0L1677.0 1176.0M806.7 1387.3L810.0 1382.3L803.3 1374.0L853.3 1378.0M1016.7 1172.3L1004.3 1284.0L992.7 1395.7M1662.7 1219.0L1674.3 1219.0M1768.7 1210.0L1772.0 1257.3L1768.7 1340.7L1768.7 1407.3L1773.7 1440.7L1778.7 1474.0L1780.3 1495.7M1893.7 1197.3L1905.3 1240.7L1922.0 1290.7L1935.3 1324.0L1948.7 1350.7L1953.7 1360.7L1947.0 1374.0L1945.3 1387.3L1950.3 1404.0L1952.0 1420.7L1957.0 1437.3L1958.7 1440.7"/>
<path class="st" stroke-dashoffset="7.8" d="M726.7 554.7L721.7 576.3L713.3 628.0L705.0 678.0M843.3 176.3L816.7 321.3M1054.3 358.0L1036.0 539.7L1027.7 598.0L1019.3 678.0M2413.7 463.0L2418.7 478.0L2422.0 488.0L2413.7 499.7L2407.0 509.7L2405.3 531.3L2403.7 554.7L2405.3 578.0L2410.3 606.3M2382.0 614.7L2379.3 644.7L2383.7 678.0M1672.4 540.2L1687.4 542.5L1704.1 544.2L1717.5 554.2L1727.6 571.0L1734.3 594.4L1739.3 597.7L1741.0 607.8L1727.6 621.2L1720.9 627.9M2693.0 299.7L2689.7 309.7M286.7 674.3L243.3 806.0L431.7 1111.0L435.0 1126.0L438.3 1146.0L446.7 1156.0L441.7 1166.0L431.7 1176.0M771.7 814.3L730.0 1047.7L710.0 1176.0M1384.3 886.0L1451.0 884.3L1517.7 882.0L1567.7 879.3L1576.0 886.0L1582.7 892.7M1614.3 763.3L1674.3 757.7M1094.3 849.3L1089.3 909.3L1074.3 1092.0M1027.7 1089.3L1024.3 1119.3L1016.0 1176.0M1024.3 1119.3L1171.0 1130.0L1169.3 1176.0M1882.7 782.0L1892.0 862.7L1902.0 941.0M2072.0 737.7L2083.7 822.7L2097.0 872.7M2335.3 712.7L2333.7 726.0L2327.0 741.0L2330.3 756.0L2333.7 766.0L2345.3 776.0L2355.3 787.7L2345.3 799.3L2338.7 804.3M2145.3 862.7L2150.3 889.3L2162.0 881.0L2175.3 867.7L2192.0 864.3L2202.0 867.7L2205.3 856.0L2218.7 852.7L2227.0 862.7L2232.0 879.3L2232.0 867.7L2245.3 871.0L2258.7 879.3L2272.0 886.0M1902.0 941.0L1905.3 959.3L1888.7 969.3L1878.7 969.3L1875.3 982.7L1865.3 996.0L1857.0 1016.0L1847.0 1017.7L1838.7 1007.7L1828.7 1012.7L1825.3 1026.0L1815.3 1022.7L1802.0 1032.7L1785.3 1027.7L1772.0 1034.3L1758.7 1039.3L1753.7 1056.0L1738.7 1066.0L1737.0 1076.0L1740.3 1084.3L1727.0 1081.0L1712.0 1081.0L1707.0 1091.0M270.7 1227.3L330.0 1239.0L391.7 1249.0L385.0 1260.0L566.7 1375.7L673.3 1394.0L715.0 1402.3L723.3 1375.7L806.7 1387.3L813.3 1390.7L821.7 1404.0L833.3 1417.3L843.3 1427.3L853.3 1437.3M710.0 1172.3L673.3 1394.0M1169.3 1172.3L1166.0 1245.7L1176.0 1255.7L1184.3 1260.7L1194.3 1260.7L1199.3 1257.3L1204.3 1262.3L1206.0 1272.3L1217.7 1274.0L1227.7 1277.3L1236.0 1277.3L1242.7 1282.3L1251.0 1280.0L1261.0 1280.0L1264.3 1287.3L1269.3 1292.3L1274.3 1296.7L1284.3 1290.7L1294.3 1296.7L1304.3 1299.0L1312.7 1305.7L1317.7 1294.0L1326.0 1297.3L1336.0 1296.7L1344.3 1302.3L1352.7 1308.0L1364.3 1300.7L1377.7 1298.0L1389.3 1293.3L1401.0 1298.0L1411.0 1293.3L1424.3 1301.3L1434.3 1307.3L1447.7 1310.7L1457.7 1315.7L1471.0 1317.3L1472.7 1350.7L1472.7 1407.3L1473.7 1414.0L1482.7 1424.0L1487.7 1440.7L1496.0 1454.0L1501.0 1470.7L1497.7 1490.7L1492.7 1507.3L1492.7 1527.3L1489.3 1539.0L1482.7 1552.3M1674.3 1190.7L1667.7 1210.7L1662.7 1220.7L1651.0 1234.0L1646.0 1254.0L1634.3 1267.3L1627.7 1284.0L1617.7 1304.0L1621.0 1320.7L1624.3 1340.7L1622.7 1345.7L1624.3 1360.7L1627.7 1377.3L1636.0 1387.3L1631.0 1400.7L1621.0 1414.0L1612.7 1427.3L1607.7 1444.0L1604.3 1460.7L1602.7 1472.3L1674.3 1468.0M1151.0 1670.3L1162.7 1682.0L1169.3 1692.0L1167.7 1705.3L1171.0 1718.7L1179.3 1732.0L1184.3 1742.0L1186.0 1753.7L1194.3 1762.0L1204.3 1765.3L1214.3 1772.0L1227.7 1778.7L1244.3 1785.3L1264.3 1788.7L1277.7 1795.3L1284.3 1798.7L1291.0 1796.0"/>
</g>
<rect x="30.6" y="178.7" width="2789.9" height="1762.3" fill="none" stroke="#000" stroke-width="3.33"/>
<rect x="2994.5" y="1596.91" width="73.70" height="134.89" fill="#053061"/>
<rect x="2994.5" y="1462.62" width="73.70" height="134.89" fill="#256baf"/>
<rect x="2994.5" y="1328.33" width="73.70" height="134.89" fill="#559ec9"/>
<rect x="2994.5" y="1194.04" width="73.70" height="134.89" fill="#a7d0e4"/>
<rect x="2994.5" y="1059.75" width="73.70" height="134.89" fill="#e2edf3"/>
<rect x="2994.5" y="925.46" width="73.70" height="134.89" fill="#fae7dc"/>
<rect x="2994.5" y="791.17" width="73.70" height="134.89" fill="#f7b799"/>
<rect x="2994.5" y="656.88" width="73.70" height="134.89" fill="#dd6f59"/>
<rect x="2994.5" y="522.59" width="73.70" height="134.89" fill="#b6202f"/>
<rect x="2994.5" y="388.30" width="73.70" height="134.89" fill="#67001f"/>
<path d="M2994.5 388.3 L3031.35 321.15 L3068.2 388.3Z" fill="#67001f"/>
<path d="M2994.5 1731.2 L3031.35 1798.35 L3068.2 1731.2Z" fill="#053061"/>
<path d="M2994.5 1731.2 L3031.35 1798.35 L3068.2 1731.2 L3068.2 388.3 L3031.35 321.15 L2994.5 388.3Z" fill="none" stroke="#000" stroke-width="3.33" stroke-linejoin="miter"/>
<path d="M3069.8 1731.20 h14.6" stroke="#000" stroke-width="3.33"/>
<text x="3098.4" y="1747.00" font-size="41.67">0.0</text>
<path d="M3069.8 1596.91 h14.6" stroke="#000" stroke-width="3.33"/>
<text x="3098.4" y="1612.71" font-size="41.67">0.1</text>
<path d="M3069.8 1462.62 h14.6" stroke="#000" stroke-width="3.33"/>
<text x="3098.4" y="1478.42" font-size="41.67">0.2</text>
<path d="M3069.8 1328.33 h14.6" stroke="#000" stroke-width="3.33"/>
<text x="3098.4" y="1344.13" font-size="41.67">0.3</text>
<path d="M3069.8 1194.04 h14.6" stroke="#000" stroke-width="3.33"/>
<text x="3098.4" y="1209.84" font-size="41.67">0.4</text>
<path d="M3069.8 1059.75 h14.6" stroke="#000" stroke-width="3.33"/>
<text x="3098.4" y="1075.55" font-size="41.67">0.5</text>
<path d="M3069.8 925.46 h14.6" stroke="#000" stroke-width="3.33"/>
<text x="3098.4" y="941.26" font-size="41.67">0.6</text>
<path d="M3069.8 791.17 h14.6" stroke="#000" stroke-width="3.33"/>
<text x="3098.4" y="806.97" font-size="41.67">0.7</text>
<path d="M3069.8 656.88 h14.6" stroke="#000" stroke-width="3.33"/>
<text x="3098.4" y="672.68" font-size="41.67">0.8</text>
<path d="M3069.8 522.59 h14.6" stroke="#000" stroke-width="3.33"/>
<text x="3098.4" y="538.39" font-size="41.67">0.9</text>
<path d="M3069.8 388.30 h14.6" stroke="#000" stroke-width="3.33"/>
<text x="3098.4" y="404.10" font-size="41.67">1.0</text>
<text transform="translate(3211.6 1062.2) rotate(-90)" font-size="41.67" text-anchor="middle">Hit Rate</text>
</svg></body></html>
